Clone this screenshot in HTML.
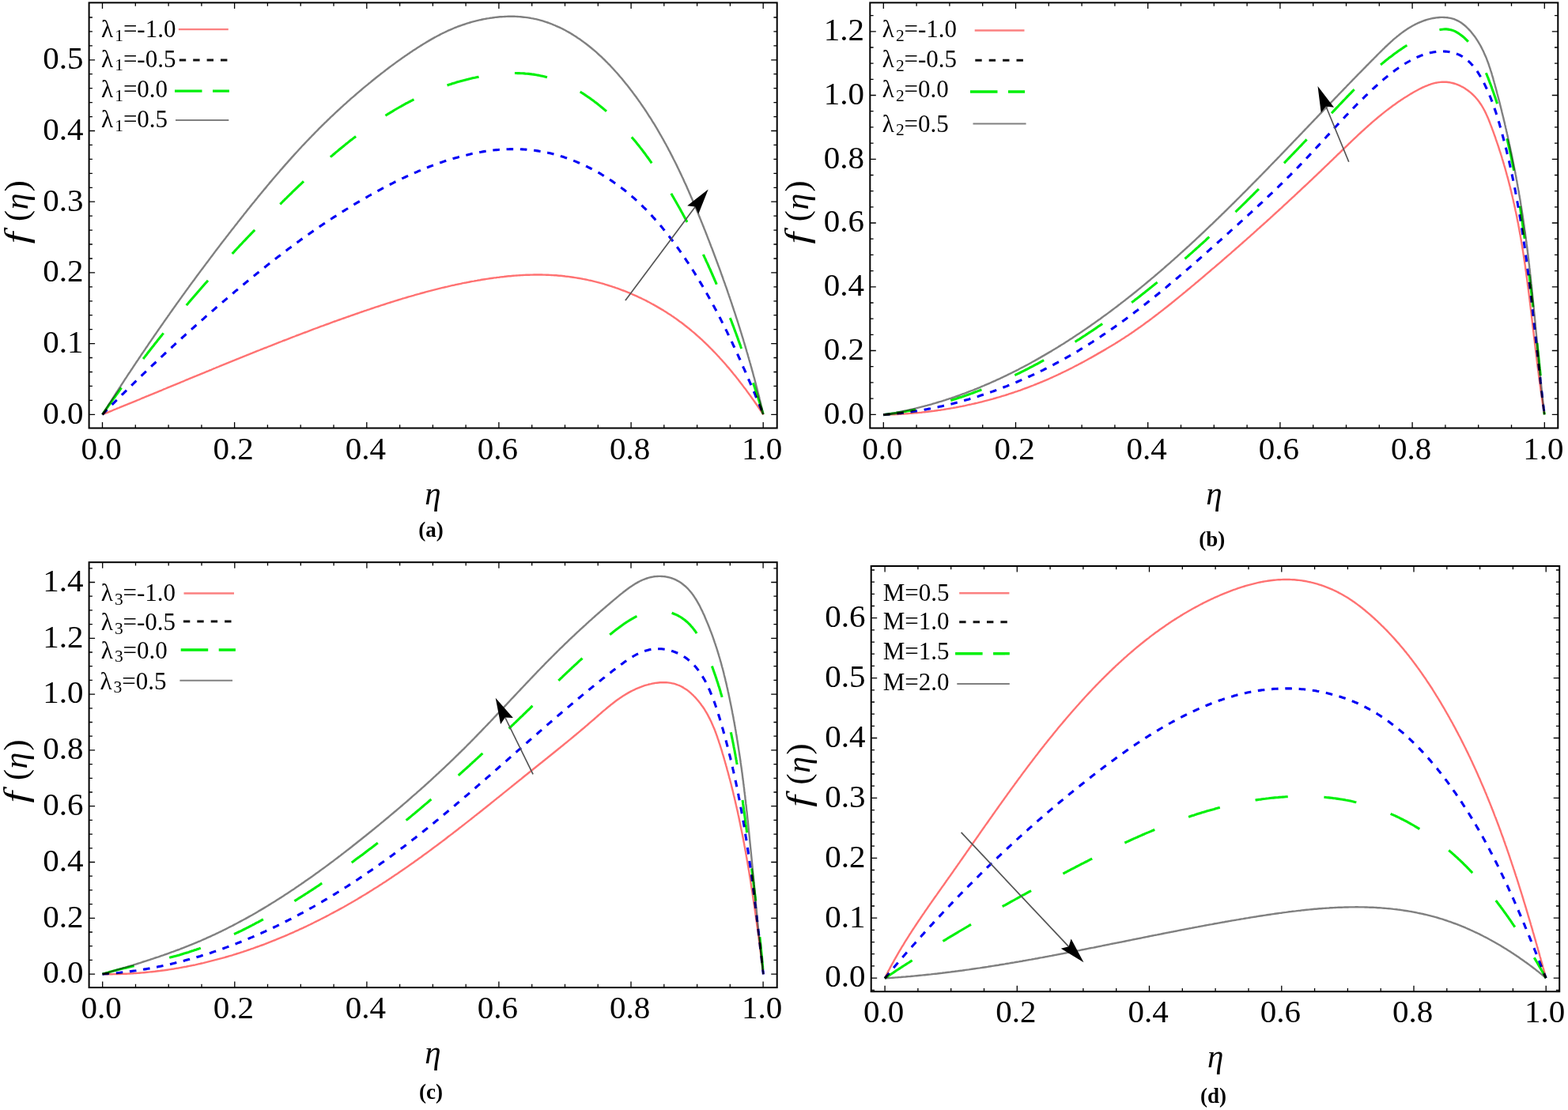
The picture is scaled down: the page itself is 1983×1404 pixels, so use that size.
<!DOCTYPE html><html><head><meta charset="utf-8"><style>html,body{margin:0;padding:0;background:#fff}svg{display:block}</style></head><body><svg xmlns="http://www.w3.org/2000/svg" width="1983" height="1404" viewBox="0 0 1983 1404" font-family="'Liberation Serif', 'Times New Roman', serif">
<rect width="1983" height="1404" fill="#fff"/>
<g>
<path d="M129.5 524.3L131.4 523.5L133.2 522.8L135.1 522.0L137.0 521.3L138.8 520.5L140.7 519.8L142.6 519.0L144.5 518.2L146.3 517.5L148.2 516.7L150.0 516.0L151.9 515.2L153.8 514.4L155.6 513.7L157.5 512.9L159.4 512.1L161.2 511.4L163.1 510.6L165.0 509.8L166.8 509.1L168.7 508.3L170.5 507.6L172.4 506.8L174.3 506.0L176.1 505.3L178.0 504.5L179.8 503.7L181.7 503.0L183.5 502.2L185.4 501.4L187.3 500.7L189.1 499.9L191.0 499.1L192.8 498.4L194.7 497.6L196.5 496.8L198.4 496.1L200.2 495.3L202.1 494.5L204.0 493.8L205.8 493.0L207.7 492.2L209.5 491.5L211.4 490.7L213.2 489.9L215.1 489.2L216.9 488.4L218.8 487.6L220.6 486.9L222.5 486.1L224.3 485.3L226.2 484.6L228.0 483.8L229.9 483.0L231.7 482.3L233.6 481.5L235.4 480.7L237.3 480.0L239.1 479.2L241.0 478.4L242.8 477.7L244.7 476.9L246.5 476.1L248.4 475.4L250.2 474.6L252.1 473.9L253.9 473.1L255.8 472.3L257.6 471.6L259.5 470.8L261.3 470.0L263.2 469.3L265.0 468.5L266.9 467.8L268.7 467.0L270.6 466.2L272.4 465.5L274.3 464.7L276.1 464.0L278.0 463.2L279.9 462.4L281.7 461.7L283.6 460.9L285.4 460.2L287.3 459.4L289.1 458.7L291.0 457.9L292.8 457.2L294.7 456.4L296.5 455.7L298.4 454.9L300.2 454.1L302.1 453.4L303.9 452.6L305.8 451.9L307.6 451.1L309.5 450.4L311.3 449.7L313.2 448.9L315.1 448.2L316.9 447.4L318.8 446.7L320.6 445.9L322.5 445.2L324.3 444.4L326.2 443.7L328.0 443.0L329.9 442.2L331.8 441.5L333.6 440.7L335.5 440.0L337.3 439.3L339.2 438.5L341.0 437.8L342.9 437.1L344.8 436.3L346.6 435.6L348.5 434.9L350.4 434.1L352.2 433.4L354.1 432.7L355.9 432.0L357.8 431.2L359.7 430.5L361.5 429.8L363.4 429.1L365.3 428.3L367.1 427.6L369.0 426.9L370.9 426.2L372.7 425.5L374.6 424.7L376.5 424.0L378.3 423.3L380.2 422.6L382.1 421.9L383.9 421.2L385.8 420.5L387.7 419.8L389.6 419.1L391.4 418.3L393.3 417.6L395.2 416.9L397.1 416.2L398.9 415.5L400.8 414.8L402.7 414.1L404.6 413.4L406.4 412.7L408.3 412.1L410.2 411.4L412.1 410.7L414.0 410.0L415.9 409.3L417.7 408.6L419.6 407.9L421.5 407.2L423.4 406.5L425.3 405.9L427.2 405.2L429.1 404.5L430.9 403.8L432.8 403.2L434.7 402.5L436.6 401.8L438.5 401.1L440.4 400.5L442.3 399.8L444.2 399.1L446.1 398.5L448.0 397.8L449.9 397.1L451.8 396.5L453.7 395.8L455.6 395.2L457.5 394.5L459.4 393.9L461.3 393.2L463.2 392.6L465.1 391.9L467.0 391.3L468.9 390.6L470.8 390.0L472.7 389.4L474.6 388.7L476.5 388.1L478.5 387.5L480.4 386.8L482.3 386.2L484.2 385.6L486.1 385.0L488.0 384.3L490.0 383.7L491.9 383.1L493.8 382.5L495.7 381.9L497.6 381.3L499.6 380.7L501.5 380.1L503.4 379.5L505.3 378.9L507.3 378.3L509.2 377.7L511.1 377.2L513.1 376.6L515.0 376.0L516.9 375.4L518.9 374.9L520.8 374.3L522.7 373.8L524.7 373.2L526.6 372.6L528.6 372.1L530.5 371.6L532.4 371.0L534.4 370.5L536.3 370.0L538.3 369.4L540.2 368.9L542.2 368.4L544.1 367.9L546.1 367.4L548.0 366.9L550.0 366.4L551.9 365.9L553.9 365.4L555.8 364.9L557.8 364.4L559.8 363.9L561.7 363.5L563.7 363.0L565.6 362.6L567.6 362.1L569.6 361.6L571.5 361.2L573.5 360.8L575.5 360.3L577.5 359.9L579.4 359.5L581.4 359.1L583.4 358.7L585.4 358.2L587.3 357.8L589.3 357.5L591.3 357.1L593.3 356.7L595.3 356.3L597.2 355.9L599.2 355.6L601.2 355.2L603.2 354.9L605.2 354.5L607.2 354.2L609.2 353.8L611.2 353.5L613.2 353.2L615.2 352.9L617.2 352.6L619.2 352.3L621.2 352.0L623.2 351.7L625.2 351.4L627.2 351.2L629.2 350.9L631.2 350.7L633.2 350.4L635.2 350.2L637.2 350.0L639.2 349.7L641.2 349.5L643.2 349.3L645.2 349.2L647.2 349.0L649.2 348.8L651.2 348.6L653.2 348.5L655.2 348.4L657.2 348.2L659.2 348.1L661.2 348.0L663.2 347.9L665.2 347.8L667.2 347.7L669.2 347.7L671.2 347.6L673.2 347.6L675.2 347.5L677.2 347.5L679.2 347.5L681.2 347.5L683.2 347.5L685.2 347.5L687.2 347.6L689.2 347.6L691.2 347.7L693.2 347.8L695.2 347.9L697.2 348.0L699.2 348.1L701.2 348.2L703.2 348.3L705.1 348.5L707.1 348.7L709.1 348.8L711.1 349.0L713.1 349.2L715.0 349.5L717.0 349.7L719.0 349.9L721.0 350.2L722.9 350.5L724.9 350.8L726.9 351.1L728.8 351.4L730.8 351.7L732.7 352.0L734.7 352.4L736.7 352.8L738.6 353.1L740.6 353.5L742.5 353.9L744.4 354.4L746.4 354.8L748.3 355.2L750.2 355.7L752.2 356.2L754.1 356.6L756.0 357.1L758.0 357.6L759.9 358.2L761.8 358.7L763.7 359.2L765.6 359.8L767.5 360.4L769.4 361.0L771.3 361.6L773.2 362.2L775.1 362.8L777.0 363.4L778.8 364.1L780.7 364.7L782.6 365.4L784.5 366.1L786.3 366.8L788.2 367.5L790.0 368.2L791.9 368.9L793.7 369.7L795.6 370.4L797.4 371.2L799.2 372.0L801.1 372.8L802.9 373.6L804.7 374.4L806.5 375.2L808.3 376.1L810.1 376.9L811.9 377.8L813.7 378.7L815.5 379.5L817.3 380.4L819.0 381.4L820.8 382.3L822.6 383.2L824.3 384.2L826.1 385.1L827.8 386.1L829.6 387.1L831.3 388.1L833.0 389.1L834.7 390.1L836.4 391.1L838.2 392.1L839.9 393.2L841.6 394.2L843.2 395.3L844.9 396.4L846.6 397.5L848.3 398.6L849.9 399.7L851.6 400.8L853.2 402.0L854.9 403.1L856.5 404.3L858.1 405.5L859.7 406.7L861.4 407.8L863.0 409.0L864.6 410.3L866.1 411.5L867.7 412.7L869.3 414.0L870.9 415.2L872.4 416.5L874.0 417.8L875.5 419.1L877.1 420.4L878.6 421.7L880.1 423.0L881.6 424.3L883.1 425.7L884.6 427.0L886.1 428.4L887.6 429.7L889.1 431.1L890.5 432.5L892.0 433.9L893.5 435.3L894.9 436.7L896.3 438.1L897.8 439.6L899.2 441.0L900.6 442.4L902.0 443.9L903.4 445.3L904.8 446.8L906.2 448.3L907.6 449.8L909.0 451.2L910.3 452.7L911.7 454.2L913.1 455.7L914.4 457.3L915.8 458.8L917.1 460.3L918.4 461.8L919.7 463.4L921.1 464.9L922.4 466.4L923.7 468.0L925.0 469.6L926.3 471.1L927.5 472.7L928.8 474.2L930.1 475.8L931.4 477.4L932.6 479.0L933.9 480.6L935.1 482.2L936.3 483.8L937.6 485.4L938.8 487.0L940.0 488.6L941.2 490.2L942.5 491.8L943.7 493.4L944.8 495.0L946.0 496.6L947.2 498.3L948.4 499.9L949.6 501.5L950.7 503.1L951.9 504.8L953.1 506.4L954.2 508.0L955.4 509.7L956.5 511.3L957.6 512.9L958.8 514.6L959.9 516.2L961.0 517.8L962.1 519.5L963.2 521.1L964.3 522.8L965.4 524.4" fill="none" stroke="#ff7272" stroke-width="2.4" stroke-linejoin="round" style="mix-blend-mode:multiply"/>
<path d="M129.5 524.3L130.9 522.9L132.3 521.5L133.6 520.1L135.0 518.7L136.4 517.3L137.8 515.9L139.2 514.5L140.6 513.0L142.0 511.6L143.4 510.2L144.8 508.8L146.2 507.4L147.6 506.0L149.0 504.6L150.4 503.2L151.8 501.8L153.2 500.4L154.6 499.0L156.1 497.6L157.5 496.2L158.9 494.8L160.3 493.4L161.7 492.0L163.2 490.6L164.6 489.2L166.0 487.8L167.5 486.4L168.9 485.0L170.3 483.6L171.8 482.2L173.2 480.8L174.6 479.4L176.1 478.0L177.5 476.6L179.0 475.2L180.4 473.8L181.9 472.4L183.3 471.1L184.8 469.7L186.2 468.3L187.7 466.9L189.2 465.5L190.6 464.1L192.1 462.7L193.5 461.3L195.0 460.0L196.5 458.6L197.9 457.2L199.4 455.8L200.9 454.4L202.4 453.0L203.8 451.7L205.3 450.3L206.8 448.9L208.3 447.5L209.7 446.2L211.2 444.8L212.7 443.4L214.2 442.0L215.7 440.7L217.2 439.3L218.6 437.9L220.1 436.6L221.6 435.2L223.1 433.8L224.6 432.5L226.1 431.1L227.6 429.7L229.1 428.4L230.6 427.0L232.1 425.7L233.6 424.3L235.1 422.9L236.6 421.6L238.1 420.2L239.6 418.9L241.1 417.5L242.6 416.2L244.1 414.8L245.6 413.5L247.1 412.1L248.6 410.8L250.1 409.5L251.7 408.1L253.2 406.8L254.7 405.4L256.2 404.1L257.7 402.8L259.2 401.4L260.7 400.1L262.3 398.8L263.8 397.5L265.3 396.1L266.8 394.8L268.3 393.5L269.9 392.2L271.4 390.8L272.9 389.5L274.4 388.2L275.9 386.9L277.5 385.6L279.0 384.3L280.5 383.0L282.0 381.7L283.6 380.4L285.1 379.1L286.6 377.8L288.1 376.5L289.7 375.2L291.2 373.9L292.7 372.6L294.3 371.3L295.8 370.0L297.3 368.7L298.8 367.4L300.4 366.2L301.9 364.9L303.4 363.6L305.0 362.3L306.5 361.0L308.0 359.8L309.6 358.5L311.1 357.2L312.6 356.0L314.2 354.7L315.7 353.4L317.2 352.2L318.8 350.9L320.3 349.7L321.9 348.4L323.4 347.2L324.9 345.9L326.5 344.7L328.0 343.4L329.6 342.2L331.1 341.0L332.7 339.7L334.2 338.5L335.8 337.3L337.3 336.0L338.9 334.8L340.4 333.6L342.0 332.4L343.5 331.1L345.1 329.9L346.7 328.7L348.2 327.5L349.8 326.3L351.3 325.1L352.9 323.9L354.5 322.7L356.0 321.5L357.6 320.3L359.2 319.1L360.8 317.9L362.3 316.7L363.9 315.5L365.5 314.3L367.1 313.2L368.7 312.0L370.2 310.8L371.8 309.6L373.4 308.5L375.0 307.3L376.6 306.1L378.2 305.0L379.8 303.8L381.4 302.6L383.0 301.5L384.6 300.3L386.2 299.2L387.8 298.0L389.5 296.9L391.1 295.8L392.7 294.6L394.3 293.5L395.9 292.4L397.6 291.2L399.2 290.1L400.8 289.0L402.5 287.9L404.1 286.7L405.7 285.6L407.4 284.5L409.0 283.4L410.7 282.3L412.3 281.2L414.0 280.1L415.6 279.0L417.3 277.9L419.0 276.8L420.6 275.7L422.3 274.6L424.0 273.6L425.7 272.5L427.3 271.4L429.0 270.3L430.7 269.3L432.4 268.2L434.1 267.1L435.8 266.1L437.5 265.0L439.2 264.0L440.9 262.9L442.6 261.9L444.3 260.8L446.1 259.8L447.8 258.7L449.5 257.7L451.2 256.7L453.0 255.6L454.7 254.6L456.5 253.6L458.2 252.6L460.0 251.6L461.7 250.6L463.5 249.6L465.2 248.5L467.0 247.5L468.8 246.5L470.6 245.6L472.3 244.6L474.1 243.6L475.9 242.6L477.7 241.6L479.5 240.6L481.3 239.7L483.1 238.7L484.9 237.7L486.7 236.8L488.5 235.8L490.4 234.9L492.2 233.9L494.0 233.0L495.8 232.1L497.7 231.2L499.5 230.2L501.4 229.3L503.2 228.4L505.1 227.5L506.9 226.6L508.8 225.7L510.6 224.9L512.5 224.0L514.3 223.1L516.2 222.3L518.1 221.4L519.9 220.6L521.8 219.7L523.7 218.9L525.6 218.1L527.4 217.3L529.3 216.4L531.2 215.7L533.1 214.9L535.0 214.1L536.9 213.3L538.8 212.5L540.7 211.8L542.6 211.0L544.5 210.3L546.4 209.6L548.3 208.9L550.2 208.2L552.1 207.5L554.0 206.8L556.0 206.1L557.9 205.4L559.8 204.8L561.7 204.1L563.6 203.5L565.6 202.9L567.5 202.3L569.4 201.7L571.4 201.1L573.3 200.5L575.2 199.9L577.1 199.4L579.1 198.9L581.0 198.3L583.0 197.8L584.9 197.3L586.8 196.8L588.8 196.3L590.7 195.9L592.7 195.4L594.6 195.0L596.5 194.5L598.5 194.1L600.4 193.7L602.4 193.3L604.3 193.0L606.3 192.6L608.2 192.3L610.2 191.9L612.1 191.6L614.1 191.3L616.0 191.0L618.0 190.8L619.9 190.5L621.9 190.3L623.8 190.0L625.8 189.8L627.7 189.6L629.7 189.5L631.6 189.3L633.6 189.2L635.5 189.0L637.5 188.9L639.4 188.8L641.4 188.7L643.3 188.7L645.3 188.6L647.2 188.6L649.1 188.6L651.1 188.6L653.0 188.6L655.0 188.6L656.9 188.7L658.9 188.8L660.8 188.9L662.8 189.0L664.7 189.1L666.6 189.3L668.6 189.4L670.5 189.6L672.4 189.8L674.4 190.1L676.3 190.3L678.3 190.6L680.2 190.9L682.1 191.2L684.0 191.5L686.0 191.8L687.9 192.2L689.8 192.6L691.7 193.0L693.7 193.4L695.6 193.8L697.5 194.3L699.4 194.8L701.3 195.3L703.2 195.8L705.1 196.3L707.0 196.9L708.9 197.5L710.8 198.0L712.7 198.6L714.6 199.3L716.5 199.9L718.3 200.6L720.2 201.3L722.1 201.9L724.0 202.7L725.8 203.4L727.7 204.1L729.5 204.9L731.4 205.7L733.2 206.5L735.0 207.3L736.9 208.1L738.7 208.9L740.5 209.8L742.3 210.7L744.1 211.6L745.9 212.5L747.7 213.4L749.5 214.3L751.3 215.3L753.1 216.2L754.8 217.2L756.6 218.2L758.4 219.2L760.1 220.2L761.8 221.3L763.6 222.3L765.3 223.4L767.0 224.4L768.7 225.5L770.4 226.6L772.1 227.8L773.8 228.9L775.4 230.0L777.1 231.2L778.8 232.3L780.4 233.5L782.1 234.7L783.7 235.9L785.3 237.1L786.9 238.4L788.5 239.6L790.1 240.8L791.7 242.1L793.2 243.4L794.8 244.7L796.3 246.0L797.9 247.3L799.4 248.6L800.9 249.9L802.4 251.2L803.9 252.6L805.4 253.9L806.9 255.3L808.4 256.7L809.8 258.1L811.3 259.5L812.7 260.9L814.1 262.3L815.6 263.7L817.0 265.1L818.4 266.6L819.8 268.0L821.2 269.5L822.5 271.0L823.9 272.4L825.3 273.9L826.6 275.4L828.0 276.9L829.3 278.4L830.6 279.9L832.0 281.4L833.3 283.0L834.6 284.5L835.9 286.0L837.2 287.6L838.4 289.1L839.7 290.7L841.0 292.3L842.2 293.8L843.5 295.4L844.7 297.0L846.0 298.6L847.2 300.2L848.4 301.8L849.7 303.4L850.9 305.0L852.1 306.6L853.3 308.2L854.4 309.8L855.6 311.5L856.8 313.1L858.0 314.7L859.1 316.4L860.3 318.0L861.5 319.6L862.6 321.3L863.7 322.9L864.9 324.6L866.0 326.3L867.1 327.9L868.2 329.6L869.3 331.3L870.5 332.9L871.6 334.6L872.6 336.3L873.7 338.0L874.8 339.6L875.9 341.3L877.0 343.0L878.0 344.7L879.1 346.4L880.1 348.1L881.2 349.8L882.2 351.5L883.3 353.2L884.3 354.9L885.3 356.6L886.4 358.4L887.4 360.1L888.4 361.8L889.4 363.5L890.4 365.2L891.4 367.0L892.4 368.7L893.4 370.4L894.4 372.2L895.4 373.9L896.4 375.7L897.3 377.4L898.3 379.1L899.3 380.9L900.2 382.6L901.2 384.4L902.1 386.2L903.1 387.9L904.0 389.7L905.0 391.4L905.9 393.2L906.8 395.0L907.8 396.7L908.7 398.5L909.6 400.3L910.5 402.1L911.4 403.8L912.3 405.6L913.2 407.4L914.1 409.2L915.0 411.0L915.9 412.8L916.8 414.5L917.7 416.3L918.6 418.1L919.5 419.9L920.3 421.7L921.2 423.5L922.1 425.3L922.9 427.1L923.8 428.9L924.7 430.7L925.5 432.5L926.4 434.3L927.2 436.2L928.1 438.0L928.9 439.8L929.7 441.6L930.6 443.4L931.4 445.2L932.3 447.1L933.1 448.9L933.9 450.7L934.7 452.5L935.6 454.3L936.4 456.2L937.2 458.0L938.0 459.8L938.8 461.7L939.6 463.5L940.4 465.3L941.3 467.2L942.1 469.0L942.9 470.8L943.7 472.7L944.5 474.5L945.3 476.3L946.0 478.2L946.8 480.0L947.6 481.9L948.4 483.7L949.2 485.5L950.0 487.4L950.8 489.2L951.6 491.1L952.3 492.9L953.1 494.8L953.9 496.6L954.7 498.5L955.4 500.3L956.2 502.2L957.0 504.0L957.8 505.9L958.5 507.7L959.3 509.6L960.1 511.4L960.8 513.3L961.6 515.1L962.4 517.0L963.1 518.8L963.9 520.7L964.6 522.5L965.4 524.4" fill="none" stroke="#0000f5" stroke-width="3.1" stroke-dasharray="8.6 8.7" stroke-linejoin="round" style="mix-blend-mode:multiply"/>
<path d="M129.5 524.3L130.7 522.6L131.8 521.0L133.0 519.3L134.2 517.6L135.4 515.9L136.5 514.3L137.7 512.6L138.9 511.0L140.1 509.3L141.3 507.6L142.4 506.0L143.6 504.3L144.8 502.7L146.0 501.1L147.2 499.4L148.4 497.8L149.6 496.1L150.7 494.5L151.9 492.9L153.1 491.2L154.3 489.6L155.5 488.0L156.7 486.3L157.9 484.7L159.1 483.1L160.3 481.5L161.5 479.8L162.7 478.2L163.9 476.6L165.1 475.0L166.3 473.4L167.5 471.8L168.7 470.2L169.9 468.6L171.1 467.0L172.4 465.4L173.6 463.8L174.8 462.2L176.0 460.6L177.2 459.0L178.4 457.4L179.7 455.8L180.9 454.2L182.1 452.6L183.3 451.1L184.5 449.5L185.8 447.9L187.0 446.3L188.2 444.7L189.4 443.2L190.7 441.6L191.9 440.0L193.1 438.5L194.4 436.9L195.6 435.3L196.8 433.8L198.1 432.2L199.3 430.6L200.6 429.1L201.8 427.5L203.0 426.0L204.3 424.4L205.5 422.9L206.8 421.3L208.0 419.8L209.3 418.2L210.5 416.7L211.8 415.1L213.0 413.6L214.3 412.1L215.6 410.5L216.8 409.0L218.1 407.5L219.3 405.9L220.6 404.4L221.9 402.9L223.1 401.3L224.4 399.8L225.7 398.3L226.9 396.8L228.2 395.2L229.5 393.7L230.8 392.2L232.0 390.7L233.3 389.2L234.6 387.7L235.9 386.1L237.2 384.6L238.4 383.1L239.7 381.6L241.0 380.1L242.3 378.6L243.6 377.1L244.9 375.6L246.2 374.1L247.5 372.6L248.8 371.1L250.1 369.6L251.4 368.1L252.7 366.6L254.0 365.1L255.3 363.6L256.6 362.1L257.9 360.6L259.2 359.1L260.5 357.6L261.8 356.2L263.1 354.7L264.5 353.2L265.8 351.7L267.1 350.2L268.4 348.7L269.7 347.3L271.1 345.8L272.4 344.3L273.7 342.8L275.0 341.4L276.4 339.9L277.7 338.4L279.0 336.9L280.4 335.5L281.7 334.0L283.0 332.5L284.4 331.1L285.7 329.6L287.1 328.1L288.4 326.7L289.8 325.2L291.1 323.7L292.5 322.3L293.8 320.8L295.2 319.4L296.5 317.9L297.9 316.4L299.2 315.0L300.6 313.5L302.0 312.1L303.3 310.6L304.7 309.2L306.1 307.7L307.4 306.3L308.8 304.8L310.2 303.4L311.6 301.9L312.9 300.5L314.3 299.0L315.7 297.6L317.1 296.1L318.5 294.7L319.9 293.2L321.3 291.8L322.6 290.4L324.0 288.9L325.4 287.5L326.8 286.0L328.2 284.6L329.6 283.2L331.0 281.7L332.4 280.3L333.8 278.8L335.2 277.4L336.7 276.0L338.1 274.5L339.5 273.1L340.9 271.7L342.3 270.2L343.7 268.8L345.2 267.4L346.6 265.9L348.0 264.5L349.4 263.1L350.9 261.7L352.3 260.2L353.7 258.8L355.2 257.4L356.6 256.0L358.0 254.5L359.5 253.1L360.9 251.7L362.4 250.3L363.8 248.8L365.3 247.4L366.7 246.0L368.2 244.6L369.6 243.1L371.1 241.7L372.5 240.3L374.0 238.9L375.5 237.5L376.9 236.1L378.4 234.7L379.9 233.3L381.4 231.9L382.8 230.5L384.3 229.1L385.8 227.7L387.3 226.3L388.8 224.9L390.3 223.5L391.7 222.1L393.2 220.7L394.7 219.3L396.2 218.0L397.7 216.6L399.2 215.2L400.7 213.8L402.3 212.5L403.8 211.1L405.3 209.8L406.8 208.4L408.3 207.0L409.8 205.7L411.4 204.3L412.9 203.0L414.4 201.7L416.0 200.3L417.5 199.0L419.0 197.7L420.6 196.4L422.1 195.0L423.7 193.7L425.2 192.4L426.8 191.1L428.3 189.8L429.9 188.5L431.5 187.2L433.0 186.0L434.6 184.7L436.2 183.4L437.7 182.1L439.3 180.9L440.9 179.6L442.5 178.3L444.1 177.1L445.7 175.9L447.3 174.6L448.9 173.4L450.5 172.2L452.1 170.9L453.7 169.7L455.3 168.5L456.9 167.3L458.5 166.1L460.1 164.9L461.8 163.8L463.4 162.6L465.0 161.4L466.7 160.3L468.3 159.1L469.9 157.9L471.6 156.8L473.2 155.7L474.9 154.5L476.5 153.4L478.2 152.3L479.9 151.2L481.5 150.1L483.2 149.0L484.9 147.9L486.6 146.8L488.2 145.8L489.9 144.7L491.6 143.7L493.3 142.6L495.0 141.6L496.7 140.6L498.4 139.5L500.1 138.5L501.8 137.5L503.6 136.5L505.3 135.5L507.0 134.6L508.7 133.6L510.5 132.6L512.2 131.7L513.9 130.7L515.7 129.8L517.4 128.9L519.2 128.0L520.9 127.1L522.7 126.2L524.5 125.3L526.2 124.4L528.0 123.5L529.8 122.7L531.6 121.8L533.3 121.0L535.1 120.2L536.9 119.3L538.7 118.5L540.5 117.7L542.3 117.0L544.2 116.2L546.0 115.4L547.8 114.7L549.6 113.9L551.4 113.2L553.3 112.5L555.1 111.7L557.0 111.0L558.8 110.4L560.7 109.7L562.5 109.0L564.4 108.4L566.2 107.7L568.1 107.1L570.0 106.5L571.9 105.8L573.8 105.2L575.6 104.7L577.5 104.1L579.4 103.5L581.3 103.0L583.2 102.4L585.2 101.9L587.1 101.4L589.0 100.9L590.9 100.4L592.9 99.9L594.8 99.5L596.7 99.0L598.7 98.6L600.6 98.2L602.6 97.7L604.6 97.4L606.5 97.0L608.5 96.6L610.5 96.2L612.5 95.9L614.4 95.6L616.4 95.3L618.4 95.0L620.4 94.7L622.4 94.4L624.4 94.1L626.4 93.9L628.4 93.7L630.4 93.5L632.4 93.3L634.5 93.1L636.5 93.0L638.5 92.9L640.5 92.8L642.5 92.7L644.5 92.6L646.5 92.6L648.5 92.5L650.5 92.5L652.5 92.5L654.6 92.6L656.6 92.6L658.6 92.7L660.6 92.8L662.6 92.9L664.5 93.1L666.5 93.2L668.5 93.4L670.5 93.6L672.5 93.9L674.5 94.1L676.4 94.4L678.4 94.8L680.3 95.1L682.3 95.5L684.2 95.9L686.2 96.3L688.1 96.7L690.0 97.2L692.0 97.7L693.9 98.2L695.8 98.8L697.7 99.4L699.6 100.0L701.5 100.7L703.3 101.3L705.2 102.0L707.0 102.7L708.9 103.5L710.7 104.2L712.6 105.0L714.4 105.9L716.2 106.7L718.0 107.6L719.8 108.4L721.6 109.3L723.4 110.3L725.2 111.2L726.9 112.2L728.7 113.2L730.5 114.2L732.2 115.2L733.9 116.2L735.6 117.3L737.4 118.4L739.1 119.5L740.7 120.6L742.4 121.7L744.1 122.9L745.8 124.0L747.4 125.2L749.1 126.4L750.7 127.6L752.3 128.9L753.9 130.1L755.5 131.3L757.1 132.6L758.7 133.9L760.3 135.2L761.9 136.5L763.4 137.8L765.0 139.1L766.5 140.4L768.0 141.8L769.5 143.1L771.0 144.5L772.5 145.8L774.0 147.2L775.5 148.6L776.9 150.0L778.4 151.4L779.8 152.8L781.2 154.2L782.7 155.7L784.1 157.1L785.5 158.5L786.8 160.0L788.2 161.5L789.6 162.9L791.0 164.4L792.3 165.9L793.7 167.4L795.0 168.9L796.3 170.4L797.6 171.9L798.9 173.4L800.2 175.0L801.5 176.5L802.8 178.0L804.1 179.6L805.4 181.2L806.6 182.7L807.9 184.3L809.1 185.9L810.3 187.4L811.6 189.0L812.8 190.6L814.0 192.2L815.2 193.8L816.4 195.4L817.6 197.1L818.8 198.7L820.0 200.3L821.1 201.9L822.3 203.6L823.4 205.2L824.6 206.9L825.7 208.5L826.9 210.2L828.0 211.8L829.1 213.5L830.2 215.2L831.3 216.9L832.5 218.5L833.6 220.2L834.6 221.9L835.7 223.6L836.8 225.3L837.9 227.0L839.0 228.7L840.0 230.4L841.1 232.1L842.1 233.8L843.2 235.5L844.2 237.2L845.3 238.9L846.3 240.7L847.3 242.4L848.4 244.1L849.4 245.8L850.4 247.6L851.4 249.3L852.4 251.0L853.4 252.8L854.4 254.5L855.4 256.2L856.4 258.0L857.4 259.7L858.4 261.5L859.4 263.2L860.4 265.0L861.3 266.7L862.3 268.5L863.3 270.2L864.2 272.0L865.2 273.8L866.1 275.5L867.1 277.3L868.0 279.0L868.9 280.8L869.9 282.6L870.8 284.4L871.7 286.1L872.6 287.9L873.6 289.7L874.5 291.5L875.4 293.2L876.3 295.0L877.2 296.8L878.1 298.6L879.0 300.4L879.9 302.2L880.8 304.0L881.7 305.8L882.5 307.6L883.4 309.4L884.3 311.2L885.2 313.0L886.0 314.8L886.9 316.6L887.7 318.4L888.6 320.2L889.4 322.0L890.3 323.8L891.1 325.6L892.0 327.4L892.8 329.3L893.6 331.1L894.5 332.9L895.3 334.7L896.1 336.5L896.9 338.4L897.8 340.2L898.6 342.0L899.4 343.8L900.2 345.7L901.0 347.5L901.8 349.3L902.6 351.2L903.4 353.0L904.2 354.8L905.0 356.7L905.8 358.5L906.5 360.4L907.3 362.2L908.1 364.1L908.9 365.9L909.6 367.8L910.4 369.6L911.2 371.4L911.9 373.3L912.7 375.2L913.4 377.0L914.2 378.9L915.0 380.7L915.7 382.6L916.4 384.4L917.2 386.3L917.9 388.2L918.7 390.0L919.4 391.9L920.1 393.7L920.9 395.6L921.6 397.5L922.3 399.3L923.0 401.2L923.7 403.1L924.5 405.0L925.2 406.8L925.9 408.7L926.6 410.6L927.3 412.4L928.0 414.3L928.7 416.2L929.4 418.1L930.1 420.0L930.8 421.8L931.5 423.7L932.2 425.6L932.9 427.5L933.5 429.4L934.2 431.3L934.9 433.1L935.6 435.0L936.3 436.9L936.9 438.8L937.6 440.7L938.3 442.6L938.9 444.5L939.6 446.4L940.3 448.3L940.9 450.1L941.6 452.0L942.2 453.9L942.9 455.8L943.6 457.7L944.2 459.6L944.9 461.5L945.5 463.4L946.2 465.3L946.8 467.2L947.4 469.1L948.1 471.0L948.7 472.9L949.4 474.8L950.0 476.7L950.6 478.6L951.3 480.5L951.9 482.4L952.5 484.3L953.1 486.2L953.8 488.1L954.4 490.0L955.0 491.9L955.6 493.9L956.3 495.8L956.9 497.7L957.5 499.6L958.1 501.5L958.7 503.4L959.3 505.3L960.0 507.2L960.6 509.1L961.2 511.0L961.8 512.9L962.4 514.8L963.0 516.8L963.6 518.7L964.2 520.6L964.8 522.5L965.4 524.4" fill="none" stroke="#00f00a" stroke-width="3.1" stroke-dasharray="41.5 45.7" stroke-dashoffset="0" stroke-linejoin="round" style="mix-blend-mode:multiply"/>
<path d="M129.5 524.3L130.6 522.6L131.6 520.9L132.7 519.2L133.8 517.5L134.9 515.8L136.0 514.1L137.0 512.4L138.1 510.7L139.2 509.1L140.3 507.4L141.4 505.7L142.4 504.0L143.5 502.3L144.6 500.6L145.7 498.9L146.8 497.2L147.9 495.5L149.0 493.9L150.1 492.2L151.2 490.5L152.3 488.8L153.3 487.1L154.4 485.5L155.5 483.8L156.6 482.1L157.7 480.4L158.8 478.7L159.9 477.1L161.0 475.4L162.1 473.7L163.2 472.0L164.4 470.4L165.5 468.7L166.6 467.0L167.7 465.4L168.8 463.7L169.9 462.0L171.0 460.4L172.1 458.7L173.2 457.0L174.4 455.4L175.5 453.7L176.6 452.0L177.7 450.4L178.8 448.7L179.9 447.0L181.1 445.4L182.2 443.7L183.3 442.1L184.4 440.4L185.6 438.7L186.7 437.1L187.8 435.4L188.9 433.8L190.1 432.1L191.2 430.5L192.3 428.8L193.5 427.2L194.6 425.5L195.7 423.9L196.9 422.2L198.0 420.6L199.2 418.9L200.3 417.3L201.4 415.6L202.6 414.0L203.7 412.3L204.9 410.7L206.0 409.1L207.2 407.4L208.3 405.8L209.5 404.1L210.6 402.5L211.8 400.9L212.9 399.2L214.1 397.6L215.2 395.9L216.4 394.3L217.5 392.7L218.7 391.0L219.9 389.4L221.0 387.8L222.2 386.1L223.3 384.5L224.5 382.9L225.7 381.3L226.8 379.6L228.0 378.0L229.2 376.4L230.3 374.7L231.5 373.1L232.7 371.5L233.9 369.9L235.0 368.2L236.2 366.6L237.4 365.0L238.6 363.4L239.7 361.8L240.9 360.1L242.1 358.5L243.3 356.9L244.5 355.3L245.7 353.7L246.8 352.1L248.0 350.5L249.2 348.8L250.4 347.2L251.6 345.6L252.8 344.0L254.0 342.4L255.2 340.8L256.4 339.2L257.6 337.6L258.8 336.0L260.0 334.4L261.2 332.8L262.4 331.2L263.6 329.6L264.8 328.0L266.0 326.4L267.2 324.8L268.4 323.2L269.6 321.6L270.8 320.0L272.0 318.4L273.2 316.8L274.4 315.2L275.7 313.6L276.9 312.0L278.1 310.4L279.3 308.8L280.5 307.2L281.8 305.6L283.0 304.0L284.2 302.4L285.4 300.9L286.6 299.3L287.9 297.7L289.1 296.1L290.3 294.5L291.6 292.9L292.8 291.3L294.0 289.8L295.3 288.2L296.5 286.6L297.7 285.0L299.0 283.4L300.2 281.9L301.4 280.3L302.7 278.7L303.9 277.1L305.2 275.6L306.4 274.0L307.7 272.4L308.9 270.8L310.2 269.3L311.4 267.7L312.7 266.1L313.9 264.6L315.2 263.0L316.4 261.4L317.7 259.9L318.9 258.3L320.2 256.7L321.5 255.2L322.7 253.6L324.0 252.1L325.3 250.5L326.5 248.9L327.8 247.4L329.1 245.8L330.4 244.3L331.6 242.7L332.9 241.2L334.2 239.6L335.5 238.1L336.8 236.6L338.0 235.0L339.3 233.5L340.6 231.9L341.9 230.4L343.2 228.9L344.5 227.3L345.8 225.8L347.1 224.3L348.4 222.7L349.7 221.2L351.0 219.7L352.3 218.2L353.6 216.7L354.9 215.1L356.3 213.6L357.6 212.1L358.9 210.6L360.2 209.1L361.5 207.6L362.9 206.1L364.2 204.6L365.5 203.1L366.9 201.6L368.2 200.1L369.5 198.6L370.9 197.1L372.2 195.6L373.6 194.1L374.9 192.7L376.3 191.2L377.6 189.7L379.0 188.2L380.4 186.8L381.7 185.3L383.1 183.8L384.5 182.4L385.9 180.9L387.2 179.5L388.6 178.0L390.0 176.6L391.4 175.1L392.8 173.7L394.2 172.2L395.6 170.8L397.0 169.4L398.4 167.9L399.8 166.5L401.2 165.1L402.6 163.6L404.0 162.2L405.4 160.8L406.8 159.4L408.3 158.0L409.7 156.6L411.1 155.2L412.6 153.8L414.0 152.4L415.5 151.0L416.9 149.6L418.3 148.2L419.8 146.9L421.3 145.5L422.7 144.1L424.2 142.7L425.6 141.4L427.1 140.0L428.6 138.7L430.0 137.3L431.5 135.9L433.0 134.6L434.5 133.2L436.0 131.9L437.5 130.6L439.0 129.2L440.4 127.9L441.9 126.6L443.4 125.2L444.9 123.9L446.5 122.6L448.0 121.3L449.5 120.0L451.0 118.7L452.5 117.4L454.0 116.1L455.6 114.8L457.1 113.5L458.6 112.2L460.1 110.9L461.7 109.6L463.2 108.4L464.8 107.1L466.3 105.8L467.9 104.6L469.4 103.3L471.0 102.0L472.5 100.8L474.1 99.5L475.6 98.3L477.2 97.0L478.8 95.8L480.3 94.6L481.9 93.3L483.5 92.1L485.1 90.9L486.6 89.7L488.2 88.4L489.8 87.2L491.4 86.0L493.0 84.8L494.6 83.6L496.2 82.4L497.8 81.3L499.4 80.1L501.0 78.9L502.6 77.7L504.3 76.6L505.9 75.4L507.5 74.3L509.1 73.1L510.8 72.0L512.4 70.8L514.1 69.7L515.7 68.6L517.4 67.4L519.0 66.3L520.7 65.2L522.3 64.1L524.0 63.0L525.7 61.9L527.4 60.8L529.0 59.8L530.7 58.7L532.4 57.6L534.1 56.6L535.8 55.5L537.5 54.5L539.2 53.4L541.0 52.4L542.7 51.4L544.4 50.4L546.1 49.4L547.9 48.4L549.6 47.4L551.4 46.5L553.2 45.5L555.0 44.6L556.7 43.6L558.5 42.7L560.3 41.8L562.1 41.0L564.0 40.1L565.8 39.2L567.6 38.4L569.5 37.6L571.3 36.8L573.2 36.0L575.1 35.2L577.0 34.5L578.9 33.7L580.8 33.0L582.7 32.3L584.6 31.6L586.6 31.0L588.5 30.3L590.5 29.7L592.4 29.1L594.4 28.5L596.3 27.9L598.3 27.4L600.3 26.9L602.3 26.4L604.3 25.9L606.3 25.4L608.3 25.0L610.3 24.5L612.3 24.1L614.3 23.8L616.3 23.4L618.3 23.1L620.3 22.7L622.3 22.5L624.4 22.2L626.4 21.9L628.4 21.7L630.4 21.5L632.4 21.3L634.4 21.2L636.4 21.1L638.5 21.0L640.5 20.9L642.5 20.8L644.5 20.8L646.5 20.8L648.5 20.8L650.5 20.8L652.4 20.9L654.4 21.0L656.4 21.1L658.4 21.3L660.3 21.5L662.3 21.7L664.2 21.9L666.2 22.1L668.1 22.4L670.1 22.7L672.0 23.1L673.9 23.4L675.8 23.8L677.7 24.2L679.6 24.7L681.5 25.2L683.3 25.7L685.2 26.2L687.0 26.7L688.9 27.3L690.7 27.9L692.5 28.5L694.4 29.2L696.2 29.8L698.0 30.5L699.8 31.3L701.6 32.0L703.3 32.8L705.1 33.6L706.9 34.4L708.6 35.2L710.4 36.0L712.1 36.9L713.8 37.8L715.6 38.7L717.3 39.7L719.0 40.6L720.7 41.6L722.3 42.6L724.0 43.6L725.7 44.7L727.4 45.7L729.0 46.8L730.6 47.9L732.3 49.0L733.9 50.1L735.5 51.3L737.1 52.4L738.7 53.6L740.3 54.8L741.9 56.0L743.5 57.2L745.1 58.5L746.6 59.7L748.2 61.0L749.7 62.3L751.3 63.6L752.8 64.9L754.3 66.2L755.8 67.6L757.3 69.0L758.8 70.3L760.3 71.7L761.8 73.1L763.2 74.5L764.7 75.9L766.1 77.4L767.6 78.8L769.0 80.3L770.4 81.7L771.9 83.2L773.3 84.7L774.7 86.2L776.1 87.7L777.4 89.2L778.8 90.8L780.2 92.3L781.5 93.8L782.9 95.4L784.2 97.0L785.6 98.5L786.9 100.1L788.2 101.7L789.5 103.3L790.8 104.9L792.1 106.5L793.4 108.1L794.7 109.7L795.9 111.3L797.2 113.0L798.4 114.6L799.7 116.2L800.9 117.9L802.1 119.5L803.4 121.2L804.6 122.8L805.8 124.5L807.0 126.1L808.1 127.8L809.3 129.4L810.5 131.1L811.6 132.8L812.8 134.5L813.9 136.1L815.1 137.8L816.2 139.5L817.3 141.2L818.4 142.9L819.5 144.6L820.6 146.3L821.7 148.0L822.8 149.7L823.9 151.4L824.9 153.1L826.0 154.8L827.1 156.5L828.1 158.2L829.1 159.9L830.2 161.7L831.2 163.4L832.2 165.1L833.2 166.8L834.2 168.6L835.2 170.3L836.2 172.0L837.2 173.8L838.2 175.5L839.2 177.3L840.1 179.0L841.1 180.8L842.1 182.5L843.0 184.3L844.0 186.0L844.9 187.8L845.8 189.6L846.8 191.3L847.7 193.1L848.6 194.9L849.5 196.6L850.4 198.4L851.3 200.2L852.2 202.0L853.1 203.7L854.0 205.5L854.9 207.3L855.8 209.1L856.6 210.9L857.5 212.7L858.4 214.5L859.2 216.3L860.1 218.1L860.9 219.9L861.8 221.7L862.6 223.5L863.5 225.3L864.3 227.1L865.1 228.9L865.9 230.7L866.8 232.5L867.6 234.3L868.4 236.1L869.2 238.0L870.0 239.8L870.8 241.6L871.6 243.4L872.4 245.2L873.2 247.1L874.0 248.9L874.8 250.7L875.6 252.6L876.4 254.4L877.1 256.2L877.9 258.1L878.7 259.9L879.4 261.7L880.2 263.6L881.0 265.4L881.7 267.3L882.5 269.1L883.3 271.0L884.0 272.8L884.8 274.7L885.5 276.5L886.3 278.4L887.0 280.2L887.8 282.1L888.5 283.9L889.2 285.8L890.0 287.6L890.7 289.5L891.5 291.3L892.2 293.2L892.9 295.1L893.7 296.9L894.4 298.8L895.1 300.7L895.8 302.5L896.6 304.4L897.3 306.3L898.0 308.1L898.7 310.0L899.4 311.9L900.2 313.7L900.9 315.6L901.6 317.5L902.3 319.4L903.0 321.2L903.7 323.1L904.4 325.0L905.1 326.9L905.8 328.7L906.5 330.6L907.2 332.5L907.9 334.4L908.6 336.3L909.3 338.2L910.0 340.0L910.7 341.9L911.4 343.8L912.0 345.7L912.7 347.6L913.4 349.5L914.1 351.4L914.7 353.3L915.4 355.2L916.1 357.1L916.8 358.9L917.4 360.8L918.1 362.7L918.8 364.6L919.4 366.5L920.1 368.4L920.7 370.3L921.4 372.2L922.0 374.1L922.7 376.0L923.3 377.9L924.0 379.8L924.6 381.7L925.3 383.7L925.9 385.6L926.5 387.5L927.2 389.4L927.8 391.3L928.4 393.2L929.1 395.1L929.7 397.0L930.3 398.9L930.9 400.8L931.5 402.7L932.2 404.7L932.8 406.6L933.4 408.5L934.0 410.4L934.6 412.3L935.2 414.2L935.8 416.2L936.4 418.1L937.0 420.0L937.6 421.9L938.2 423.8L938.8 425.8L939.4 427.7L940.0 429.6L940.5 431.5L941.1 433.4L941.7 435.4L942.3 437.3L942.8 439.2L943.4 441.1L944.0 443.1L944.5 445.0L945.1 446.9L945.7 448.9L946.2 450.8L946.8 452.7L947.3 454.6L947.9 456.6L948.4 458.5L949.0 460.4L949.5 462.4L950.1 464.3L950.6 466.2L951.1 468.2L951.7 470.1L952.2 472.0L952.7 474.0L953.2 475.9L953.8 477.8L954.3 479.8L954.8 481.7L955.3 483.6L955.8 485.6L956.3 487.5L956.8 489.5L957.3 491.4L957.8 493.3L958.3 495.3L958.8 497.2L959.3 499.1L959.8 501.1L960.3 503.0L960.7 505.0L961.2 506.9L961.7 508.9L962.2 510.8L962.6 512.7L963.1 514.7L963.6 516.6L964.0 518.6L964.5 520.5L964.9 522.5L965.4 524.4" fill="none" stroke="#808080" stroke-width="2.4" stroke-linejoin="round" style="mix-blend-mode:multiply"/>
</g>
<path d="M129.5 541.5V534.0M129.5 3.4V10.9M171.3 541.5V537.2M171.3 3.4V7.7M213.1 541.5V537.2M213.1 3.4V7.7M254.9 541.5V537.2M254.9 3.4V7.7M296.6 541.5V534.0M296.6 3.4V10.9M338.4 541.5V537.2M338.4 3.4V7.7M380.2 541.5V537.2M380.2 3.4V7.7M422.0 541.5V537.2M422.0 3.4V7.7M463.8 541.5V534.0M463.8 3.4V10.9M505.6 541.5V537.2M505.6 3.4V7.7M547.4 541.5V537.2M547.4 3.4V7.7M589.1 541.5V537.2M589.1 3.4V7.7M630.9 541.5V534.0M630.9 3.4V10.9M672.7 541.5V537.2M672.7 3.4V7.7M714.5 541.5V537.2M714.5 3.4V7.7M756.3 541.5V537.2M756.3 3.4V7.7M798.1 541.5V534.0M798.1 3.4V10.9M839.8 541.5V537.2M839.8 3.4V7.7M881.6 541.5V537.2M881.6 3.4V7.7M923.4 541.5V537.2M923.4 3.4V7.7M965.2 541.5V534.0M965.2 3.4V10.9M112.6 524.3H120.1M982.7 524.3H975.2M112.6 506.4H116.9M982.7 506.4H978.4M112.6 488.4H116.9M982.7 488.4H978.4M112.6 470.5H116.9M982.7 470.5H978.4M112.6 452.5H116.9M982.7 452.5H978.4M112.6 434.6H120.1M982.7 434.6H975.2M112.6 416.7H116.9M982.7 416.7H978.4M112.6 398.7H116.9M982.7 398.7H978.4M112.6 380.8H116.9M982.7 380.8H978.4M112.6 362.8H116.9M982.7 362.8H978.4M112.6 344.9H120.1M982.7 344.9H975.2M112.6 327.0H116.9M982.7 327.0H978.4M112.6 309.0H116.9M982.7 309.0H978.4M112.6 291.1H116.9M982.7 291.1H978.4M112.6 273.1H116.9M982.7 273.1H978.4M112.6 255.2H120.1M982.7 255.2H975.2M112.6 237.3H116.9M982.7 237.3H978.4M112.6 219.3H116.9M982.7 219.3H978.4M112.6 201.4H116.9M982.7 201.4H978.4M112.6 183.4H116.9M982.7 183.4H978.4M112.6 165.5H120.1M982.7 165.5H975.2M112.6 147.6H116.9M982.7 147.6H978.4M112.6 129.6H116.9M982.7 129.6H978.4M112.6 111.7H116.9M982.7 111.7H978.4M112.6 93.7H116.9M982.7 93.7H978.4M112.6 75.8H120.1M982.7 75.8H975.2M112.6 57.9H116.9M982.7 57.9H978.4M112.6 39.9H116.9M982.7 39.9H978.4M112.6 22.0H116.9M982.7 22.0H978.4" stroke="#000" stroke-width="1.3" fill="none"/>
<rect x="112.6" y="3.4" width="870.1" height="538.1" fill="none" stroke="#000" stroke-width="2"/>
<g font-size="41"><text x="128.0" y="580.7" text-anchor="middle">0.0</text><text x="295.1" y="580.7" text-anchor="middle">0.2</text><text x="462.3" y="580.7" text-anchor="middle">0.4</text><text x="629.4" y="580.7" text-anchor="middle">0.6</text><text x="796.6" y="580.7" text-anchor="middle">0.8</text><text x="963.7" y="580.7" text-anchor="middle">1.0</text><text x="105.4" y="535.6" text-anchor="end">0.0</text><text x="105.4" y="445.9" text-anchor="end">0.1</text><text x="105.4" y="356.2" text-anchor="end">0.2</text><text x="105.4" y="266.5" text-anchor="end">0.3</text><text x="105.4" y="176.8" text-anchor="end">0.4</text><text x="105.4" y="87.1" text-anchor="end">0.5</text></g>
<text x="547.4" y="637.5" font-size="41" font-style="italic" text-anchor="middle">η</text>
<text x="544.9" y="679.0" font-size="27" font-weight="bold" text-anchor="middle">(a)</text>
<g>
<path d="M1117.1 524.6L1119.1 524.6L1121.1 524.5L1123.1 524.5L1125.1 524.4L1127.1 524.3L1129.2 524.2L1131.2 524.2L1133.2 524.1L1135.2 524.0L1137.2 523.9L1139.2 523.8L1141.2 523.6L1143.2 523.5L1145.2 523.4L1147.2 523.2L1149.2 523.1L1151.2 522.9L1153.2 522.8L1155.2 522.6L1157.2 522.4L1159.2 522.2L1161.2 522.1L1163.2 521.9L1165.2 521.7L1167.2 521.4L1169.2 521.2L1171.2 521.0L1173.1 520.8L1175.1 520.5L1177.1 520.3L1179.1 520.0L1181.1 519.8L1183.1 519.5L1185.1 519.2L1187.0 518.9L1189.0 518.7L1191.0 518.4L1193.0 518.1L1195.0 517.7L1196.9 517.4L1198.9 517.1L1200.9 516.8L1202.8 516.4L1204.8 516.1L1206.8 515.7L1208.8 515.4L1210.7 515.0L1212.7 514.6L1214.6 514.2L1216.6 513.9L1218.6 513.5L1220.5 513.1L1222.5 512.6L1224.4 512.2L1226.4 511.8L1228.3 511.4L1230.3 510.9L1232.2 510.5L1234.2 510.0L1236.1 509.6L1238.1 509.1L1240.0 508.6L1242.0 508.2L1243.9 507.7L1245.8 507.2L1247.8 506.7L1249.7 506.2L1251.6 505.6L1253.5 505.1L1255.5 504.6L1257.4 504.0L1259.3 503.5L1261.2 502.9L1263.2 502.4L1265.1 501.8L1267.0 501.2L1268.9 500.6L1270.8 500.1L1272.7 499.5L1274.6 498.9L1276.5 498.2L1278.4 497.6L1280.3 497.0L1282.2 496.4L1284.1 495.7L1286.0 495.1L1287.9 494.4L1289.8 493.8L1291.7 493.1L1293.5 492.4L1295.4 491.7L1297.3 491.0L1299.2 490.3L1301.0 489.6L1302.9 488.9L1304.8 488.2L1306.6 487.5L1308.5 486.7L1310.4 486.0L1312.2 485.2L1314.1 484.5L1315.9 483.7L1317.8 483.0L1319.6 482.2L1321.5 481.4L1323.3 480.6L1325.1 479.8L1327.0 479.0L1328.8 478.2L1330.6 477.4L1332.4 476.5L1334.3 475.7L1336.1 474.8L1337.9 474.0L1339.7 473.1L1341.5 472.3L1343.3 471.4L1345.2 470.5L1347.0 469.7L1348.8 468.8L1350.6 467.9L1352.3 467.0L1354.1 466.1L1355.9 465.2L1357.7 464.2L1359.5 463.3L1361.3 462.4L1363.1 461.5L1364.8 460.5L1366.6 459.6L1368.4 458.6L1370.2 457.7L1371.9 456.7L1373.7 455.8L1375.5 454.8L1377.2 453.8L1379.0 452.9L1380.7 451.9L1382.5 450.9L1384.2 449.9L1386.0 448.9L1387.7 447.9L1389.4 446.9L1391.2 445.9L1392.9 444.9L1394.7 443.9L1396.4 442.9L1398.1 441.9L1399.8 440.8L1401.6 439.8L1403.3 438.8L1405.0 437.8L1406.7 436.7L1408.4 435.7L1410.1 434.7L1411.8 433.6L1413.5 432.6L1415.2 431.5L1416.9 430.4L1418.6 429.3L1420.3 428.3L1422.0 427.2L1423.6 426.1L1425.3 425.0L1427.0 423.9L1428.6 422.8L1430.3 421.7L1431.9 420.5L1433.6 419.4L1435.2 418.3L1436.9 417.1L1438.5 416.0L1440.1 414.8L1441.8 413.7L1443.4 412.5L1445.0 411.4L1446.6 410.2L1448.2 409.0L1449.8 407.8L1451.4 406.7L1453.1 405.5L1454.7 404.3L1456.3 403.1L1457.8 401.9L1459.4 400.7L1461.0 399.5L1462.6 398.3L1464.2 397.1L1465.8 395.8L1467.4 394.6L1468.9 393.4L1470.5 392.2L1472.1 390.9L1473.6 389.7L1475.2 388.5L1476.8 387.2L1478.3 386.0L1479.9 384.7L1481.5 383.5L1483.0 382.2L1484.6 381.0L1486.1 379.7L1487.7 378.4L1489.2 377.2L1490.8 375.9L1492.3 374.6L1493.9 373.4L1495.4 372.1L1497.0 370.8L1498.5 369.6L1500.0 368.3L1501.6 367.0L1503.1 365.7L1504.7 364.5L1506.2 363.2L1507.7 361.9L1509.3 360.6L1510.8 359.3L1512.3 358.0L1513.9 356.8L1515.4 355.5L1516.9 354.2L1518.5 352.9L1520.0 351.6L1521.5 350.3L1523.1 349.0L1524.6 347.7L1526.1 346.4L1527.6 345.1L1529.2 343.8L1530.7 342.5L1532.2 341.2L1533.7 339.9L1535.3 338.6L1536.8 337.3L1538.3 336.0L1539.8 334.7L1541.4 333.4L1542.9 332.1L1544.4 330.8L1545.9 329.5L1547.4 328.2L1548.9 326.8L1550.5 325.5L1552.0 324.2L1553.5 322.9L1555.0 321.6L1556.5 320.3L1558.0 318.9L1559.5 317.6L1561.0 316.3L1562.5 315.0L1564.0 313.7L1565.6 312.3L1567.1 311.0L1568.6 309.7L1570.1 308.4L1571.6 307.0L1573.1 305.7L1574.6 304.4L1576.1 303.1L1577.6 301.7L1579.1 300.4L1580.6 299.1L1582.1 297.7L1583.6 296.4L1585.1 295.1L1586.6 293.7L1588.1 292.4L1589.5 291.0L1591.0 289.7L1592.5 288.4L1594.0 287.0L1595.5 285.7L1597.0 284.3L1598.5 283.0L1600.0 281.7L1601.5 280.3L1602.9 279.0L1604.4 277.6L1605.9 276.3L1607.4 274.9L1608.9 273.6L1610.4 272.2L1611.8 270.9L1613.3 269.5L1614.8 268.2L1616.3 266.8L1617.7 265.5L1619.2 264.1L1620.7 262.8L1622.2 261.4L1623.6 260.0L1625.1 258.7L1626.6 257.3L1628.1 256.0L1629.5 254.6L1631.0 253.2L1632.5 251.9L1633.9 250.5L1635.4 249.2L1636.9 247.8L1638.3 246.4L1639.8 245.1L1641.2 243.7L1642.7 242.3L1644.2 241.0L1645.6 239.6L1647.1 238.2L1648.5 236.9L1650.0 235.5L1651.5 234.1L1652.9 232.8L1654.4 231.4L1655.8 230.0L1657.3 228.6L1658.7 227.3L1660.2 225.9L1661.6 224.5L1663.1 223.1L1664.5 221.8L1666.0 220.4L1667.4 219.0L1668.9 217.6L1670.3 216.3L1671.7 214.9L1673.2 213.5L1674.6 212.1L1676.1 210.7L1677.5 209.4L1678.9 208.0L1680.4 206.6L1681.8 205.2L1683.2 203.8L1684.7 202.5L1686.1 201.1L1687.5 199.7L1689.0 198.3L1690.4 196.9L1691.8 195.5L1693.3 194.1L1694.7 192.8L1696.1 191.4L1697.6 190.0L1699.0 188.6L1700.4 187.2L1701.8 185.8L1703.3 184.5L1704.7 183.1L1706.1 181.7L1707.6 180.3L1709.0 178.9L1710.4 177.6L1711.9 176.2L1713.3 174.8L1714.8 173.5L1716.2 172.1L1717.7 170.7L1719.1 169.4L1720.6 168.0L1722.0 166.7L1723.5 165.3L1725.0 164.0L1726.5 162.6L1727.9 161.3L1729.4 160.0L1730.9 158.6L1732.4 157.3L1733.9 156.0L1735.4 154.7L1736.9 153.4L1738.4 152.1L1740.0 150.8L1741.5 149.5L1743.0 148.2L1744.6 146.9L1746.1 145.7L1747.7 144.4L1749.3 143.1L1750.8 141.9L1752.4 140.6L1754.0 139.4L1755.6 138.2L1757.2 137.0L1758.9 135.7L1760.5 134.5L1762.1 133.3L1763.8 132.2L1765.4 131.0L1767.1 129.8L1768.8 128.6L1770.5 127.5L1772.2 126.3L1773.9 125.2L1775.6 124.1L1777.3 123.0L1779.1 121.9L1780.9 120.8L1782.6 119.7L1784.4 118.6L1786.2 117.6L1788.0 116.5L1789.8 115.5L1791.7 114.5L1793.5 113.5L1795.4 112.5L1797.2 111.6L1799.1 110.7L1801.0 109.8L1802.8 109.0L1804.7 108.3L1806.6 107.5L1808.5 106.9L1810.4 106.2L1812.3 105.7L1814.2 105.2L1816.1 104.7L1818.0 104.4L1819.9 104.1L1821.8 103.9L1823.7 103.7L1825.6 103.6L1827.4 103.7L1829.3 103.8L1831.2 104.0L1833.1 104.2L1834.9 104.6L1836.8 105.0L1838.6 105.5L1840.4 106.0L1842.2 106.7L1844.0 107.4L1845.8 108.1L1847.5 109.0L1849.2 109.8L1850.9 110.8L1852.6 111.8L1854.2 112.9L1855.8 114.0L1857.4 115.2L1858.9 116.4L1860.4 117.7L1861.9 119.0L1863.4 120.4L1864.8 121.8L1866.1 123.3L1867.4 124.8L1868.7 126.3L1870.0 127.9L1871.1 129.5L1872.3 131.2L1873.4 132.8L1874.4 134.5L1875.5 136.3L1876.4 138.0L1877.4 139.8L1878.3 141.6L1879.2 143.5L1880.0 145.3L1880.9 147.2L1881.7 149.0L1882.5 150.9L1883.2 152.8L1884.0 154.7L1884.7 156.7L1885.5 158.6L1886.2 160.5L1886.9 162.4L1887.6 164.3L1888.3 166.2L1889.0 168.2L1889.7 170.1L1890.4 172.0L1891.1 173.9L1891.7 175.8L1892.4 177.8L1893.0 179.7L1893.7 181.6L1894.3 183.5L1895.0 185.4L1895.6 187.4L1896.2 189.3L1896.8 191.2L1897.5 193.1L1898.1 195.1L1898.7 197.0L1899.3 198.9L1899.8 200.8L1900.4 202.7L1901.0 204.7L1901.6 206.6L1902.1 208.5L1902.7 210.4L1903.3 212.4L1903.8 214.3L1904.3 216.2L1904.9 218.1L1905.4 220.1L1905.9 222.0L1906.5 223.9L1907.0 225.9L1907.5 227.8L1908.0 229.7L1908.5 231.6L1909.0 233.6L1909.5 235.5L1910.0 237.4L1910.4 239.4L1910.9 241.3L1911.4 243.2L1911.8 245.2L1912.3 247.1L1912.8 249.1L1913.2 251.0L1913.7 252.9L1914.1 254.9L1914.5 256.8L1915.0 258.8L1915.4 260.7L1915.8 262.6L1916.2 264.6L1916.6 266.5L1917.1 268.5L1917.5 270.4L1917.9 272.4L1918.3 274.3L1918.6 276.3L1919.0 278.2L1919.4 280.2L1919.8 282.1L1920.2 284.1L1920.5 286.0L1920.9 288.0L1921.3 290.0L1921.6 291.9L1922.0 293.9L1922.3 295.8L1922.7 297.8L1923.0 299.8L1923.4 301.7L1923.7 303.7L1924.0 305.7L1924.4 307.6L1924.7 309.6L1925.0 311.6L1925.3 313.6L1925.7 315.5L1926.0 317.5L1926.3 319.5L1926.6 321.5L1926.9 323.4L1927.2 325.4L1927.5 327.4L1927.8 329.4L1928.1 331.4L1928.4 333.3L1928.7 335.3L1929.0 337.3L1929.2 339.3L1929.5 341.3L1929.8 343.3L1930.1 345.3L1930.3 347.2L1930.6 349.2L1930.9 351.2L1931.2 353.2L1931.4 355.2L1931.7 357.2L1931.9 359.2L1932.2 361.2L1932.5 363.2L1932.7 365.2L1933.0 367.1L1933.2 369.1L1933.5 371.1L1933.7 373.1L1934.0 375.1L1934.2 377.1L1934.5 379.1L1934.7 381.1L1935.0 383.1L1935.2 385.1L1935.5 387.1L1935.7 389.1L1935.9 391.1L1936.2 393.1L1936.4 395.1L1936.7 397.1L1936.9 399.1L1937.1 401.1L1937.4 403.1L1937.6 405.1L1937.8 407.1L1938.1 409.1L1938.3 411.1L1938.5 413.1L1938.8 415.1L1939.0 417.1L1939.2 419.1L1939.5 421.1L1939.7 423.1L1939.9 425.1L1940.2 427.1L1940.4 429.1L1940.7 431.0L1940.9 433.0L1941.1 435.0L1941.4 437.0L1941.6 439.0L1941.8 441.0L1942.1 443.0L1942.3 445.0L1942.6 447.0L1942.8 449.0L1943.0 451.0L1943.3 453.0L1943.5 455.0L1943.8 457.0L1944.0 459.0L1944.3 461.0L1944.5 463.0L1944.8 464.9L1945.0 466.9L1945.3 468.9L1945.5 470.9L1945.8 472.9L1946.0 474.9L1946.3 476.9L1946.6 478.9L1946.8 480.8L1947.1 482.8L1947.4 484.8L1947.6 486.8L1947.9 488.8L1948.2 490.8L1948.4 492.7L1948.7 494.7L1949.0 496.7L1949.3 498.7L1949.6 500.7L1949.9 502.6L1950.1 504.6L1950.4 506.6L1950.7 508.6L1951.0 510.5L1951.3 512.5L1951.6 514.5L1951.9 516.4L1952.3 518.4L1952.6 520.4L1952.9 522.3L1953.2 524.3" fill="none" stroke="#ff7272" stroke-width="2.4" stroke-linejoin="round" style="mix-blend-mode:multiply"/>
<path d="M1117.1 524.6L1119.1 524.5L1121.1 524.3L1123.1 524.1L1125.1 524.0L1127.1 523.8L1129.1 523.6L1131.1 523.4L1133.1 523.2L1135.1 523.0L1137.1 522.8L1139.1 522.6L1141.1 522.3L1143.1 522.1L1145.1 521.8L1147.1 521.6L1149.1 521.3L1151.1 521.0L1153.0 520.8L1155.0 520.5L1157.0 520.2L1159.0 519.9L1161.0 519.6L1163.0 519.2L1164.9 518.9L1166.9 518.6L1168.9 518.2L1170.9 517.9L1172.8 517.5L1174.8 517.1L1176.8 516.8L1178.7 516.4L1180.7 516.0L1182.7 515.6L1184.6 515.2L1186.6 514.8L1188.5 514.3L1190.5 513.9L1192.4 513.5L1194.4 513.0L1196.4 512.6L1198.3 512.1L1200.2 511.6L1202.2 511.2L1204.1 510.7L1206.1 510.2L1208.0 509.7L1210.0 509.2L1211.9 508.7L1213.8 508.2L1215.8 507.6L1217.7 507.1L1219.6 506.6L1221.5 506.0L1223.5 505.4L1225.4 504.9L1227.3 504.3L1229.2 503.7L1231.2 503.2L1233.1 502.6L1235.0 502.0L1236.9 501.4L1238.8 500.7L1240.7 500.1L1242.6 499.5L1244.5 498.9L1246.4 498.2L1248.3 497.6L1250.2 496.9L1252.1 496.3L1254.0 495.6L1255.9 494.9L1257.8 494.3L1259.6 493.6L1261.5 492.9L1263.4 492.2L1265.3 491.5L1267.1 490.8L1269.0 490.0L1270.9 489.3L1272.8 488.6L1274.6 487.8L1276.5 487.1L1278.3 486.4L1280.2 485.6L1282.1 484.8L1283.9 484.1L1285.8 483.3L1287.6 482.5L1289.4 481.7L1291.3 480.9L1293.1 480.1L1295.0 479.3L1296.8 478.5L1298.6 477.7L1300.4 476.8L1302.3 476.0L1304.1 475.2L1305.9 474.3L1307.7 473.5L1309.5 472.6L1311.4 471.8L1313.2 470.9L1315.0 470.0L1316.8 469.1L1318.6 468.3L1320.4 467.4L1322.2 466.5L1323.9 465.6L1325.7 464.7L1327.5 463.7L1329.3 462.8L1331.1 461.9L1332.9 461.0L1334.6 460.0L1336.4 459.1L1338.2 458.1L1339.9 457.2L1341.7 456.2L1343.4 455.3L1345.2 454.3L1346.9 453.3L1348.7 452.3L1350.4 451.4L1352.2 450.4L1353.9 449.4L1355.6 448.4L1357.4 447.4L1359.1 446.3L1360.8 445.3L1362.6 444.3L1364.3 443.3L1366.0 442.2L1367.7 441.2L1369.4 440.2L1371.1 439.1L1372.8 438.1L1374.5 437.0L1376.2 435.9L1377.9 434.9L1379.6 433.8L1381.3 432.7L1382.9 431.6L1384.6 430.6L1386.3 429.5L1388.0 428.4L1389.6 427.3L1391.3 426.2L1393.0 425.0L1394.6 423.9L1396.3 422.8L1398.0 421.7L1399.6 420.6L1401.3 419.4L1402.9 418.3L1404.6 417.2L1406.2 416.0L1407.8 414.9L1409.5 413.7L1411.1 412.6L1412.7 411.4L1414.4 410.2L1416.0 409.1L1417.6 407.9L1419.2 406.7L1420.9 405.6L1422.5 404.4L1424.1 403.2L1425.7 402.0L1427.3 400.8L1428.9 399.6L1430.5 398.4L1432.1 397.2L1433.7 396.0L1435.3 394.8L1436.9 393.6L1438.5 392.4L1440.1 391.1L1441.7 389.9L1443.3 388.7L1444.9 387.5L1446.4 386.2L1448.0 385.0L1449.6 383.8L1451.2 382.5L1452.7 381.3L1454.3 380.0L1455.9 378.8L1457.5 377.5L1459.0 376.3L1460.6 375.0L1462.1 373.8L1463.7 372.5L1465.3 371.2L1466.8 370.0L1468.4 368.7L1469.9 367.4L1471.5 366.1L1473.0 364.9L1474.6 363.6L1476.1 362.3L1477.7 361.0L1479.2 359.7L1480.7 358.4L1482.3 357.2L1483.8 355.9L1485.4 354.6L1486.9 353.3L1488.4 352.0L1490.0 350.7L1491.5 349.4L1493.0 348.1L1494.5 346.8L1496.1 345.5L1497.6 344.1L1499.1 342.8L1500.6 341.5L1502.2 340.2L1503.7 338.9L1505.2 337.6L1506.7 336.3L1508.2 334.9L1509.7 333.6L1511.3 332.3L1512.8 331.0L1514.3 329.6L1515.8 328.3L1517.3 327.0L1518.8 325.7L1520.3 324.3L1521.8 323.0L1523.3 321.7L1524.8 320.3L1526.3 319.0L1527.8 317.7L1529.3 316.3L1530.8 315.0L1532.3 313.7L1533.8 312.3L1535.3 311.0L1536.8 309.7L1538.3 308.3L1539.8 307.0L1541.3 305.6L1542.8 304.3L1544.3 303.0L1545.8 301.6L1547.3 300.3L1548.8 298.9L1550.3 297.6L1551.8 296.3L1553.3 294.9L1554.8 293.6L1556.2 292.2L1557.7 290.9L1559.2 289.6L1560.7 288.2L1562.2 286.9L1563.7 285.5L1565.2 284.2L1566.7 282.8L1568.1 281.5L1569.6 280.2L1571.1 278.8L1572.6 277.5L1574.1 276.1L1575.5 274.8L1577.0 273.4L1578.5 272.1L1580.0 270.7L1581.5 269.4L1582.9 268.0L1584.4 266.6L1585.9 265.3L1587.3 263.9L1588.8 262.6L1590.3 261.2L1591.7 259.9L1593.2 258.5L1594.7 257.1L1596.1 255.8L1597.6 254.4L1599.0 253.0L1600.5 251.7L1602.0 250.3L1603.4 248.9L1604.9 247.5L1606.3 246.2L1607.8 244.8L1609.2 243.4L1610.7 242.0L1612.1 240.6L1613.5 239.3L1615.0 237.9L1616.4 236.5L1617.8 235.1L1619.3 233.7L1620.7 232.3L1622.1 230.9L1623.6 229.5L1625.0 228.1L1626.4 226.7L1627.8 225.3L1629.2 223.9L1630.7 222.5L1632.1 221.1L1633.5 219.6L1634.9 218.2L1636.3 216.8L1637.7 215.4L1639.1 213.9L1640.5 212.5L1641.9 211.1L1643.3 209.6L1644.7 208.2L1646.1 206.8L1647.4 205.3L1648.8 203.9L1650.2 202.4L1651.6 201.0L1653.0 199.5L1654.3 198.1L1655.7 196.6L1657.1 195.1L1658.4 193.7L1659.8 192.2L1661.2 190.7L1662.5 189.3L1663.9 187.8L1665.3 186.3L1666.6 184.9L1668.0 183.4L1669.3 181.9L1670.7 180.4L1672.1 179.0L1673.4 177.5L1674.8 176.0L1676.1 174.5L1677.5 173.1L1678.8 171.6L1680.2 170.1L1681.6 168.6L1682.9 167.2L1684.3 165.7L1685.6 164.2L1687.0 162.7L1688.3 161.3L1689.7 159.8L1691.1 158.3L1692.4 156.9L1693.8 155.4L1695.2 153.9L1696.5 152.5L1697.9 151.0L1699.3 149.5L1700.7 148.1L1702.0 146.6L1703.4 145.2L1704.8 143.7L1706.2 142.3L1707.6 140.8L1709.0 139.4L1710.3 138.0L1711.7 136.5L1713.1 135.1L1714.5 133.7L1715.9 132.2L1717.4 130.8L1718.8 129.4L1720.2 128.0L1721.6 126.6L1723.0 125.2L1724.5 123.8L1725.9 122.4L1727.3 121.0L1728.8 119.6L1730.2 118.2L1731.7 116.8L1733.1 115.5L1734.6 114.1L1736.0 112.7L1737.5 111.4L1739.0 110.0L1740.5 108.7L1741.9 107.3L1743.4 106.0L1744.9 104.7L1746.4 103.4L1748.0 102.0L1749.5 100.7L1751.0 99.4L1752.5 98.2L1754.1 96.9L1755.6 95.6L1757.2 94.4L1758.8 93.1L1760.4 91.9L1762.0 90.7L1763.6 89.5L1765.2 88.3L1766.8 87.2L1768.5 86.0L1770.1 84.9L1771.8 83.8L1773.5 82.7L1775.2 81.6L1776.9 80.5L1778.6 79.5L1780.4 78.5L1782.2 77.5L1783.9 76.5L1785.7 75.5L1787.6 74.6L1789.4 73.7L1791.3 72.8L1793.1 72.0L1795.0 71.2L1796.9 70.4L1798.8 69.7L1800.8 69.0L1802.7 68.4L1804.6 67.8L1806.6 67.3L1808.5 66.8L1810.5 66.4L1812.4 66.0L1814.4 65.7L1816.4 65.4L1818.3 65.2L1820.2 65.1L1822.2 65.0L1824.1 65.0L1826.0 65.0L1827.9 65.1L1829.8 65.3L1831.7 65.5L1833.6 65.8L1835.4 66.2L1837.2 66.6L1839.0 67.1L1840.8 67.6L1842.5 68.2L1844.3 68.9L1846.0 69.7L1847.6 70.5L1849.2 71.4L1850.8 72.4L1852.4 73.5L1853.9 74.6L1855.4 75.8L1856.8 77.0L1858.2 78.4L1859.6 79.7L1861.0 81.2L1862.3 82.6L1863.6 84.2L1864.8 85.7L1866.1 87.4L1867.3 89.0L1868.5 90.7L1869.6 92.4L1870.7 94.2L1871.8 96.0L1872.9 97.8L1873.9 99.6L1874.9 101.5L1875.9 103.4L1876.9 105.3L1877.8 107.2L1878.7 109.1L1879.6 111.0L1880.5 112.9L1881.4 114.8L1882.2 116.7L1883.0 118.7L1883.8 120.6L1884.6 122.5L1885.4 124.4L1886.1 126.3L1886.9 128.2L1887.6 130.1L1888.3 132.0L1889.0 133.9L1889.6 135.8L1890.3 137.7L1890.9 139.6L1891.6 141.5L1892.2 143.4L1892.8 145.4L1893.4 147.3L1894.0 149.2L1894.6 151.1L1895.1 153.0L1895.7 154.9L1896.3 156.8L1896.8 158.7L1897.4 160.6L1897.9 162.5L1898.4 164.4L1899.0 166.3L1899.5 168.3L1900.0 170.2L1900.5 172.1L1901.0 174.0L1901.5 175.9L1902.0 177.9L1902.5 179.8L1903.0 181.7L1903.5 183.6L1904.0 185.6L1904.5 187.5L1905.0 189.4L1905.5 191.4L1905.9 193.3L1906.4 195.2L1906.9 197.2L1907.3 199.1L1907.8 201.0L1908.2 203.0L1908.7 204.9L1909.1 206.8L1909.6 208.8L1910.0 210.7L1910.4 212.7L1910.8 214.6L1911.3 216.6L1911.7 218.5L1912.1 220.5L1912.5 222.4L1912.9 224.4L1913.3 226.3L1913.7 228.3L1914.1 230.2L1914.5 232.2L1914.9 234.2L1915.3 236.1L1915.7 238.1L1916.1 240.0L1916.5 242.0L1916.8 244.0L1917.2 245.9L1917.6 247.9L1918.0 249.8L1918.3 251.8L1918.7 253.8L1919.0 255.7L1919.4 257.7L1919.7 259.7L1920.1 261.7L1920.4 263.6L1920.8 265.6L1921.1 267.6L1921.5 269.5L1921.8 271.5L1922.1 273.5L1922.5 275.5L1922.8 277.4L1923.1 279.4L1923.4 281.4L1923.7 283.4L1924.1 285.4L1924.4 287.3L1924.7 289.3L1925.0 291.3L1925.3 293.3L1925.6 295.3L1925.9 297.2L1926.2 299.2L1926.5 301.2L1926.8 303.2L1927.1 305.2L1927.4 307.2L1927.7 309.2L1928.0 311.1L1928.2 313.1L1928.5 315.1L1928.8 317.1L1929.1 319.1L1929.4 321.1L1929.6 323.1L1929.9 325.1L1930.2 327.1L1930.5 329.1L1930.7 331.0L1931.0 333.0L1931.2 335.0L1931.5 337.0L1931.8 339.0L1932.0 341.0L1932.3 343.0L1932.5 345.0L1932.8 347.0L1933.0 349.0L1933.3 351.0L1933.5 353.0L1933.8 355.0L1934.0 357.0L1934.3 359.0L1934.5 361.0L1934.8 363.0L1935.0 365.0L1935.3 367.0L1935.5 369.0L1935.7 371.0L1936.0 373.0L1936.2 374.9L1936.4 376.9L1936.7 378.9L1936.9 380.9L1937.1 382.9L1937.4 384.9L1937.6 386.9L1937.8 388.9L1938.1 390.9L1938.3 392.9L1938.5 394.9L1938.7 396.9L1939.0 398.9L1939.2 400.9L1939.4 402.9L1939.6 404.9L1939.9 406.9L1940.1 408.9L1940.3 410.9L1940.5 412.9L1940.8 414.9L1941.0 416.9L1941.2 418.9L1941.4 420.9L1941.6 422.9L1941.9 424.9L1942.1 426.9L1942.3 428.9L1942.5 430.9L1942.7 432.9L1942.9 434.9L1943.2 436.9L1943.4 438.9L1943.6 440.9L1943.8 442.9L1944.0 444.9L1944.3 446.9L1944.5 448.9L1944.7 450.9L1944.9 452.9L1945.1 454.8L1945.4 456.8L1945.6 458.8L1945.8 460.8L1946.0 462.8L1946.2 464.8L1946.5 466.8L1946.7 468.8L1946.9 470.8L1947.1 472.8L1947.3 474.8L1947.6 476.7L1947.8 478.7L1948.0 480.7L1948.2 482.7L1948.5 484.7L1948.7 486.7L1948.9 488.7L1949.2 490.7L1949.4 492.6L1949.6 494.6L1949.8 496.6L1950.1 498.6L1950.3 500.6L1950.5 502.6L1950.8 504.5L1951.0 506.5L1951.3 508.5L1951.5 510.5L1951.7 512.4L1952.0 514.4L1952.2 516.4L1952.5 518.4L1952.7 520.4L1953.0 522.3L1953.2 524.3" fill="none" stroke="#0000f5" stroke-width="3.1" stroke-dasharray="8.6 8.7" stroke-linejoin="round" style="mix-blend-mode:multiply"/>
<path d="M1117.1 524.6L1119.1 524.4L1121.1 524.1L1123.1 523.9L1125.1 523.6L1127.1 523.3L1129.1 523.0L1131.1 522.8L1133.1 522.5L1135.1 522.1L1137.1 521.8L1139.1 521.5L1141.1 521.2L1143.0 520.8L1145.0 520.5L1147.0 520.1L1149.0 519.7L1151.0 519.4L1152.9 519.0L1154.9 518.6L1156.9 518.2L1158.8 517.8L1160.8 517.4L1162.7 516.9L1164.7 516.5L1166.7 516.1L1168.6 515.6L1170.6 515.1L1172.5 514.7L1174.5 514.2L1176.4 513.7L1178.4 513.2L1180.3 512.7L1182.2 512.2L1184.2 511.7L1186.1 511.2L1188.0 510.7L1190.0 510.1L1191.9 509.6L1193.8 509.0L1195.7 508.5L1197.7 507.9L1199.6 507.3L1201.5 506.8L1203.4 506.2L1205.3 505.6L1207.2 505.0L1209.1 504.4L1211.0 503.7L1212.9 503.1L1214.8 502.5L1216.7 501.9L1218.6 501.2L1220.5 500.6L1222.4 499.9L1224.3 499.2L1226.2 498.6L1228.1 497.9L1229.9 497.2L1231.8 496.5L1233.7 495.8L1235.6 495.1L1237.4 494.4L1239.3 493.7L1241.2 492.9L1243.0 492.2L1244.9 491.5L1246.7 490.7L1248.6 490.0L1250.5 489.2L1252.3 488.5L1254.2 487.7L1256.0 486.9L1257.8 486.1L1259.7 485.3L1261.5 484.6L1263.4 483.8L1265.2 482.9L1267.0 482.1L1268.9 481.3L1270.7 480.5L1272.5 479.7L1274.3 478.8L1276.2 478.0L1278.0 477.1L1279.8 476.3L1281.6 475.4L1283.4 474.6L1285.2 473.7L1287.0 472.8L1288.8 472.0L1290.6 471.1L1292.4 470.2L1294.2 469.3L1296.0 468.4L1297.8 467.5L1299.6 466.6L1301.4 465.7L1303.1 464.7L1304.9 463.8L1306.7 462.9L1308.5 461.9L1310.2 461.0L1312.0 460.1L1313.8 459.1L1315.5 458.2L1317.3 457.2L1319.1 456.2L1320.8 455.3L1322.6 454.3L1324.3 453.3L1326.1 452.3L1327.8 451.3L1329.6 450.3L1331.3 449.4L1333.0 448.4L1334.8 447.3L1336.5 446.3L1338.2 445.3L1340.0 444.3L1341.7 443.3L1343.4 442.3L1345.1 441.2L1346.8 440.2L1348.6 439.2L1350.3 438.1L1352.0 437.1L1353.7 436.0L1355.4 435.0L1357.1 433.9L1358.8 432.9L1360.5 431.8L1362.2 430.7L1363.9 429.7L1365.6 428.6L1367.2 427.5L1368.9 426.4L1370.6 425.3L1372.3 424.2L1373.9 423.1L1375.6 422.0L1377.3 420.9L1379.0 419.8L1380.6 418.7L1382.3 417.6L1383.9 416.5L1385.6 415.4L1387.2 414.3L1388.9 413.1L1390.5 412.0L1392.2 410.9L1393.8 409.8L1395.5 408.6L1397.1 407.5L1398.8 406.3L1400.4 405.2L1402.0 404.0L1403.6 402.9L1405.3 401.7L1406.9 400.6L1408.5 399.4L1410.1 398.2L1411.8 397.1L1413.4 395.9L1415.0 394.7L1416.6 393.5L1418.2 392.3L1419.8 391.2L1421.4 390.0L1423.0 388.8L1424.6 387.6L1426.2 386.4L1427.8 385.2L1429.4 384.0L1431.0 382.8L1432.6 381.6L1434.2 380.4L1435.7 379.1L1437.3 377.9L1438.9 376.7L1440.5 375.5L1442.1 374.2L1443.6 373.0L1445.2 371.8L1446.8 370.6L1448.3 369.3L1449.9 368.1L1451.5 366.8L1453.0 365.6L1454.6 364.3L1456.1 363.1L1457.7 361.8L1459.2 360.6L1460.8 359.3L1462.3 358.1L1463.9 356.8L1465.4 355.5L1467.0 354.2L1468.5 353.0L1470.1 351.7L1471.6 350.4L1473.1 349.1L1474.7 347.9L1476.2 346.6L1477.7 345.3L1479.2 344.0L1480.8 342.7L1482.3 341.4L1483.8 340.1L1485.3 338.8L1486.9 337.5L1488.4 336.2L1489.9 334.9L1491.4 333.6L1492.9 332.3L1494.4 331.0L1495.9 329.7L1497.4 328.3L1498.9 327.0L1500.4 325.7L1501.9 324.4L1503.4 323.0L1504.9 321.7L1506.4 320.4L1507.9 319.1L1509.4 317.7L1510.9 316.4L1512.4 315.0L1513.9 313.7L1515.4 312.4L1516.9 311.0L1518.3 309.7L1519.8 308.3L1521.3 307.0L1522.8 305.6L1524.3 304.3L1525.7 302.9L1527.2 301.5L1528.7 300.2L1530.2 298.8L1531.6 297.5L1533.1 296.1L1534.6 294.7L1536.0 293.4L1537.5 292.0L1538.9 290.6L1540.4 289.2L1541.9 287.9L1543.3 286.5L1544.8 285.1L1546.2 283.7L1547.7 282.3L1549.1 281.0L1550.6 279.6L1552.0 278.2L1553.5 276.8L1554.9 275.4L1556.4 274.0L1557.8 272.6L1559.3 271.2L1560.7 269.8L1562.2 268.4L1563.6 267.0L1565.0 265.6L1566.5 264.2L1567.9 262.8L1569.4 261.4L1570.8 260.0L1572.2 258.6L1573.7 257.2L1575.1 255.8L1576.5 254.4L1577.9 252.9L1579.4 251.5L1580.8 250.1L1582.2 248.7L1583.6 247.3L1585.1 245.9L1586.5 244.4L1587.9 243.0L1589.3 241.6L1590.8 240.2L1592.2 238.7L1593.6 237.3L1595.0 235.9L1596.4 234.5L1597.8 233.0L1599.2 231.6L1600.7 230.2L1602.1 228.7L1603.5 227.3L1604.9 225.9L1606.3 224.4L1607.7 223.0L1609.1 221.5L1610.5 220.1L1611.9 218.7L1613.3 217.2L1614.7 215.8L1616.1 214.3L1617.5 212.9L1619.0 211.5L1620.4 210.0L1621.8 208.6L1623.2 207.1L1624.6 205.7L1625.9 204.2L1627.3 202.8L1628.7 201.3L1630.1 199.9L1631.5 198.4L1632.9 197.0L1634.3 195.5L1635.7 194.1L1637.1 192.6L1638.5 191.2L1639.9 189.7L1641.3 188.3L1642.7 186.8L1644.1 185.3L1645.5 183.9L1646.8 182.4L1648.2 181.0L1649.6 179.5L1651.0 178.1L1652.4 176.6L1653.8 175.1L1655.2 173.7L1656.6 172.2L1657.9 170.8L1659.3 169.3L1660.7 167.8L1662.1 166.4L1663.5 164.9L1664.9 163.5L1666.2 162.0L1667.6 160.5L1669.0 159.1L1670.4 157.6L1671.8 156.2L1673.2 154.7L1674.5 153.2L1675.9 151.8L1677.3 150.3L1678.7 148.8L1680.1 147.4L1681.4 145.9L1682.8 144.5L1684.2 143.0L1685.6 141.5L1686.9 140.1L1688.3 138.6L1689.7 137.1L1691.1 135.7L1692.5 134.2L1693.8 132.8L1695.2 131.3L1696.6 129.9L1698.0 128.4L1699.4 126.9L1700.8 125.5L1702.2 124.0L1703.5 122.6L1704.9 121.2L1706.3 119.7L1707.7 118.3L1709.1 116.9L1710.5 115.4L1711.9 114.0L1713.3 112.6L1714.7 111.2L1716.2 109.7L1717.6 108.3L1719.0 106.9L1720.4 105.5L1721.8 104.1L1723.3 102.7L1724.7 101.3L1726.1 100.0L1727.6 98.6L1729.0 97.2L1730.5 95.9L1731.9 94.5L1733.4 93.2L1734.9 91.8L1736.3 90.5L1737.8 89.1L1739.3 87.8L1740.8 86.5L1742.3 85.2L1743.8 83.9L1745.3 82.6L1746.8 81.3L1748.3 80.1L1749.9 78.8L1751.4 77.5L1752.9 76.3L1754.5 75.1L1756.0 73.8L1757.6 72.6L1759.2 71.4L1760.8 70.2L1762.3 69.0L1763.9 67.8L1765.5 66.7L1767.1 65.5L1768.8 64.3L1770.4 63.2L1772.0 62.1L1773.7 61.0L1775.3 59.9L1777.0 58.8L1778.7 57.7L1780.4 56.6L1782.1 55.6L1783.8 54.5L1785.5 53.5L1787.2 52.5L1788.9 51.5L1790.7 50.5L1792.4 49.5L1794.2 48.6L1796.0 47.6L1797.8 46.7L1799.6 45.8L1801.4 44.9L1803.2 44.0L1805.0 43.1L1806.9 42.3L1808.7 41.5L1810.6 40.7L1812.4 40.0L1814.3 39.4L1816.2 38.8L1818.0 38.3L1819.9 37.8L1821.8 37.4L1823.7 37.2L1825.5 37.0L1827.4 36.9L1829.2 36.9L1831.1 37.1L1832.9 37.4L1834.7 37.8L1836.6 38.3L1838.4 38.9L1840.2 39.7L1841.9 40.6L1843.7 41.6L1845.4 42.7L1847.1 43.9L1848.8 45.2L1850.4 46.5L1852.0 47.9L1853.5 49.4L1855.0 50.9L1856.5 52.4L1857.9 54.0L1859.2 55.6L1860.5 57.2L1861.8 58.8L1863.0 60.5L1864.2 62.2L1865.3 63.9L1866.4 65.6L1867.5 67.4L1868.5 69.1L1869.5 70.9L1870.5 72.7L1871.4 74.5L1872.3 76.3L1873.2 78.2L1874.1 80.0L1874.9 81.9L1875.8 83.7L1876.6 85.6L1877.4 87.5L1878.2 89.3L1878.9 91.2L1879.7 93.1L1880.5 95.0L1881.2 96.9L1882.0 98.7L1882.7 100.6L1883.4 102.5L1884.1 104.4L1884.9 106.3L1885.6 108.2L1886.3 110.1L1886.9 112.0L1887.6 113.9L1888.3 115.8L1889.0 117.7L1889.6 119.6L1890.3 121.5L1890.9 123.4L1891.6 125.3L1892.2 127.2L1892.8 129.1L1893.4 131.0L1894.0 132.9L1894.6 134.8L1895.2 136.8L1895.8 138.7L1896.4 140.6L1897.0 142.5L1897.6 144.4L1898.1 146.4L1898.7 148.3L1899.2 150.2L1899.8 152.1L1900.3 154.1L1900.8 156.0L1901.4 157.9L1901.9 159.8L1902.4 161.8L1902.9 163.7L1903.4 165.6L1903.9 167.6L1904.4 169.5L1904.9 171.5L1905.4 173.4L1905.8 175.3L1906.3 177.3L1906.8 179.2L1907.2 181.2L1907.7 183.1L1908.1 185.1L1908.6 187.0L1909.0 188.9L1909.4 190.9L1909.9 192.8L1910.3 194.8L1910.7 196.7L1911.1 198.7L1911.5 200.7L1911.9 202.6L1912.3 204.6L1912.7 206.5L1913.1 208.5L1913.5 210.4L1913.9 212.4L1914.3 214.4L1914.6 216.3L1915.0 218.3L1915.4 220.2L1915.7 222.2L1916.1 224.2L1916.5 226.1L1916.8 228.1L1917.2 230.1L1917.5 232.0L1917.9 234.0L1918.2 236.0L1918.5 237.9L1918.9 239.9L1919.2 241.9L1919.5 243.9L1919.8 245.8L1920.2 247.8L1920.5 249.8L1920.8 251.7L1921.1 253.7L1921.4 255.7L1921.7 257.7L1922.0 259.7L1922.3 261.6L1922.6 263.6L1922.9 265.6L1923.2 267.6L1923.5 269.5L1923.8 271.5L1924.1 273.5L1924.4 275.5L1924.7 277.5L1925.0 279.4L1925.2 281.4L1925.5 283.4L1925.8 285.4L1926.1 287.4L1926.4 289.4L1926.6 291.3L1926.9 293.3L1927.2 295.3L1927.4 297.3L1927.7 299.3L1928.0 301.3L1928.2 303.2L1928.5 305.2L1928.8 307.2L1929.0 309.2L1929.3 311.2L1929.6 313.2L1929.8 315.2L1930.1 317.1L1930.3 319.1L1930.6 321.1L1930.9 323.1L1931.1 325.1L1931.4 327.1L1931.6 329.1L1931.9 331.1L1932.1 333.1L1932.4 335.0L1932.6 337.0L1932.9 339.0L1933.1 341.0L1933.4 343.0L1933.6 345.0L1933.9 347.0L1934.1 349.0L1934.4 351.0L1934.6 352.9L1934.9 354.9L1935.1 356.9L1935.3 358.9L1935.6 360.9L1935.8 362.9L1936.1 364.9L1936.3 366.9L1936.5 368.9L1936.8 370.9L1937.0 372.9L1937.2 374.9L1937.5 376.8L1937.7 378.8L1937.9 380.8L1938.2 382.8L1938.4 384.8L1938.6 386.8L1938.9 388.8L1939.1 390.8L1939.3 392.8L1939.6 394.8L1939.8 396.8L1940.0 398.8L1940.2 400.8L1940.5 402.8L1940.7 404.7L1940.9 406.7L1941.1 408.7L1941.4 410.7L1941.6 412.7L1941.8 414.7L1942.0 416.7L1942.2 418.7L1942.5 420.7L1942.7 422.7L1942.9 424.7L1943.1 426.7L1943.3 428.7L1943.5 430.7L1943.8 432.7L1944.0 434.6L1944.2 436.6L1944.4 438.6L1944.6 440.6L1944.8 442.6L1945.0 444.6L1945.3 446.6L1945.5 448.6L1945.7 450.6L1945.9 452.6L1946.1 454.6L1946.3 456.6L1946.5 458.6L1946.7 460.6L1946.9 462.6L1947.1 464.6L1947.3 466.5L1947.6 468.5L1947.8 470.5L1948.0 472.5L1948.2 474.5L1948.4 476.5L1948.6 478.5L1948.8 480.5L1949.0 482.5L1949.2 484.5L1949.4 486.5L1949.6 488.5L1949.8 490.5L1950.0 492.4L1950.2 494.4L1950.4 496.4L1950.6 498.4L1950.8 500.4L1951.0 502.4L1951.2 504.4L1951.4 506.4L1951.6 508.4L1951.8 510.4L1952.0 512.4L1952.2 514.4L1952.4 516.3L1952.6 518.3L1952.8 520.3L1953.0 522.3L1953.2 524.3" fill="none" stroke="#00f00a" stroke-width="3.1" stroke-dasharray="41.5 45.7" stroke-dashoffset="0" stroke-linejoin="round" style="mix-blend-mode:multiply"/>
<path d="M1117.1 524.6L1119.1 524.3L1121.1 524.0L1123.1 523.6L1125.1 523.3L1127.1 523.0L1129.1 522.6L1131.1 522.2L1133.1 521.9L1135.0 521.5L1137.0 521.1L1139.0 520.7L1141.0 520.3L1142.9 519.9L1144.9 519.5L1146.9 519.1L1148.9 518.6L1150.8 518.2L1152.8 517.8L1154.7 517.3L1156.7 516.8L1158.6 516.4L1160.6 515.9L1162.5 515.4L1164.5 514.9L1166.4 514.4L1168.4 513.9L1170.3 513.4L1172.2 512.9L1174.2 512.3L1176.1 511.8L1178.0 511.3L1180.0 510.7L1181.9 510.2L1183.8 509.6L1185.7 509.0L1187.6 508.4L1189.5 507.9L1191.5 507.3L1193.4 506.7L1195.3 506.1L1197.2 505.4L1199.1 504.8L1201.0 504.2L1202.9 503.6L1204.8 502.9L1206.6 502.3L1208.5 501.6L1210.4 501.0L1212.3 500.3L1214.2 499.6L1216.1 498.9L1217.9 498.2L1219.8 497.6L1221.7 496.9L1223.5 496.1L1225.4 495.4L1227.3 494.7L1229.1 494.0L1231.0 493.3L1232.8 492.5L1234.7 491.8L1236.5 491.0L1238.4 490.3L1240.2 489.5L1242.1 488.7L1243.9 488.0L1245.7 487.2L1247.6 486.4L1249.4 485.6L1251.2 484.8L1253.1 484.0L1254.9 483.2L1256.7 482.4L1258.5 481.6L1260.3 480.7L1262.2 479.9L1264.0 479.1L1265.8 478.2L1267.6 477.4L1269.4 476.5L1271.2 475.6L1273.0 474.8L1274.8 473.9L1276.6 473.0L1278.4 472.2L1280.1 471.3L1281.9 470.4L1283.7 469.5L1285.5 468.6L1287.3 467.7L1289.0 466.7L1290.8 465.8L1292.6 464.9L1294.4 464.0L1296.1 463.0L1297.9 462.1L1299.6 461.2L1301.4 460.2L1303.2 459.2L1304.9 458.3L1306.7 457.3L1308.4 456.4L1310.1 455.4L1311.9 454.4L1313.6 453.4L1315.4 452.4L1317.1 451.4L1318.8 450.4L1320.6 449.4L1322.3 448.4L1324.0 447.4L1325.7 446.4L1327.4 445.4L1329.2 444.4L1330.9 443.3L1332.6 442.3L1334.3 441.3L1336.0 440.2L1337.7 439.2L1339.4 438.1L1341.1 437.1L1342.8 436.0L1344.5 435.0L1346.2 433.9L1347.9 432.8L1349.6 431.7L1351.2 430.7L1352.9 429.6L1354.6 428.5L1356.3 427.4L1357.9 426.3L1359.6 425.2L1361.3 424.1L1362.9 423.0L1364.6 421.9L1366.3 420.8L1367.9 419.7L1369.6 418.5L1371.2 417.4L1372.9 416.3L1374.5 415.2L1376.2 414.0L1377.8 412.9L1379.5 411.7L1381.1 410.6L1382.7 409.5L1384.4 408.3L1386.0 407.1L1387.6 406.0L1389.2 404.8L1390.9 403.7L1392.5 402.5L1394.1 401.3L1395.7 400.1L1397.3 399.0L1399.0 397.8L1400.6 396.6L1402.2 395.4L1403.8 394.2L1405.4 393.0L1407.0 391.8L1408.6 390.6L1410.2 389.4L1411.8 388.2L1413.4 387.0L1414.9 385.8L1416.5 384.6L1418.1 383.3L1419.7 382.1L1421.3 380.9L1422.9 379.7L1424.4 378.4L1426.0 377.2L1427.6 375.9L1429.1 374.7L1430.7 373.5L1432.3 372.2L1433.8 371.0L1435.4 369.7L1437.0 368.5L1438.5 367.2L1440.1 365.9L1441.6 364.7L1443.2 363.4L1444.7 362.1L1446.3 360.9L1447.8 359.6L1449.4 358.3L1450.9 357.0L1452.4 355.8L1454.0 354.5L1455.5 353.2L1457.0 351.9L1458.6 350.6L1460.1 349.3L1461.6 348.0L1463.2 346.7L1464.7 345.4L1466.2 344.1L1467.7 342.8L1469.2 341.5L1470.8 340.2L1472.3 338.9L1473.8 337.5L1475.3 336.2L1476.8 334.9L1478.3 333.6L1479.8 332.3L1481.3 330.9L1482.8 329.6L1484.3 328.3L1485.8 326.9L1487.3 325.6L1488.8 324.3L1490.3 322.9L1491.8 321.6L1493.3 320.2L1494.8 318.9L1496.3 317.5L1497.8 316.2L1499.2 314.8L1500.7 313.5L1502.2 312.1L1503.7 310.8L1505.2 309.4L1506.6 308.1L1508.1 306.7L1509.6 305.3L1511.1 304.0L1512.5 302.6L1514.0 301.2L1515.5 299.8L1516.9 298.5L1518.4 297.1L1519.9 295.7L1521.3 294.3L1522.8 293.0L1524.2 291.6L1525.7 290.2L1527.1 288.8L1528.6 287.4L1530.1 286.0L1531.5 284.7L1533.0 283.3L1534.4 281.9L1535.9 280.5L1537.3 279.1L1538.7 277.7L1540.2 276.3L1541.6 274.9L1543.1 273.5L1544.5 272.1L1545.9 270.7L1547.4 269.3L1548.8 267.9L1550.3 266.5L1551.7 265.1L1553.1 263.7L1554.5 262.2L1556.0 260.8L1557.4 259.4L1558.8 258.0L1560.3 256.6L1561.7 255.2L1563.1 253.8L1564.5 252.3L1566.0 250.9L1567.4 249.5L1568.8 248.1L1570.2 246.7L1571.6 245.2L1573.0 243.8L1574.5 242.4L1575.9 241.0L1577.3 239.6L1578.7 238.1L1580.1 236.7L1581.5 235.3L1582.9 233.8L1584.3 232.4L1585.7 231.0L1587.1 229.6L1588.6 228.1L1590.0 226.7L1591.4 225.3L1592.8 223.8L1594.2 222.4L1595.6 221.0L1597.0 219.5L1598.4 218.1L1599.8 216.7L1601.2 215.2L1602.6 213.8L1604.0 212.4L1605.3 210.9L1606.7 209.5L1608.1 208.0L1609.5 206.6L1610.9 205.2L1612.3 203.7L1613.7 202.3L1615.1 200.9L1616.5 199.4L1617.9 198.0L1619.3 196.5L1620.6 195.1L1622.0 193.7L1623.4 192.2L1624.8 190.8L1626.2 189.3L1627.6 187.9L1628.9 186.5L1630.3 185.0L1631.7 183.6L1633.1 182.1L1634.5 180.7L1635.8 179.3L1637.2 177.8L1638.6 176.4L1640.0 174.9L1641.4 173.5L1642.7 172.1L1644.1 170.6L1645.5 169.2L1646.9 167.7L1648.2 166.3L1649.6 164.9L1651.0 163.4L1652.4 162.0L1653.7 160.6L1655.1 159.1L1656.5 157.7L1657.9 156.2L1659.2 154.8L1660.6 153.4L1662.0 151.9L1663.3 150.5L1664.7 149.1L1666.1 147.6L1667.5 146.2L1668.8 144.7L1670.2 143.3L1671.6 141.9L1673.0 140.4L1674.3 139.0L1675.7 137.6L1677.1 136.1L1678.5 134.7L1679.8 133.3L1681.2 131.8L1682.6 130.4L1684.0 128.9L1685.4 127.5L1686.7 126.1L1688.1 124.6L1689.5 123.2L1690.9 121.8L1692.3 120.3L1693.6 118.9L1695.0 117.5L1696.4 116.0L1697.8 114.6L1699.2 113.1L1700.6 111.7L1702.0 110.3L1703.4 108.8L1704.7 107.4L1706.1 106.0L1707.5 104.5L1708.9 103.1L1710.3 101.6L1711.7 100.2L1713.1 98.8L1714.5 97.3L1715.9 95.9L1717.3 94.4L1718.7 93.0L1720.1 91.6L1721.6 90.1L1723.0 88.7L1724.4 87.2L1725.8 85.8L1727.2 84.4L1728.6 82.9L1730.1 81.5L1731.5 80.0L1732.9 78.6L1734.3 77.2L1735.8 75.7L1737.2 74.3L1738.6 72.8L1740.1 71.4L1741.5 69.9L1742.9 68.5L1744.4 67.0L1745.8 65.6L1747.3 64.2L1748.7 62.7L1750.2 61.3L1751.6 59.9L1753.1 58.5L1754.6 57.1L1756.1 55.7L1757.6 54.3L1759.1 52.9L1760.6 51.6L1762.1 50.2L1763.6 48.9L1765.2 47.6L1766.7 46.3L1768.3 45.1L1769.9 43.8L1771.4 42.6L1773.0 41.4L1774.6 40.2L1776.3 39.0L1777.9 37.9L1779.6 36.8L1781.2 35.7L1782.9 34.7L1784.6 33.7L1786.3 32.7L1788.1 31.8L1789.8 30.9L1791.6 30.0L1793.4 29.1L1795.2 28.3L1797.1 27.6L1798.9 26.9L1800.8 26.2L1802.7 25.5L1804.6 24.9L1806.5 24.4L1808.5 23.9L1810.5 23.4L1812.5 23.0L1814.5 22.7L1816.5 22.4L1818.5 22.2L1820.5 22.0L1822.5 21.9L1824.5 21.9L1826.4 22.0L1828.4 22.1L1830.4 22.3L1832.3 22.6L1834.2 22.9L1836.1 23.4L1838.0 23.9L1839.8 24.5L1841.6 25.3L1843.3 26.1L1845.0 27.0L1846.7 28.0L1848.3 29.1L1849.9 30.2L1851.5 31.5L1853.0 32.7L1854.5 34.1L1855.9 35.5L1857.3 36.9L1858.7 38.4L1860.0 39.8L1861.3 41.4L1862.5 42.9L1863.7 44.5L1864.9 46.0L1866.1 47.6L1867.2 49.3L1868.2 50.9L1869.3 52.6L1870.3 54.3L1871.3 56.0L1872.3 57.7L1873.2 59.4L1874.1 61.2L1875.0 63.0L1875.9 64.7L1876.7 66.6L1877.5 68.4L1878.3 70.2L1879.1 72.0L1879.9 73.9L1880.6 75.8L1881.3 77.7L1882.0 79.5L1882.7 81.4L1883.3 83.4L1884.0 85.3L1884.6 87.2L1885.2 89.1L1885.9 91.1L1886.5 93.0L1887.0 95.0L1887.6 96.9L1888.2 98.9L1888.7 100.8L1889.3 102.8L1889.8 104.8L1890.4 106.7L1890.9 108.7L1891.4 110.7L1892.0 112.6L1892.5 114.6L1893.0 116.6L1893.5 118.5L1894.1 120.5L1894.6 122.5L1895.1 124.4L1895.6 126.4L1896.1 128.4L1896.6 130.3L1897.1 132.3L1897.6 134.2L1898.1 136.2L1898.6 138.2L1899.1 140.1L1899.5 142.1L1900.0 144.0L1900.5 146.0L1901.0 148.0L1901.5 149.9L1901.9 151.9L1902.4 153.8L1902.9 155.8L1903.3 157.7L1903.8 159.7L1904.2 161.7L1904.7 163.6L1905.1 165.6L1905.6 167.5L1906.0 169.5L1906.5 171.4L1906.9 173.4L1907.3 175.3L1907.8 177.3L1908.2 179.3L1908.6 181.2L1909.1 183.2L1909.5 185.1L1909.9 187.1L1910.3 189.0L1910.7 191.0L1911.1 192.9L1911.6 194.9L1912.0 196.8L1912.4 198.8L1912.8 200.8L1913.2 202.7L1913.6 204.7L1914.0 206.6L1914.3 208.6L1914.7 210.5L1915.1 212.5L1915.5 214.4L1915.9 216.4L1916.3 218.3L1916.6 220.3L1917.0 222.3L1917.4 224.2L1917.7 226.2L1918.1 228.1L1918.5 230.1L1918.8 232.0L1919.2 234.0L1919.5 236.0L1919.9 237.9L1920.2 239.9L1920.6 241.8L1920.9 243.8L1921.2 245.8L1921.6 247.7L1921.9 249.7L1922.2 251.6L1922.6 253.6L1922.9 255.6L1923.2 257.5L1923.5 259.5L1923.9 261.5L1924.2 263.4L1924.5 265.4L1924.8 267.4L1925.1 269.3L1925.4 271.3L1925.7 273.3L1926.0 275.2L1926.3 277.2L1926.6 279.2L1926.9 281.2L1927.2 283.1L1927.5 285.1L1927.7 287.1L1928.0 289.1L1928.3 291.0L1928.6 293.0L1928.9 295.0L1929.1 297.0L1929.4 299.0L1929.7 300.9L1929.9 302.9L1930.2 304.9L1930.5 306.9L1930.7 308.9L1931.0 310.9L1931.2 312.8L1931.5 314.8L1931.7 316.8L1932.0 318.8L1932.2 320.8L1932.5 322.8L1932.7 324.8L1932.9 326.8L1933.2 328.8L1933.4 330.7L1933.6 332.7L1933.9 334.7L1934.1 336.7L1934.3 338.7L1934.6 340.7L1934.8 342.7L1935.0 344.7L1935.2 346.7L1935.5 348.7L1935.7 350.7L1935.9 352.7L1936.1 354.7L1936.3 356.7L1936.5 358.7L1936.8 360.7L1937.0 362.7L1937.2 364.7L1937.4 366.7L1937.6 368.7L1937.8 370.7L1938.0 372.7L1938.2 374.7L1938.4 376.7L1938.6 378.7L1938.8 380.7L1939.0 382.7L1939.2 384.7L1939.4 386.7L1939.6 388.7L1939.8 390.7L1940.0 392.7L1940.2 394.7L1940.4 396.7L1940.6 398.7L1940.8 400.7L1941.0 402.7L1941.2 404.7L1941.4 406.7L1941.6 408.7L1941.8 410.7L1942.0 412.7L1942.1 414.7L1942.3 416.7L1942.5 418.7L1942.7 420.7L1942.9 422.7L1943.1 424.7L1943.3 426.7L1943.5 428.7L1943.7 430.7L1943.9 432.7L1944.0 434.7L1944.2 436.7L1944.4 438.7L1944.6 440.7L1944.8 442.7L1945.0 444.7L1945.2 446.7L1945.4 448.7L1945.6 450.7L1945.8 452.7L1946.0 454.7L1946.1 456.7L1946.3 458.7L1946.5 460.7L1946.7 462.7L1946.9 464.7L1947.1 466.7L1947.3 468.7L1947.5 470.7L1947.7 472.7L1947.9 474.7L1948.1 476.7L1948.3 478.7L1948.5 480.7L1948.7 482.7L1948.9 484.7L1949.1 486.6L1949.3 488.6L1949.5 490.6L1949.7 492.6L1949.9 494.6L1950.1 496.6L1950.4 498.6L1950.6 500.5L1950.8 502.5L1951.0 504.5L1951.2 506.5L1951.4 508.5L1951.6 510.5L1951.9 512.4L1952.1 514.4L1952.3 516.4L1952.5 518.4L1952.7 520.3L1953.0 522.3L1953.2 524.3" fill="none" stroke="#808080" stroke-width="2.4" stroke-linejoin="round" style="mix-blend-mode:multiply"/>
</g>
<path d="M1117.3 541.5V534.0M1117.3 3.4V10.9M1159.1 541.5V537.2M1159.1 3.4V7.7M1200.9 541.5V537.2M1200.9 3.4V7.7M1242.7 541.5V537.2M1242.7 3.4V7.7M1284.5 541.5V534.0M1284.5 3.4V10.9M1326.3 541.5V537.2M1326.3 3.4V7.7M1368.1 541.5V537.2M1368.1 3.4V7.7M1409.9 541.5V537.2M1409.9 3.4V7.7M1451.7 541.5V534.0M1451.7 3.4V10.9M1493.5 541.5V537.2M1493.5 3.4V7.7M1535.3 541.5V537.2M1535.3 3.4V7.7M1577.1 541.5V537.2M1577.1 3.4V7.7M1618.9 541.5V534.0M1618.9 3.4V10.9M1660.7 541.5V537.2M1660.7 3.4V7.7M1702.5 541.5V537.2M1702.5 3.4V7.7M1744.3 541.5V537.2M1744.3 3.4V7.7M1786.1 541.5V534.0M1786.1 3.4V10.9M1827.9 541.5V537.2M1827.9 3.4V7.7M1869.7 541.5V537.2M1869.7 3.4V7.7M1911.5 541.5V537.2M1911.5 3.4V7.7M1953.3 541.5V534.0M1953.3 3.4V10.9M1100.3 524.3H1107.8M1970.3 524.3H1962.8M1100.3 504.1H1104.6M1970.3 504.1H1966.0M1100.3 483.9H1104.6M1970.3 483.9H1966.0M1100.3 463.7H1104.6M1970.3 463.7H1966.0M1100.3 443.5H1107.8M1970.3 443.5H1962.8M1100.3 423.4H1104.6M1970.3 423.4H1966.0M1100.3 403.2H1104.6M1970.3 403.2H1966.0M1100.3 383.0H1104.6M1970.3 383.0H1966.0M1100.3 362.8H1107.8M1970.3 362.8H1962.8M1100.3 342.6H1104.6M1970.3 342.6H1966.0M1100.3 322.4H1104.6M1970.3 322.4H1966.0M1100.3 302.2H1104.6M1970.3 302.2H1966.0M1100.3 282.0H1107.8M1970.3 282.0H1962.8M1100.3 261.9H1104.6M1970.3 261.9H1966.0M1100.3 241.7H1104.6M1970.3 241.7H1966.0M1100.3 221.5H1104.6M1970.3 221.5H1966.0M1100.3 201.3H1107.8M1970.3 201.3H1962.8M1100.3 181.1H1104.6M1970.3 181.1H1966.0M1100.3 160.9H1104.6M1970.3 160.9H1966.0M1100.3 140.7H1104.6M1970.3 140.7H1966.0M1100.3 120.5H1107.8M1970.3 120.5H1962.8M1100.3 100.4H1104.6M1970.3 100.4H1966.0M1100.3 80.2H1104.6M1970.3 80.2H1966.0M1100.3 60.0H1104.6M1970.3 60.0H1966.0M1100.3 39.8H1107.8M1970.3 39.8H1962.8M1100.3 19.6H1104.6M1970.3 19.6H1966.0" stroke="#000" stroke-width="1.3" fill="none"/>
<rect x="1100.3" y="3.4" width="870.0" height="538.1" fill="none" stroke="#000" stroke-width="2"/>
<g font-size="41"><text x="1115.8" y="580.7" text-anchor="middle">0.0</text><text x="1283.0" y="580.7" text-anchor="middle">0.2</text><text x="1450.2" y="580.7" text-anchor="middle">0.4</text><text x="1617.4" y="580.7" text-anchor="middle">0.6</text><text x="1784.6" y="580.7" text-anchor="middle">0.8</text><text x="1951.8" y="580.7" text-anchor="middle">1.0</text><text x="1093.1" y="535.6" text-anchor="end">0.0</text><text x="1093.1" y="454.8" text-anchor="end">0.2</text><text x="1093.1" y="374.1" text-anchor="end">0.4</text><text x="1093.1" y="293.3" text-anchor="end">0.6</text><text x="1093.1" y="212.6" text-anchor="end">0.8</text><text x="1093.1" y="131.8" text-anchor="end">1.0</text><text x="1093.1" y="51.1" text-anchor="end">1.2</text></g>
<text x="1535.3" y="637.5" font-size="41" font-style="italic" text-anchor="middle">η</text>
<text x="1532.8" y="690.8" font-size="27" font-weight="bold" text-anchor="middle">(b)</text>
<g>
<path d="M129.5 1232.1L131.5 1232.1L133.6 1232.2L135.6 1232.2L137.6 1232.2L139.6 1232.2L141.7 1232.2L143.7 1232.1L145.7 1232.1L147.7 1232.1L149.8 1232.0L151.8 1232.0L153.8 1231.9L155.8 1231.8L157.8 1231.8L159.8 1231.7L161.9 1231.6L163.9 1231.5L165.9 1231.4L167.9 1231.3L169.9 1231.1L171.9 1231.0L173.9 1230.9L175.9 1230.7L177.9 1230.5L179.9 1230.4L181.9 1230.2L183.9 1230.0L185.9 1229.8L187.9 1229.6L189.9 1229.4L191.9 1229.2L193.9 1229.0L195.9 1228.8L197.9 1228.5L199.9 1228.3L201.8 1228.1L203.8 1227.8L205.8 1227.5L207.8 1227.3L209.8 1227.0L211.8 1226.7L213.7 1226.4L215.7 1226.1L217.7 1225.8L219.7 1225.5L221.6 1225.1L223.6 1224.8L225.6 1224.5L227.5 1224.1L229.5 1223.8L231.5 1223.4L233.4 1223.0L235.4 1222.7L237.4 1222.3L239.3 1221.9L241.3 1221.5L243.2 1221.1L245.2 1220.7L247.1 1220.3L249.1 1219.8L251.0 1219.4L253.0 1219.0L254.9 1218.5L256.9 1218.1L258.8 1217.6L260.7 1217.2L262.7 1216.7L264.6 1216.2L266.5 1215.7L268.5 1215.2L270.4 1214.7L272.3 1214.2L274.3 1213.7L276.2 1213.2L278.1 1212.7L280.0 1212.2L282.0 1211.6L283.9 1211.1L285.8 1210.5L287.7 1210.0L289.6 1209.4L291.5 1208.8L293.5 1208.3L295.4 1207.7L297.3 1207.1L299.2 1206.5L301.1 1205.9L303.0 1205.3L304.9 1204.7L306.8 1204.1L308.7 1203.4L310.6 1202.8L312.5 1202.2L314.4 1201.5L316.2 1200.9L318.1 1200.2L320.0 1199.6L321.9 1198.9L323.8 1198.2L325.7 1197.5L327.5 1196.9L329.4 1196.2L331.3 1195.5L333.2 1194.8L335.0 1194.1L336.9 1193.3L338.8 1192.6L340.6 1191.9L342.5 1191.2L344.4 1190.4L346.2 1189.7L348.1 1189.0L349.9 1188.2L351.8 1187.4L353.6 1186.7L355.5 1185.9L357.3 1185.1L359.2 1184.4L361.0 1183.6L362.8 1182.8L364.7 1182.0L366.5 1181.2L368.4 1180.4L370.2 1179.6L372.0 1178.8L373.8 1177.9L375.7 1177.1L377.5 1176.3L379.3 1175.4L381.1 1174.6L382.9 1173.8L384.8 1172.9L386.6 1172.1L388.4 1171.2L390.2 1170.3L392.0 1169.5L393.8 1168.6L395.6 1167.7L397.4 1166.8L399.2 1165.9L401.0 1165.0L402.8 1164.1L404.6 1163.2L406.4 1162.3L408.2 1161.4L409.9 1160.5L411.7 1159.6L413.5 1158.6L415.3 1157.7L417.0 1156.8L418.8 1155.8L420.6 1154.9L422.4 1153.9L424.1 1153.0L425.9 1152.0L427.6 1151.1L429.4 1150.1L431.2 1149.1L432.9 1148.2L434.7 1147.2L436.4 1146.2L438.2 1145.2L439.9 1144.2L441.6 1143.2L443.4 1142.2L445.1 1141.2L446.9 1140.2L448.6 1139.2L450.3 1138.2L452.1 1137.2L453.8 1136.1L455.5 1135.1L457.2 1134.1L458.9 1133.0L460.7 1132.0L462.4 1131.0L464.1 1129.9L465.8 1128.9L467.5 1127.8L469.2 1126.7L470.9 1125.7L472.6 1124.6L474.3 1123.5L476.0 1122.5L477.7 1121.4L479.4 1120.3L481.0 1119.2L482.7 1118.2L484.4 1117.1L486.1 1116.0L487.8 1114.9L489.4 1113.8L491.1 1112.7L492.8 1111.6L494.5 1110.5L496.1 1109.3L497.8 1108.2L499.4 1107.1L501.1 1106.0L502.8 1104.9L504.4 1103.7L506.1 1102.6L507.7 1101.5L509.4 1100.3L511.0 1099.2L512.7 1098.1L514.3 1096.9L516.0 1095.8L517.6 1094.6L519.2 1093.5L520.9 1092.3L522.5 1091.2L524.1 1090.0L525.8 1088.8L527.4 1087.7L529.0 1086.5L530.7 1085.3L532.3 1084.2L533.9 1083.0L535.5 1081.8L537.1 1080.6L538.8 1079.4L540.4 1078.3L542.0 1077.1L543.6 1075.9L545.2 1074.7L546.8 1073.5L548.4 1072.3L550.0 1071.1L551.7 1069.9L553.3 1068.7L554.9 1067.5L556.5 1066.3L558.1 1065.1L559.7 1063.9L561.3 1062.7L562.9 1061.5L564.5 1060.2L566.0 1059.0L567.6 1057.8L569.2 1056.6L570.8 1055.4L572.4 1054.2L574.0 1052.9L575.6 1051.7L577.2 1050.5L578.8 1049.3L580.3 1048.0L581.9 1046.8L583.5 1045.6L585.1 1044.3L586.7 1043.1L588.2 1041.9L589.8 1040.6L591.4 1039.4L593.0 1038.1L594.6 1036.9L596.1 1035.7L597.7 1034.4L599.3 1033.2L600.8 1031.9L602.4 1030.7L604.0 1029.4L605.6 1028.2L607.1 1027.0L608.7 1025.7L610.3 1024.5L611.8 1023.2L613.4 1022.0L615.0 1020.7L616.5 1019.5L618.1 1018.2L619.7 1017.0L621.2 1015.7L622.8 1014.4L624.4 1013.2L625.9 1011.9L627.5 1010.7L629.0 1009.4L630.6 1008.2L632.2 1006.9L633.7 1005.7L635.3 1004.4L636.8 1003.1L638.4 1001.9L640.0 1000.6L641.5 999.4L643.1 998.1L644.6 996.9L646.2 995.6L647.8 994.3L649.3 993.1L650.9 991.8L652.4 990.6L654.0 989.3L655.5 988.1L657.1 986.8L658.7 985.6L660.2 984.3L661.8 983.0L663.3 981.8L664.9 980.5L666.5 979.3L668.0 978.0L669.6 976.8L671.1 975.5L672.7 974.3L674.2 973.0L675.8 971.8L677.4 970.5L678.9 969.3L680.5 968.0L682.0 966.8L683.6 965.5L685.2 964.3L686.7 963.0L688.3 961.8L689.8 960.5L691.4 959.3L692.9 958.0L694.5 956.8L696.1 955.5L697.6 954.3L699.2 953.0L700.7 951.8L702.3 950.5L703.8 949.3L705.4 948.0L706.9 946.7L708.5 945.5L710.0 944.2L711.6 943.0L713.1 941.7L714.7 940.4L716.2 939.2L717.8 937.9L719.3 936.6L720.9 935.4L722.4 934.1L724.0 932.8L725.5 931.5L727.0 930.3L728.6 929.0L730.1 927.7L731.7 926.4L733.2 925.1L734.7 923.8L736.3 922.5L737.8 921.3L739.3 920.0L740.8 918.7L742.4 917.3L743.9 916.0L745.4 914.7L746.9 913.4L748.4 912.1L750.0 910.8L751.5 909.5L753.0 908.1L754.5 906.8L756.0 905.5L757.5 904.2L759.1 902.8L760.6 901.5L762.1 900.2L763.6 898.9L765.2 897.6L766.7 896.3L768.3 895.0L769.8 893.7L771.4 892.5L772.9 891.2L774.5 890.0L776.1 888.7L777.7 887.5L779.3 886.3L781.0 885.1L782.6 884.0L784.3 882.8L785.9 881.7L787.6 880.6L789.3 879.5L791.0 878.4L792.8 877.4L794.5 876.4L796.3 875.4L798.1 874.4L799.9 873.5L801.8 872.6L803.6 871.7L805.5 870.9L807.4 870.1L809.3 869.3L811.2 868.6L813.2 867.9L815.1 867.2L817.0 866.6L819.0 866.1L821.0 865.5L822.9 865.1L824.9 864.6L826.9 864.3L828.9 863.9L830.8 863.7L832.8 863.5L834.8 863.3L836.7 863.2L838.7 863.2L840.6 863.2L842.5 863.3L844.5 863.4L846.4 863.6L848.3 863.9L850.1 864.3L852.0 864.7L853.8 865.2L855.6 865.8L857.4 866.5L859.2 867.2L861.0 868.0L862.7 868.9L864.4 869.9L866.0 870.9L867.7 872.0L869.3 873.1L870.9 874.3L872.4 875.6L873.9 876.9L875.4 878.3L876.9 879.7L878.3 881.2L879.7 882.6L881.1 884.2L882.4 885.7L883.7 887.3L885.0 888.9L886.2 890.5L887.4 892.2L888.6 893.8L889.8 895.5L890.9 897.2L891.9 898.9L893.0 900.6L894.0 902.4L895.0 904.1L895.9 905.9L896.8 907.6L897.7 909.4L898.6 911.2L899.5 913.1L900.3 914.9L901.1 916.7L901.9 918.6L902.7 920.4L903.5 922.3L904.2 924.1L904.9 926.0L905.6 927.9L906.3 929.8L907.0 931.7L907.6 933.6L908.3 935.5L908.9 937.4L909.5 939.3L910.2 941.2L910.8 943.2L911.4 945.1L912.0 947.0L912.6 948.9L913.2 950.9L913.7 952.8L914.3 954.7L914.9 956.7L915.5 958.6L916.0 960.5L916.6 962.5L917.1 964.4L917.7 966.3L918.2 968.3L918.8 970.2L919.3 972.1L919.8 974.1L920.4 976.0L920.9 978.0L921.4 979.9L921.9 981.8L922.4 983.8L923.0 985.7L923.5 987.7L924.0 989.6L924.5 991.5L925.0 993.5L925.4 995.4L925.9 997.4L926.4 999.3L926.9 1001.3L927.4 1003.2L927.8 1005.2L928.3 1007.1L928.8 1009.1L929.2 1011.0L929.7 1013.0L930.1 1014.9L930.6 1016.9L931.0 1018.8L931.5 1020.8L931.9 1022.7L932.4 1024.7L932.8 1026.6L933.2 1028.6L933.6 1030.5L934.1 1032.5L934.5 1034.5L934.9 1036.4L935.3 1038.4L935.7 1040.3L936.1 1042.3L936.5 1044.2L936.9 1046.2L937.3 1048.2L937.7 1050.1L938.1 1052.1L938.5 1054.0L938.9 1056.0L939.3 1058.0L939.7 1059.9L940.1 1061.9L940.4 1063.9L940.8 1065.8L941.2 1067.8L941.5 1069.8L941.9 1071.7L942.3 1073.7L942.6 1075.7L943.0 1077.6L943.3 1079.6L943.7 1081.6L944.0 1083.5L944.4 1085.5L944.7 1087.5L945.1 1089.4L945.4 1091.4L945.7 1093.4L946.1 1095.4L946.4 1097.3L946.7 1099.3L947.1 1101.3L947.4 1103.3L947.7 1105.2L948.0 1107.2L948.4 1109.2L948.7 1111.2L949.0 1113.1L949.3 1115.1L949.6 1117.1L949.9 1119.1L950.2 1121.0L950.5 1123.0L950.8 1125.0L951.2 1127.0L951.5 1129.0L951.8 1130.9L952.0 1132.9L952.3 1134.9L952.6 1136.9L952.9 1138.9L953.2 1140.8L953.5 1142.8L953.8 1144.8L954.1 1146.8L954.4 1148.8L954.7 1150.8L954.9 1152.7L955.2 1154.7L955.5 1156.7L955.8 1158.7L956.0 1160.7L956.3 1162.7L956.6 1164.6L956.9 1166.6L957.1 1168.6L957.4 1170.6L957.7 1172.6L958.0 1174.6L958.2 1176.6L958.5 1178.5L958.7 1180.5L959.0 1182.5L959.3 1184.5L959.5 1186.5L959.8 1188.5L960.1 1190.5L960.3 1192.5L960.6 1194.5L960.8 1196.4L961.1 1198.4L961.4 1200.4L961.6 1202.4L961.9 1204.4L962.1 1206.4L962.4 1208.4L962.6 1210.4L962.9 1212.4L963.1 1214.4L963.4 1216.4L963.6 1218.3L963.9 1220.3L964.1 1222.3L964.4 1224.3L964.6 1226.3L964.9 1228.3L965.1 1230.3L965.4 1232.3" fill="none" stroke="#ff7272" stroke-width="2.4" stroke-linejoin="round" style="mix-blend-mode:multiply"/>
<path d="M129.5 1232.1L131.5 1232.0L133.5 1231.8L135.5 1231.7L137.6 1231.5L139.6 1231.4L141.6 1231.2L143.6 1231.0L145.6 1230.9L147.6 1230.7L149.6 1230.5L151.6 1230.3L153.6 1230.0L155.6 1229.8L157.6 1229.6L159.6 1229.4L161.6 1229.1L163.5 1228.9L165.5 1228.6L167.5 1228.3L169.5 1228.0L171.5 1227.8L173.5 1227.5L175.5 1227.2L177.4 1226.9L179.4 1226.6L181.4 1226.2L183.4 1225.9L185.3 1225.6L187.3 1225.2L189.3 1224.9L191.2 1224.5L193.2 1224.1L195.2 1223.8L197.1 1223.4L199.1 1223.0L201.0 1222.6L203.0 1222.2L205.0 1221.8L206.9 1221.4L208.9 1221.0L210.8 1220.5L212.8 1220.1L214.7 1219.7L216.6 1219.2L218.6 1218.7L220.5 1218.3L222.5 1217.8L224.4 1217.3L226.3 1216.9L228.3 1216.4L230.2 1215.9L232.1 1215.4L234.1 1214.8L236.0 1214.3L237.9 1213.8L239.8 1213.3L241.8 1212.7L243.7 1212.2L245.6 1211.6L247.5 1211.1L249.4 1210.5L251.3 1209.9L253.2 1209.4L255.1 1208.8L257.1 1208.2L259.0 1207.6L260.9 1207.0L262.8 1206.4L264.7 1205.8L266.6 1205.2L268.5 1204.5L270.3 1203.9L272.2 1203.3L274.1 1202.6L276.0 1202.0L277.9 1201.3L279.8 1200.6L281.7 1200.0L283.5 1199.3L285.4 1198.6L287.3 1197.9L289.2 1197.2L291.0 1196.5L292.9 1195.8L294.8 1195.1L296.6 1194.4L298.5 1193.7L300.4 1192.9L302.2 1192.2L304.1 1191.5L306.0 1190.7L307.8 1190.0L309.7 1189.2L311.5 1188.5L313.4 1187.7L315.2 1186.9L317.0 1186.1L318.9 1185.4L320.7 1184.6L322.6 1183.8L324.4 1183.0L326.2 1182.2L328.1 1181.4L329.9 1180.6L331.7 1179.7L333.6 1178.9L335.4 1178.1L337.2 1177.2L339.0 1176.4L340.8 1175.6L342.7 1174.7L344.5 1173.9L346.3 1173.0L348.1 1172.1L349.9 1171.3L351.7 1170.4L353.5 1169.5L355.3 1168.6L357.1 1167.7L358.9 1166.8L360.7 1165.9L362.5 1165.0L364.3 1164.1L366.1 1163.2L367.9 1162.3L369.7 1161.4L371.4 1160.4L373.2 1159.5L375.0 1158.6L376.8 1157.6L378.5 1156.7L380.3 1155.7L382.1 1154.8L383.9 1153.8L385.6 1152.8L387.4 1151.9L389.1 1150.9L390.9 1149.9L392.7 1148.9L394.4 1148.0L396.2 1147.0L397.9 1146.0L399.7 1145.0L401.4 1144.0L403.2 1143.0L404.9 1142.0L406.6 1141.0L408.4 1139.9L410.1 1138.9L411.8 1137.9L413.6 1136.9L415.3 1135.8L417.0 1134.8L418.8 1133.7L420.5 1132.7L422.2 1131.6L423.9 1130.6L425.6 1129.5L427.3 1128.5L429.0 1127.4L430.8 1126.3L432.5 1125.3L434.2 1124.2L435.9 1123.1L437.6 1122.0L439.3 1121.0L441.0 1119.9L442.6 1118.8L444.3 1117.7L446.0 1116.6L447.7 1115.5L449.4 1114.4L451.1 1113.3L452.7 1112.2L454.4 1111.0L456.1 1109.9L457.8 1108.8L459.4 1107.7L461.1 1106.5L462.8 1105.4L464.4 1104.3L466.1 1103.1L467.7 1102.0L469.4 1100.9L471.0 1099.7L472.7 1098.6L474.3 1097.4L476.0 1096.3L477.6 1095.1L479.3 1093.9L480.9 1092.8L482.5 1091.6L484.2 1090.4L485.8 1089.3L487.4 1088.1L489.1 1086.9L490.7 1085.7L492.3 1084.5L493.9 1083.4L495.5 1082.2L497.2 1081.0L498.8 1079.8L500.4 1078.6L502.0 1077.4L503.6 1076.2L505.2 1075.0L506.8 1073.8L508.4 1072.6L510.0 1071.4L511.6 1070.2L513.2 1069.0L514.7 1067.7L516.3 1066.5L517.9 1065.3L519.5 1064.1L521.1 1062.8L522.6 1061.6L524.2 1060.4L525.8 1059.2L527.4 1057.9L528.9 1056.7L530.5 1055.5L532.1 1054.2L533.6 1053.0L535.2 1051.7L536.7 1050.5L538.3 1049.2L539.9 1048.0L541.4 1046.7L543.0 1045.5L544.5 1044.2L546.1 1043.0L547.6 1041.7L549.1 1040.5L550.7 1039.2L552.2 1037.9L553.8 1036.7L555.3 1035.4L556.8 1034.1L558.4 1032.9L559.9 1031.6L561.5 1030.3L563.0 1029.0L564.5 1027.8L566.0 1026.5L567.6 1025.2L569.1 1023.9L570.6 1022.7L572.1 1021.4L573.7 1020.1L575.2 1018.8L576.7 1017.5L578.2 1016.2L579.8 1014.9L581.3 1013.6L582.8 1012.4L584.3 1011.1L585.8 1009.8L587.3 1008.5L588.8 1007.2L590.4 1005.9L591.9 1004.6L593.4 1003.3L594.9 1002.0L596.4 1000.7L597.9 999.4L599.4 998.1L600.9 996.8L602.4 995.5L603.9 994.2L605.4 992.9L606.9 991.5L608.4 990.2L609.9 988.9L611.4 987.6L613.0 986.3L614.5 985.0L616.0 983.7L617.5 982.4L619.0 981.1L620.5 979.7L622.0 978.4L623.5 977.1L625.0 975.8L626.5 974.5L628.0 973.2L629.5 971.8L631.0 970.5L632.5 969.2L634.0 967.9L635.5 966.6L637.0 965.3L638.5 963.9L640.0 962.6L641.5 961.3L643.0 960.0L644.5 958.7L646.0 957.3L647.5 956.0L649.0 954.7L650.5 953.4L652.0 952.1L653.5 950.7L655.0 949.4L656.5 948.1L658.0 946.8L659.5 945.4L661.0 944.1L662.5 942.8L664.0 941.5L665.5 940.2L667.0 938.8L668.5 937.5L670.0 936.2L671.5 934.9L673.0 933.6L674.5 932.2L676.0 930.9L677.6 929.6L679.1 928.3L680.6 927.0L682.1 925.6L683.6 924.3L685.1 923.0L686.6 921.7L688.2 920.4L689.7 919.0L691.2 917.7L692.7 916.4L694.2 915.1L695.8 913.8L697.3 912.5L698.8 911.2L700.3 909.8L701.9 908.5L703.4 907.2L704.9 905.9L706.4 904.6L708.0 903.3L709.5 902.0L711.0 900.7L712.6 899.4L714.1 898.1L715.7 896.8L717.2 895.5L718.7 894.2L720.3 892.9L721.8 891.6L723.4 890.3L724.9 889.0L726.5 887.7L728.0 886.4L729.6 885.1L731.1 883.8L732.7 882.5L734.3 881.2L735.8 879.9L737.4 878.6L739.0 877.3L740.5 876.0L742.1 874.7L743.7 873.5L745.2 872.2L746.8 870.9L748.4 869.6L750.0 868.3L751.5 867.0L753.1 865.8L754.7 864.5L756.3 863.2L757.9 861.9L759.5 860.7L761.1 859.4L762.7 858.1L764.3 856.9L765.9 855.6L767.5 854.3L769.1 853.1L770.7 851.8L772.3 850.6L773.9 849.3L775.5 848.1L777.2 846.8L778.8 845.6L780.4 844.3L782.0 843.1L783.7 841.8L785.3 840.6L787.0 839.4L788.6 838.2L790.2 837.0L791.9 835.9L793.6 834.7L795.2 833.6L796.9 832.5L798.6 831.5L800.3 830.5L802.0 829.5L803.7 828.5L805.4 827.6L807.2 826.8L808.9 825.9L810.7 825.2L812.4 824.5L814.2 823.8L816.0 823.2L817.8 822.7L819.6 822.2L821.4 821.7L823.3 821.4L825.1 821.1L827.0 820.9L828.9 820.7L830.8 820.7L832.7 820.7L834.6 820.7L836.5 820.8L838.4 821.0L840.3 821.3L842.3 821.6L844.2 822.0L846.1 822.4L847.9 822.9L849.8 823.5L851.7 824.1L853.5 824.8L855.4 825.5L857.2 826.3L859.0 827.2L860.7 828.1L862.5 829.1L864.2 830.1L865.8 831.1L867.5 832.3L869.1 833.4L870.7 834.7L872.2 835.9L873.7 837.3L875.1 838.6L876.6 840.0L877.9 841.5L879.3 843.0L880.6 844.5L881.8 846.1L883.1 847.7L884.3 849.3L885.5 851.0L886.6 852.7L887.7 854.4L888.8 856.2L889.8 857.9L890.9 859.7L891.9 861.5L892.8 863.4L893.8 865.2L894.7 867.1L895.6 869.0L896.5 870.9L897.3 872.7L898.1 874.6L898.9 876.6L899.7 878.5L900.5 880.4L901.2 882.3L902.0 884.2L902.7 886.1L903.4 888.0L904.1 889.9L904.7 891.8L905.4 893.7L906.0 895.6L906.7 897.5L907.3 899.5L907.9 901.4L908.5 903.3L909.1 905.2L909.7 907.1L910.3 909.0L910.8 910.9L911.4 912.8L912.0 914.8L912.5 916.7L913.1 918.6L913.6 920.5L914.2 922.4L914.7 924.4L915.2 926.3L915.8 928.2L916.3 930.1L916.8 932.1L917.4 934.0L917.9 935.9L918.4 937.8L918.9 939.8L919.4 941.7L919.9 943.6L920.4 945.6L920.9 947.5L921.4 949.5L921.9 951.4L922.3 953.3L922.8 955.3L923.3 957.2L923.8 959.1L924.2 961.1L924.7 963.0L925.1 965.0L925.6 966.9L926.0 968.9L926.5 970.8L926.9 972.8L927.4 974.7L927.8 976.7L928.2 978.6L928.7 980.6L929.1 982.5L929.5 984.5L929.9 986.4L930.4 988.4L930.8 990.3L931.2 992.3L931.6 994.3L932.0 996.2L932.4 998.2L932.8 1000.1L933.2 1002.1L933.6 1004.1L934.0 1006.0L934.3 1008.0L934.7 1010.0L935.1 1011.9L935.5 1013.9L935.8 1015.8L936.2 1017.8L936.6 1019.8L936.9 1021.8L937.3 1023.7L937.7 1025.7L938.0 1027.7L938.4 1029.6L938.7 1031.6L939.1 1033.6L939.4 1035.5L939.8 1037.5L940.1 1039.5L940.4 1041.5L940.8 1043.4L941.1 1045.4L941.4 1047.4L941.8 1049.4L942.1 1051.4L942.4 1053.3L942.7 1055.3L943.0 1057.3L943.4 1059.3L943.7 1061.3L944.0 1063.2L944.3 1065.2L944.6 1067.2L944.9 1069.2L945.2 1071.2L945.5 1073.1L945.8 1075.1L946.1 1077.1L946.4 1079.1L946.7 1081.1L947.0 1083.1L947.3 1085.0L947.5 1087.0L947.8 1089.0L948.1 1091.0L948.4 1093.0L948.7 1095.0L949.0 1097.0L949.2 1099.0L949.5 1100.9L949.8 1102.9L950.0 1104.9L950.3 1106.9L950.6 1108.9L950.9 1110.9L951.1 1112.9L951.4 1114.9L951.6 1116.9L951.9 1118.8L952.2 1120.8L952.4 1122.8L952.7 1124.8L952.9 1126.8L953.2 1128.8L953.4 1130.8L953.7 1132.8L953.9 1134.8L954.2 1136.8L954.4 1138.8L954.7 1140.7L954.9 1142.7L955.2 1144.7L955.4 1146.7L955.7 1148.7L955.9 1150.7L956.2 1152.7L956.4 1154.7L956.6 1156.7L956.9 1158.7L957.1 1160.7L957.3 1162.7L957.6 1164.6L957.8 1166.6L958.1 1168.6L958.3 1170.6L958.5 1172.6L958.8 1174.6L959.0 1176.6L959.2 1178.6L959.5 1180.6L959.7 1182.6L959.9 1184.6L960.1 1186.6L960.4 1188.5L960.6 1190.5L960.8 1192.5L961.1 1194.5L961.3 1196.5L961.5 1198.5L961.7 1200.5L962.0 1202.5L962.2 1204.5L962.4 1206.5L962.7 1208.5L962.9 1210.4L963.1 1212.4L963.3 1214.4L963.6 1216.4L963.8 1218.4L964.0 1220.4L964.3 1222.4L964.5 1224.4L964.7 1226.3L964.9 1228.3L965.2 1230.3L965.4 1232.3" fill="none" stroke="#0000f5" stroke-width="3.1" stroke-dasharray="8.6 8.7" stroke-linejoin="round" style="mix-blend-mode:multiply"/>
<path d="M129.5 1232.1L131.4 1231.5L133.3 1231.0L135.2 1230.4L137.1 1229.9L139.0 1229.3L141.0 1228.8L142.9 1228.3L144.8 1227.8L146.7 1227.3L148.7 1226.8L150.6 1226.3L152.6 1225.8L154.5 1225.3L156.5 1224.8L158.4 1224.4L160.4 1223.9L162.3 1223.4L164.3 1223.0L166.2 1222.5L168.2 1222.1L170.2 1221.6L172.1 1221.2L174.1 1220.7L176.0 1220.3L178.0 1219.8L180.0 1219.4L181.9 1218.9L183.9 1218.5L185.9 1218.1L187.9 1217.6L189.8 1217.2L191.8 1216.7L193.8 1216.3L195.7 1215.8L197.7 1215.4L199.7 1214.9L201.6 1214.4L203.6 1214.0L205.5 1213.5L207.5 1213.0L209.5 1212.5L211.4 1212.0L213.4 1211.6L215.3 1211.0L217.3 1210.5L219.2 1210.0L221.1 1209.5L223.1 1209.0L225.0 1208.4L226.9 1207.9L228.9 1207.3L230.8 1206.7L232.7 1206.1L234.6 1205.6L236.5 1205.0L238.5 1204.4L240.4 1203.7L242.3 1203.1L244.2 1202.5L246.1 1201.8L248.0 1201.2L249.8 1200.5L251.7 1199.9L253.6 1199.2L255.5 1198.5L257.4 1197.8L259.2 1197.1L261.1 1196.4L263.0 1195.7L264.8 1195.0L266.7 1194.2L268.6 1193.5L270.4 1192.8L272.3 1192.0L274.1 1191.2L276.0 1190.5L277.8 1189.7L279.6 1188.9L281.5 1188.1L283.3 1187.3L285.1 1186.5L287.0 1185.7L288.8 1184.9L290.6 1184.1L292.4 1183.2L294.3 1182.4L296.1 1181.6L297.9 1180.7L299.7 1179.9L301.5 1179.0L303.3 1178.1L305.1 1177.3L306.9 1176.4L308.7 1175.5L310.5 1174.6L312.3 1173.7L314.0 1172.8L315.8 1171.9L317.6 1171.0L319.4 1170.0L321.2 1169.1L322.9 1168.2L324.7 1167.2L326.5 1166.3L328.2 1165.3L330.0 1164.4L331.8 1163.4L333.5 1162.5L335.3 1161.5L337.0 1160.5L338.8 1159.5L340.5 1158.6L342.3 1157.6L344.0 1156.6L345.7 1155.6L347.5 1154.6L349.2 1153.6L351.0 1152.6L352.7 1151.6L354.4 1150.5L356.1 1149.5L357.9 1148.5L359.6 1147.5L361.3 1146.4L363.0 1145.4L364.7 1144.4L366.5 1143.3L368.2 1142.3L369.9 1141.2L371.6 1140.2L373.3 1139.1L375.0 1138.1L376.7 1137.0L378.4 1135.9L380.1 1134.9L381.8 1133.8L383.5 1132.7L385.2 1131.6L386.9 1130.5L388.6 1129.5L390.2 1128.4L391.9 1127.3L393.6 1126.2L395.3 1125.1L397.0 1124.0L398.7 1122.9L400.3 1121.8L402.0 1120.7L403.7 1119.6L405.3 1118.4L407.0 1117.3L408.7 1116.2L410.3 1115.1L412.0 1114.0L413.7 1112.8L415.3 1111.7L417.0 1110.6L418.6 1109.4L420.3 1108.3L421.9 1107.1L423.6 1106.0L425.2 1104.9L426.9 1103.7L428.5 1102.6L430.2 1101.4L431.8 1100.2L433.4 1099.1L435.1 1097.9L436.7 1096.7L438.3 1095.6L440.0 1094.4L441.6 1093.2L443.2 1092.1L444.8 1090.9L446.5 1089.7L448.1 1088.5L449.7 1087.3L451.3 1086.1L452.9 1084.9L454.6 1083.8L456.2 1082.6L457.8 1081.4L459.4 1080.2L461.0 1079.0L462.6 1077.7L464.2 1076.5L465.8 1075.3L467.4 1074.1L469.0 1072.9L470.6 1071.7L472.2 1070.5L473.8 1069.2L475.4 1068.0L477.0 1066.8L478.6 1065.6L480.2 1064.3L481.8 1063.1L483.3 1061.9L484.9 1060.6L486.5 1059.4L488.1 1058.2L489.7 1056.9L491.2 1055.7L492.8 1054.4L494.4 1053.2L496.0 1051.9L497.5 1050.7L499.1 1049.4L500.7 1048.1L502.2 1046.9L503.8 1045.6L505.4 1044.4L506.9 1043.1L508.5 1041.8L510.0 1040.6L511.6 1039.3L513.2 1038.0L514.7 1036.7L516.3 1035.5L517.8 1034.2L519.4 1032.9L520.9 1031.6L522.5 1030.3L524.0 1029.1L525.5 1027.8L527.1 1026.5L528.6 1025.2L530.2 1023.9L531.7 1022.6L533.2 1021.3L534.8 1020.0L536.3 1018.7L537.8 1017.4L539.4 1016.1L540.9 1014.8L542.4 1013.5L543.9 1012.2L545.5 1010.9L547.0 1009.6L548.5 1008.3L550.0 1006.9L551.6 1005.6L553.1 1004.3L554.6 1003.0L556.1 1001.7L557.6 1000.4L559.1 999.0L560.6 997.7L562.2 996.4L563.7 995.1L565.2 993.7L566.7 992.4L568.2 991.1L569.7 989.7L571.2 988.4L572.7 987.1L574.2 985.7L575.7 984.4L577.2 983.1L578.7 981.7L580.2 980.4L581.7 979.0L583.2 977.7L584.6 976.4L586.1 975.0L587.6 973.7L589.1 972.3L590.6 971.0L592.1 969.6L593.6 968.3L595.0 966.9L596.5 965.6L598.0 964.2L599.5 962.9L601.0 961.5L602.4 960.1L603.9 958.8L605.4 957.4L606.9 956.1L608.3 954.7L609.8 953.4L611.3 952.0L612.7 950.6L614.2 949.3L615.7 947.9L617.1 946.5L618.6 945.2L620.1 943.8L621.5 942.4L623.0 941.1L624.4 939.7L625.9 938.3L627.4 937.0L628.8 935.6L630.3 934.2L631.7 932.8L633.2 931.5L634.6 930.1L636.1 928.7L637.5 927.3L639.0 926.0L640.4 924.6L641.9 923.2L643.3 921.8L644.8 920.5L646.2 919.1L647.6 917.7L649.1 916.3L650.5 914.9L652.0 913.6L653.4 912.2L654.8 910.8L656.3 909.4L657.7 908.0L659.1 906.7L660.6 905.3L662.0 903.9L663.4 902.5L664.9 901.1L666.3 899.7L667.7 898.4L669.2 897.0L670.6 895.6L672.0 894.2L673.4 892.8L674.9 891.4L676.3 890.0L677.7 888.7L679.1 887.3L680.6 885.9L682.0 884.5L683.4 883.1L684.8 881.7L686.3 880.3L687.7 879.0L689.1 877.6L690.5 876.2L691.9 874.8L693.4 873.4L694.8 872.0L696.2 870.6L697.6 869.3L699.1 867.9L700.5 866.5L701.9 865.1L703.4 863.7L704.8 862.3L706.2 861.0L707.7 859.6L709.1 858.2L710.6 856.8L712.0 855.4L713.4 854.1L714.9 852.7L716.3 851.3L717.8 849.9L719.3 848.6L720.7 847.2L722.2 845.8L723.6 844.4L725.1 843.1L726.6 841.7L728.1 840.3L729.6 839.0L731.0 837.6L732.5 836.2L734.0 834.9L735.5 833.5L737.0 832.1L738.5 830.8L740.1 829.4L741.6 828.1L743.1 826.7L744.6 825.3L746.2 824.0L747.7 822.6L749.2 821.3L750.8 819.9L752.3 818.6L753.9 817.3L755.5 815.9L757.1 814.6L758.6 813.2L760.2 811.9L761.8 810.6L763.4 809.2L765.0 807.9L766.6 806.6L768.3 805.2L769.9 803.9L771.5 802.6L773.2 801.3L774.8 799.9L776.5 798.6L778.1 797.3L779.8 796.0L781.5 794.8L783.2 793.5L784.9 792.2L786.6 791.0L788.3 789.8L790.0 788.6L791.7 787.4L793.5 786.3L795.2 785.2L796.9 784.1L798.7 783.1L800.4 782.1L802.2 781.1L804.0 780.2L805.7 779.3L807.5 778.4L809.3 777.7L811.1 776.9L812.9 776.2L814.7 775.6L816.5 775.0L818.3 774.4L820.2 774.0L822.0 773.5L823.8 773.2L825.7 772.9L827.5 772.7L829.4 772.5L831.2 772.4L833.1 772.4L834.9 772.5L836.8 772.6L838.7 772.8L840.5 773.1L842.3 773.4L844.2 773.8L846.0 774.2L847.8 774.8L849.6 775.3L851.4 776.0L853.1 776.7L854.8 777.4L856.5 778.2L858.2 779.1L859.8 780.0L861.5 781.0L863.0 782.1L864.6 783.2L866.1 784.3L867.5 785.5L869.0 786.7L870.3 788.0L871.7 789.4L873.0 790.7L874.3 792.2L875.6 793.6L876.8 795.1L878.0 796.7L879.1 798.2L880.3 799.9L881.4 801.5L882.5 803.2L883.5 804.9L884.6 806.6L885.6 808.4L886.5 810.2L887.5 812.0L888.4 813.8L889.4 815.7L890.3 817.5L891.1 819.4L892.0 821.3L892.8 823.2L893.7 825.2L894.5 827.1L895.3 829.1L896.1 831.0L896.8 833.0L897.6 835.0L898.3 836.9L899.1 838.9L899.8 840.9L900.5 842.8L901.2 844.8L901.9 846.8L902.6 848.7L903.3 850.7L904.0 852.7L904.7 854.6L905.3 856.6L906.0 858.6L906.6 860.5L907.3 862.5L907.9 864.4L908.5 866.4L909.2 868.4L909.8 870.3L910.4 872.3L911.0 874.2L911.5 876.2L912.1 878.2L912.7 880.1L913.2 882.1L913.8 884.0L914.4 886.0L914.9 887.9L915.4 889.9L916.0 891.9L916.5 893.8L917.0 895.8L917.5 897.7L918.0 899.7L918.5 901.6L919.0 903.6L919.5 905.5L920.0 907.5L920.4 909.4L920.9 911.4L921.4 913.3L921.8 915.3L922.3 917.2L922.7 919.2L923.2 921.1L923.6 923.1L924.0 925.0L924.4 927.0L924.9 928.9L925.3 930.9L925.7 932.9L926.1 934.8L926.5 936.8L926.9 938.7L927.3 940.7L927.7 942.6L928.0 944.6L928.4 946.5L928.8 948.5L929.2 950.4L929.5 952.4L929.9 954.3L930.2 956.3L930.6 958.2L930.9 960.2L931.3 962.1L931.6 964.1L932.0 966.0L932.3 968.0L932.6 969.9L932.9 971.9L933.3 973.9L933.6 975.8L933.9 977.8L934.2 979.7L934.5 981.7L934.8 983.6L935.1 985.6L935.5 987.6L935.8 989.5L936.1 991.5L936.3 993.4L936.6 995.4L936.9 997.4L937.2 999.3L937.5 1001.3L937.8 1003.2L938.1 1005.2L938.4 1007.2L938.6 1009.1L938.9 1011.1L939.2 1013.1L939.5 1015.0L939.7 1017.0L940.0 1019.0L940.3 1020.9L940.6 1022.9L940.8 1024.9L941.1 1026.9L941.4 1028.8L941.6 1030.8L941.9 1032.8L942.2 1034.8L942.4 1036.7L942.7 1038.7L943.0 1040.7L943.2 1042.7L943.5 1044.7L943.8 1046.6L944.0 1048.6L944.3 1050.6L944.5 1052.6L944.8 1054.6L945.1 1056.6L945.3 1058.5L945.6 1060.5L945.9 1062.5L946.1 1064.5L946.4 1066.5L946.7 1068.5L946.9 1070.5L947.2 1072.5L947.4 1074.5L947.7 1076.5L948.0 1078.5L948.2 1080.5L948.5 1082.5L948.8 1084.5L949.0 1086.5L949.3 1088.5L949.5 1090.5L949.8 1092.5L950.1 1094.5L950.3 1096.5L950.6 1098.5L950.8 1100.5L951.1 1102.5L951.4 1104.5L951.6 1106.5L951.9 1108.5L952.1 1110.5L952.4 1112.5L952.6 1114.5L952.9 1116.5L953.1 1118.5L953.4 1120.5L953.6 1122.5L953.9 1124.5L954.1 1126.6L954.4 1128.6L954.6 1130.6L954.9 1132.6L955.1 1134.6L955.4 1136.6L955.6 1138.6L955.9 1140.6L956.1 1142.6L956.3 1144.6L956.6 1146.6L956.8 1148.6L957.1 1150.6L957.3 1152.6L957.5 1154.6L957.8 1156.6L958.0 1158.6L958.2 1160.6L958.4 1162.6L958.7 1164.7L958.9 1166.7L959.1 1168.7L959.3 1170.7L959.6 1172.7L959.8 1174.7L960.0 1176.7L960.2 1178.7L960.4 1180.7L960.7 1182.7L960.9 1184.7L961.1 1186.6L961.3 1188.6L961.5 1190.6L961.7 1192.6L961.9 1194.6L962.1 1196.6L962.3 1198.6L962.5 1200.6L962.7 1202.6L962.9 1204.6L963.1 1206.6L963.3 1208.6L963.5 1210.5L963.7 1212.5L963.8 1214.5L964.0 1216.5L964.2 1218.5L964.4 1220.4L964.6 1222.4L964.7 1224.4L964.9 1226.4L965.1 1228.4L965.2 1230.3L965.4 1232.3" fill="none" stroke="#00f00a" stroke-width="3.1" stroke-dasharray="41.5 45.7" stroke-dashoffset="0" stroke-linejoin="round" style="mix-blend-mode:multiply"/>
<path d="M129.5 1232.1L131.4 1231.6L133.3 1231.0L135.3 1230.4L137.2 1229.9L139.1 1229.3L141.0 1228.8L143.0 1228.2L144.9 1227.7L146.8 1227.1L148.7 1226.5L150.6 1226.0L152.6 1225.4L154.5 1224.8L156.4 1224.2L158.3 1223.7L160.2 1223.1L162.2 1222.5L164.1 1221.9L166.0 1221.3L167.9 1220.8L169.8 1220.2L171.8 1219.6L173.7 1219.0L175.6 1218.4L177.5 1217.8L179.4 1217.2L181.3 1216.5L183.3 1215.9L185.2 1215.3L187.1 1214.7L189.0 1214.1L190.9 1213.4L192.8 1212.8L194.7 1212.2L196.6 1211.5L198.5 1210.9L200.4 1210.3L202.3 1209.6L204.2 1208.9L206.1 1208.3L208.0 1207.6L209.9 1207.0L211.8 1206.3L213.7 1205.6L215.6 1204.9L217.5 1204.2L219.3 1203.6L221.2 1202.9L223.1 1202.2L225.0 1201.5L226.9 1200.8L228.7 1200.0L230.6 1199.3L232.5 1198.6L234.3 1197.9L236.2 1197.1L238.1 1196.4L239.9 1195.6L241.8 1194.9L243.7 1194.1L245.5 1193.4L247.4 1192.6L249.2 1191.8L251.0 1191.0L252.9 1190.3L254.7 1189.5L256.6 1188.7L258.4 1187.9L260.2 1187.1L262.1 1186.2L263.9 1185.4L265.7 1184.6L267.5 1183.8L269.3 1182.9L271.2 1182.1L273.0 1181.2L274.8 1180.4L276.6 1179.5L278.4 1178.6L280.2 1177.8L282.0 1176.9L283.8 1176.0L285.6 1175.1L287.3 1174.2L289.1 1173.3L290.9 1172.4L292.7 1171.5L294.5 1170.6L296.2 1169.6L298.0 1168.7L299.8 1167.8L301.6 1166.8L303.3 1165.9L305.1 1164.9L306.8 1164.0L308.6 1163.0L310.4 1162.1L312.1 1161.1L313.9 1160.1L315.6 1159.1L317.3 1158.2L319.1 1157.2L320.8 1156.2L322.6 1155.2L324.3 1154.2L326.0 1153.2L327.7 1152.1L329.5 1151.1L331.2 1150.1L332.9 1149.1L334.6 1148.1L336.4 1147.0L338.1 1146.0L339.8 1144.9L341.5 1143.9L343.2 1142.8L344.9 1141.8L346.6 1140.7L348.3 1139.7L350.0 1138.6L351.7 1137.5L353.4 1136.4L355.1 1135.4L356.8 1134.3L358.5 1133.2L360.1 1132.1L361.8 1131.0L363.5 1129.9L365.2 1128.8L366.8 1127.7L368.5 1126.6L370.2 1125.5L371.9 1124.4L373.5 1123.2L375.2 1122.1L376.9 1121.0L378.5 1119.8L380.2 1118.7L381.8 1117.6L383.5 1116.4L385.1 1115.3L386.8 1114.1L388.4 1113.0L390.1 1111.8L391.7 1110.7L393.4 1109.5L395.0 1108.4L396.6 1107.2L398.3 1106.0L399.9 1104.8L401.5 1103.7L403.2 1102.5L404.8 1101.3L406.4 1100.1L408.0 1098.9L409.7 1097.8L411.3 1096.6L412.9 1095.4L414.5 1094.2L416.1 1093.0L417.7 1091.8L419.3 1090.6L421.0 1089.4L422.6 1088.1L424.2 1086.9L425.8 1085.7L427.4 1084.5L429.0 1083.3L430.6 1082.1L432.2 1080.8L433.8 1079.6L435.3 1078.4L436.9 1077.2L438.5 1075.9L440.1 1074.7L441.7 1073.5L443.3 1072.2L444.9 1071.0L446.4 1069.8L448.0 1068.5L449.6 1067.3L451.2 1066.0L452.7 1064.8L454.3 1063.5L455.9 1062.3L457.5 1061.0L459.0 1059.8L460.6 1058.5L462.2 1057.3L463.7 1056.0L465.3 1054.8L466.8 1053.5L468.4 1052.2L470.0 1051.0L471.5 1049.7L473.1 1048.5L474.6 1047.2L476.2 1045.9L477.7 1044.7L479.3 1043.4L480.8 1042.1L482.3 1040.8L483.9 1039.6L485.4 1038.3L487.0 1037.0L488.5 1035.7L490.0 1034.5L491.6 1033.2L493.1 1031.9L494.6 1030.6L496.2 1029.3L497.7 1028.0L499.2 1026.8L500.8 1025.5L502.3 1024.2L503.8 1022.9L505.3 1021.6L506.8 1020.3L508.4 1019.0L509.9 1017.7L511.4 1016.4L512.9 1015.1L514.4 1013.8L515.9 1012.5L517.4 1011.2L518.9 1009.8L520.4 1008.5L521.9 1007.2L523.4 1005.9L524.9 1004.6L526.4 1003.3L527.9 1001.9L529.4 1000.6L530.9 999.3L532.4 998.0L533.9 996.6L535.4 995.3L536.9 994.0L538.4 992.6L539.8 991.3L541.3 990.0L542.8 988.6L544.3 987.3L545.8 985.9L547.2 984.6L548.7 983.2L550.2 981.9L551.6 980.5L553.1 979.2L554.6 977.8L556.0 976.4L557.5 975.1L559.0 973.7L560.4 972.3L561.9 971.0L563.3 969.6L564.8 968.2L566.2 966.8L567.7 965.5L569.1 964.1L570.6 962.7L572.0 961.3L573.5 959.9L574.9 958.5L576.3 957.1L577.8 955.7L579.2 954.3L580.6 952.9L582.1 951.5L583.5 950.1L584.9 948.7L586.4 947.3L587.8 945.9L589.2 944.5L590.6 943.0L592.0 941.6L593.5 940.2L594.9 938.8L596.3 937.3L597.7 935.9L599.1 934.5L600.5 933.0L601.9 931.6L603.3 930.1L604.7 928.7L606.1 927.2L607.5 925.8L608.9 924.4L610.3 922.9L611.7 921.4L613.1 920.0L614.5 918.5L615.9 917.1L617.3 915.6L618.7 914.2L620.1 912.7L621.5 911.2L622.9 909.8L624.3 908.3L625.6 906.8L627.0 905.4L628.4 903.9L629.8 902.4L631.2 901.0L632.6 899.5L633.9 898.0L635.3 896.6L636.7 895.1L638.1 893.6L639.5 892.2L640.8 890.7L642.2 889.2L643.6 887.8L645.0 886.3L646.3 884.8L647.7 883.3L649.1 881.9L650.5 880.4L651.9 878.9L653.2 877.5L654.6 876.0L656.0 874.5L657.4 873.1L658.7 871.6L660.1 870.2L661.5 868.7L662.9 867.2L664.3 865.8L665.6 864.3L667.0 862.9L668.4 861.4L669.8 860.0L671.1 858.5L672.5 857.1L673.9 855.6L675.3 854.2L676.7 852.7L678.1 851.3L679.4 849.8L680.8 848.4L682.2 847.0L683.6 845.5L685.0 844.1L686.4 842.7L687.8 841.3L689.1 839.8L690.5 838.4L691.9 837.0L693.3 835.6L694.7 834.2L696.1 832.8L697.5 831.4L698.9 830.0L700.3 828.6L701.7 827.2L703.1 825.8L704.5 824.4L705.9 823.0L707.3 821.6L708.7 820.2L710.2 818.8L711.6 817.5L713.0 816.1L714.4 814.7L715.8 813.3L717.3 812.0L718.7 810.6L720.1 809.2L721.5 807.9L723.0 806.5L724.4 805.1L725.9 803.8L727.3 802.4L728.7 801.1L730.2 799.7L731.7 798.4L733.1 797.0L734.6 795.7L736.0 794.3L737.5 793.0L739.0 791.6L740.5 790.3L741.9 788.9L743.4 787.6L744.9 786.2L746.4 784.9L747.9 783.6L749.4 782.2L750.9 780.9L752.4 779.5L753.9 778.2L755.4 776.9L757.0 775.5L758.5 774.2L760.0 772.8L761.6 771.5L763.1 770.2L764.7 768.8L766.2 767.5L767.8 766.1L769.4 764.8L770.9 763.5L772.5 762.1L774.1 760.8L775.7 759.4L777.3 758.1L778.9 756.8L780.5 755.4L782.1 754.1L783.7 752.7L785.3 751.4L787.0 750.1L788.6 748.8L790.3 747.5L791.9 746.2L793.6 745.0L795.3 743.8L797.0 742.6L798.7 741.4L800.4 740.3L802.1 739.2L803.8 738.1L805.6 737.1L807.3 736.1L809.1 735.2L810.9 734.3L812.7 733.5L814.5 732.8L816.3 732.1L818.1 731.5L820.0 730.9L821.8 730.4L823.7 730.0L825.6 729.6L827.5 729.3L829.4 729.1L831.3 729.0L833.2 728.9L835.1 728.9L837.0 729.0L838.9 729.1L840.8 729.3L842.7 729.6L844.5 730.0L846.3 730.4L848.2 730.9L850.0 731.5L851.7 732.2L853.5 732.9L855.2 733.7L856.9 734.6L858.6 735.5L860.2 736.5L861.8 737.6L863.3 738.8L864.8 740.0L866.3 741.2L867.8 742.5L869.2 743.9L870.5 745.3L871.8 746.7L873.1 748.2L874.4 749.8L875.6 751.4L876.8 753.0L877.9 754.6L879.0 756.3L880.1 758.0L881.2 759.8L882.2 761.6L883.2 763.4L884.2 765.2L885.2 767.0L886.1 768.9L887.0 770.8L888.0 772.6L888.8 774.5L889.7 776.4L890.6 778.3L891.4 780.3L892.2 782.2L893.0 784.1L893.8 786.0L894.6 787.9L895.4 789.8L896.2 791.7L897.0 793.7L897.7 795.6L898.4 797.5L899.2 799.4L899.9 801.3L900.6 803.2L901.3 805.1L902.0 807.1L902.6 809.0L903.3 810.9L903.9 812.8L904.6 814.7L905.2 816.7L905.9 818.6L906.5 820.5L907.1 822.4L907.7 824.3L908.3 826.3L908.9 828.2L909.4 830.1L910.0 832.0L910.6 834.0L911.1 835.9L911.7 837.8L912.2 839.7L912.7 841.7L913.2 843.6L913.8 845.5L914.3 847.5L914.8 849.4L915.3 851.3L915.7 853.2L916.2 855.2L916.7 857.1L917.2 859.0L917.6 861.0L918.1 862.9L918.6 864.9L919.0 866.8L919.4 868.7L919.9 870.7L920.3 872.6L920.7 874.6L921.2 876.5L921.6 878.5L922.0 880.4L922.4 882.3L922.8 884.3L923.2 886.2L923.6 888.2L924.0 890.1L924.4 892.1L924.8 894.0L925.2 896.0L925.6 898.0L926.0 899.9L926.3 901.9L926.7 903.8L927.1 905.8L927.5 907.7L927.8 909.7L928.2 911.7L928.5 913.6L928.9 915.6L929.2 917.6L929.6 919.5L929.9 921.5L930.3 923.4L930.6 925.4L930.9 927.4L931.3 929.4L931.6 931.3L931.9 933.3L932.2 935.3L932.6 937.2L932.9 939.2L933.2 941.2L933.5 943.2L933.8 945.1L934.1 947.1L934.4 949.1L934.7 951.1L935.0 953.0L935.3 955.0L935.6 957.0L935.9 959.0L936.2 961.0L936.5 962.9L936.7 964.9L937.0 966.9L937.3 968.9L937.6 970.9L937.9 972.9L938.1 974.8L938.4 976.8L938.7 978.8L938.9 980.8L939.2 982.8L939.4 984.8L939.7 986.8L940.0 988.8L940.2 990.7L940.5 992.7L940.7 994.7L941.0 996.7L941.2 998.7L941.4 1000.7L941.7 1002.7L941.9 1004.7L942.2 1006.7L942.4 1008.7L942.6 1010.7L942.9 1012.7L943.1 1014.7L943.3 1016.7L943.6 1018.7L943.8 1020.7L944.0 1022.6L944.2 1024.6L944.5 1026.6L944.7 1028.6L944.9 1030.6L945.1 1032.6L945.3 1034.6L945.5 1036.6L945.8 1038.6L946.0 1040.6L946.2 1042.6L946.4 1044.6L946.6 1046.6L946.8 1048.6L947.0 1050.6L947.2 1052.6L947.4 1054.6L947.6 1056.6L947.8 1058.6L948.0 1060.6L948.2 1062.6L948.4 1064.6L948.6 1066.6L948.8 1068.6L949.0 1070.6L949.2 1072.6L949.4 1074.7L949.6 1076.7L949.8 1078.7L950.0 1080.7L950.2 1082.7L950.4 1084.7L950.6 1086.7L950.8 1088.7L951.0 1090.7L951.2 1092.7L951.4 1094.7L951.5 1096.7L951.7 1098.7L951.9 1100.7L952.1 1102.7L952.3 1104.7L952.5 1106.7L952.7 1108.7L952.9 1110.7L953.1 1112.7L953.3 1114.7L953.4 1116.7L953.6 1118.7L953.8 1120.7L954.0 1122.7L954.2 1124.7L954.4 1126.7L954.6 1128.7L954.8 1130.7L955.0 1132.7L955.1 1134.7L955.3 1136.7L955.5 1138.7L955.7 1140.7L955.9 1142.7L956.1 1144.7L956.3 1146.7L956.5 1148.7L956.7 1150.7L956.9 1152.7L957.1 1154.7L957.3 1156.7L957.5 1158.7L957.6 1160.7L957.8 1162.7L958.0 1164.7L958.2 1166.7L958.4 1168.7L958.6 1170.7L958.8 1172.7L959.0 1174.7L959.2 1176.7L959.4 1178.7L959.6 1180.7L959.9 1182.6L960.1 1184.6L960.3 1186.6L960.5 1188.6L960.7 1190.6L960.9 1192.6L961.1 1194.6L961.3 1196.6L961.5 1198.6L961.8 1200.6L962.0 1202.6L962.2 1204.5L962.4 1206.5L962.6 1208.5L962.8 1210.5L963.1 1212.5L963.3 1214.5L963.5 1216.5L963.8 1218.4L964.0 1220.4L964.2 1222.4L964.4 1224.4L964.7 1226.4L964.9 1228.3L965.2 1230.3L965.4 1232.3" fill="none" stroke="#808080" stroke-width="2.4" stroke-linejoin="round" style="mix-blend-mode:multiply"/>
</g>
<path d="M129.7 1249.1V1241.6M129.7 711.2V718.7M171.5 1249.1V1244.8M171.5 711.2V715.5M213.2 1249.1V1244.8M213.2 711.2V715.5M255.0 1249.1V1244.8M255.0 711.2V715.5M296.8 1249.1V1241.6M296.8 711.2V718.7M338.5 1249.1V1244.8M338.5 711.2V715.5M380.3 1249.1V1244.8M380.3 711.2V715.5M422.1 1249.1V1244.8M422.1 711.2V715.5M463.9 1249.1V1241.6M463.9 711.2V718.7M505.6 1249.1V1244.8M505.6 711.2V715.5M547.4 1249.1V1244.8M547.4 711.2V715.5M589.2 1249.1V1244.8M589.2 711.2V715.5M630.9 1249.1V1241.6M630.9 711.2V718.7M672.7 1249.1V1244.8M672.7 711.2V715.5M714.5 1249.1V1244.8M714.5 711.2V715.5M756.2 1249.1V1244.8M756.2 711.2V715.5M798.0 1249.1V1241.6M798.0 711.2V718.7M839.8 1249.1V1244.8M839.8 711.2V715.5M881.6 1249.1V1244.8M881.6 711.2V715.5M923.3 1249.1V1244.8M923.3 711.2V715.5M965.1 1249.1V1241.6M965.1 711.2V718.7M112.6 1232.1H120.1M982.7 1232.1H975.2M112.6 1214.4H116.9M982.7 1214.4H978.4M112.6 1196.7H116.9M982.7 1196.7H978.4M112.6 1179.0H116.9M982.7 1179.0H978.4M112.6 1161.3H120.1M982.7 1161.3H975.2M112.6 1143.6H116.9M982.7 1143.6H978.4M112.6 1125.9H116.9M982.7 1125.9H978.4M112.6 1108.2H116.9M982.7 1108.2H978.4M112.6 1090.5H120.1M982.7 1090.5H975.2M112.6 1072.8H116.9M982.7 1072.8H978.4M112.6 1055.1H116.9M982.7 1055.1H978.4M112.6 1037.4H116.9M982.7 1037.4H978.4M112.6 1019.7H120.1M982.7 1019.7H975.2M112.6 1002.0H116.9M982.7 1002.0H978.4M112.6 984.3H116.9M982.7 984.3H978.4M112.6 966.6H116.9M982.7 966.6H978.4M112.6 948.9H120.1M982.7 948.9H975.2M112.6 931.2H116.9M982.7 931.2H978.4M112.6 913.5H116.9M982.7 913.5H978.4M112.6 895.8H116.9M982.7 895.8H978.4M112.6 878.1H120.1M982.7 878.1H975.2M112.6 860.4H116.9M982.7 860.4H978.4M112.6 842.7H116.9M982.7 842.7H978.4M112.6 825.0H116.9M982.7 825.0H978.4M112.6 807.3H120.1M982.7 807.3H975.2M112.6 789.6H116.9M982.7 789.6H978.4M112.6 771.9H116.9M982.7 771.9H978.4M112.6 754.2H116.9M982.7 754.2H978.4M112.6 736.5H120.1M982.7 736.5H975.2M112.6 718.8H116.9M982.7 718.8H978.4" stroke="#000" stroke-width="1.3" fill="none"/>
<rect x="112.6" y="711.2" width="870.1" height="537.9" fill="none" stroke="#000" stroke-width="2"/>
<g font-size="41"><text x="128.2" y="1288.3" text-anchor="middle">0.0</text><text x="295.3" y="1288.3" text-anchor="middle">0.2</text><text x="462.4" y="1288.3" text-anchor="middle">0.4</text><text x="629.4" y="1288.3" text-anchor="middle">0.6</text><text x="796.5" y="1288.3" text-anchor="middle">0.8</text><text x="963.6" y="1288.3" text-anchor="middle">1.0</text><text x="105.4" y="1243.4" text-anchor="end">0.0</text><text x="105.4" y="1172.6" text-anchor="end">0.2</text><text x="105.4" y="1101.8" text-anchor="end">0.4</text><text x="105.4" y="1031.0" text-anchor="end">0.6</text><text x="105.4" y="960.2" text-anchor="end">0.8</text><text x="105.4" y="889.4" text-anchor="end">1.0</text><text x="105.4" y="818.6" text-anchor="end">1.2</text><text x="105.4" y="747.8" text-anchor="end">1.4</text></g>
<text x="547.4" y="1345.1" font-size="41" font-style="italic" text-anchor="middle">η</text>
<text x="544.9" y="1389.9" font-size="27" font-weight="bold" text-anchor="middle">(c)</text>
<g>
<path d="M1118.9 1237.4L1119.8 1235.6L1120.7 1233.8L1121.6 1232.0L1122.5 1230.2L1123.4 1228.4L1124.4 1226.7L1125.3 1224.9L1126.2 1223.1L1127.2 1221.3L1128.1 1219.6L1129.1 1217.8L1130.1 1216.1L1131.0 1214.3L1132.0 1212.6L1133.0 1210.8L1134.0 1209.1L1135.0 1207.4L1136.0 1205.6L1137.0 1203.9L1138.0 1202.2L1139.1 1200.5L1140.1 1198.7L1141.1 1197.0L1142.2 1195.3L1143.2 1193.6L1144.2 1191.9L1145.3 1190.2L1146.4 1188.5L1147.4 1186.8L1148.5 1185.1L1149.6 1183.4L1150.6 1181.7L1151.7 1180.1L1152.8 1178.4L1153.9 1176.7L1155.0 1175.0L1156.1 1173.4L1157.2 1171.7L1158.3 1170.0L1159.4 1168.3L1160.5 1166.7L1161.6 1165.0L1162.7 1163.4L1163.9 1161.7L1165.0 1160.0L1166.1 1158.4L1167.2 1156.7L1168.4 1155.1L1169.5 1153.4L1170.6 1151.8L1171.8 1150.1L1172.9 1148.5L1174.0 1146.8L1175.2 1145.2L1176.3 1143.5L1177.5 1141.9L1178.6 1140.3L1179.8 1138.6L1180.9 1137.0L1182.1 1135.3L1183.2 1133.7L1184.4 1132.1L1185.6 1130.4L1186.7 1128.8L1187.9 1127.1L1189.0 1125.5L1190.2 1123.9L1191.3 1122.2L1192.5 1120.6L1193.7 1119.0L1194.8 1117.3L1196.0 1115.7L1197.1 1114.0L1198.3 1112.4L1199.4 1110.8L1200.6 1109.1L1201.8 1107.5L1202.9 1105.9L1204.1 1104.2L1205.2 1102.6L1206.4 1100.9L1207.5 1099.3L1208.7 1097.7L1209.8 1096.0L1211.0 1094.4L1212.1 1092.7L1213.3 1091.1L1214.4 1089.4L1215.6 1087.8L1216.7 1086.2L1217.9 1084.5L1219.0 1082.9L1220.2 1081.2L1221.3 1079.6L1222.5 1077.9L1223.6 1076.3L1224.8 1074.7L1225.9 1073.0L1227.1 1071.4L1228.2 1069.7L1229.4 1068.1L1230.5 1066.4L1231.7 1064.8L1232.8 1063.1L1234.0 1061.5L1235.1 1059.9L1236.3 1058.2L1237.4 1056.6L1238.6 1054.9L1239.7 1053.3L1240.8 1051.6L1242.0 1050.0L1243.1 1048.4L1244.3 1046.7L1245.4 1045.1L1246.6 1043.4L1247.8 1041.8L1248.9 1040.2L1250.1 1038.5L1251.2 1036.9L1252.4 1035.2L1253.5 1033.6L1254.7 1032.0L1255.8 1030.3L1257.0 1028.7L1258.1 1027.1L1259.3 1025.4L1260.5 1023.8L1261.6 1022.2L1262.8 1020.5L1263.9 1018.9L1265.1 1017.3L1266.3 1015.6L1267.4 1014.0L1268.6 1012.4L1269.8 1010.7L1270.9 1009.1L1272.1 1007.5L1273.3 1005.9L1274.4 1004.2L1275.6 1002.6L1276.8 1001.0L1277.9 999.4L1279.1 997.7L1280.3 996.1L1281.5 994.5L1282.7 992.9L1283.8 991.3L1285.0 989.7L1286.2 988.0L1287.4 986.4L1288.6 984.8L1289.8 983.2L1291.0 981.6L1292.1 980.0L1293.3 978.4L1294.5 976.8L1295.7 975.2L1296.9 973.6L1298.1 972.0L1299.3 970.4L1300.5 968.8L1301.7 967.2L1302.9 965.6L1304.2 964.0L1305.4 962.4L1306.6 960.8L1307.8 959.2L1309.0 957.6L1310.2 956.0L1311.5 954.5L1312.7 952.9L1313.9 951.3L1315.1 949.7L1316.4 948.1L1317.6 946.6L1318.8 945.0L1320.1 943.4L1321.3 941.8L1322.6 940.3L1323.8 938.7L1325.0 937.1L1326.3 935.6L1327.6 934.0L1328.8 932.5L1330.1 930.9L1331.3 929.4L1332.6 927.8L1333.9 926.2L1335.1 924.7L1336.4 923.2L1337.7 921.6L1338.9 920.1L1340.2 918.5L1341.5 917.0L1342.8 915.5L1344.1 913.9L1345.4 912.4L1346.7 910.9L1348.0 909.3L1349.3 907.8L1350.6 906.3L1351.9 904.8L1353.2 903.3L1354.5 901.7L1355.8 900.2L1357.1 898.7L1358.4 897.2L1359.8 895.7L1361.1 894.2L1362.4 892.7L1363.8 891.2L1365.1 889.7L1366.4 888.2L1367.8 886.7L1369.1 885.2L1370.5 883.8L1371.8 882.3L1373.2 880.8L1374.6 879.3L1375.9 877.9L1377.3 876.4L1378.7 874.9L1380.1 873.5L1381.4 872.0L1382.8 870.5L1384.2 869.1L1385.6 867.6L1387.0 866.2L1388.4 864.8L1389.8 863.3L1391.2 861.9L1392.6 860.5L1394.0 859.0L1395.5 857.6L1396.9 856.2L1398.3 854.8L1399.7 853.4L1401.2 852.0L1402.6 850.6L1404.0 849.2L1405.5 847.8L1406.9 846.4L1408.4 845.0L1409.9 843.6L1411.3 842.2L1412.8 840.9L1414.3 839.5L1415.7 838.1L1417.2 836.8L1418.7 835.4L1420.2 834.1L1421.7 832.7L1423.2 831.4L1424.7 830.1L1426.2 828.7L1427.7 827.4L1429.2 826.1L1430.7 824.8L1432.3 823.5L1433.8 822.2L1435.3 820.9L1436.8 819.6L1438.4 818.3L1439.9 817.1L1441.5 815.8L1443.0 814.5L1444.6 813.3L1446.2 812.0L1447.7 810.8L1449.3 809.5L1450.9 808.3L1452.5 807.1L1454.0 805.8L1455.6 804.6L1457.2 803.4L1458.8 802.2L1460.4 801.0L1462.0 799.8L1463.7 798.7L1465.3 797.5L1466.9 796.3L1468.5 795.2L1470.2 794.0L1471.8 792.9L1473.5 791.7L1475.1 790.6L1476.8 789.5L1478.4 788.3L1480.1 787.2L1481.8 786.1L1483.4 785.0L1485.1 783.9L1486.8 782.9L1488.5 781.8L1490.2 780.7L1491.9 779.7L1493.6 778.6L1495.3 777.6L1497.0 776.5L1498.7 775.5L1500.5 774.5L1502.2 773.5L1503.9 772.5L1505.7 771.5L1507.4 770.5L1509.2 769.5L1510.9 768.6L1512.7 767.6L1514.5 766.7L1516.2 765.7L1518.0 764.8L1519.8 763.9L1521.6 762.9L1523.4 762.0L1525.2 761.1L1527.0 760.2L1528.8 759.4L1530.6 758.5L1532.4 757.6L1534.3 756.8L1536.1 755.9L1538.0 755.1L1539.8 754.3L1541.7 753.5L1543.5 752.7L1545.4 751.9L1547.2 751.1L1549.1 750.3L1551.0 749.6L1552.9 748.8L1554.8 748.1L1556.7 747.3L1558.6 746.6L1560.5 745.9L1562.4 745.3L1564.3 744.6L1566.2 743.9L1568.1 743.3L1570.1 742.7L1572.0 742.1L1573.9 741.5L1575.8 740.9L1577.8 740.3L1579.7 739.8L1581.7 739.3L1583.6 738.8L1585.6 738.3L1587.5 737.8L1589.5 737.3L1591.4 736.9L1593.4 736.5L1595.3 736.1L1597.3 735.7L1599.3 735.4L1601.2 735.1L1603.2 734.8L1605.2 734.5L1607.1 734.2L1609.1 734.0L1611.1 733.8L1613.1 733.6L1615.0 733.4L1617.0 733.3L1619.0 733.2L1620.9 733.1L1622.9 733.0L1624.9 733.0L1626.9 733.0L1628.8 733.0L1630.8 733.0L1632.8 733.1L1634.8 733.2L1636.7 733.3L1638.7 733.5L1640.7 733.7L1642.6 733.9L1644.6 734.1L1646.6 734.4L1648.5 734.7L1650.5 735.0L1652.5 735.4L1654.4 735.8L1656.4 736.2L1658.3 736.7L1660.2 737.1L1662.2 737.6L1664.1 738.2L1666.0 738.7L1667.9 739.3L1669.8 739.9L1671.8 740.5L1673.6 741.2L1675.5 741.9L1677.4 742.6L1679.3 743.3L1681.1 744.1L1683.0 744.9L1684.8 745.7L1686.7 746.5L1688.5 747.4L1690.3 748.2L1692.1 749.1L1693.8 750.1L1695.6 751.0L1697.4 752.0L1699.1 753.0L1700.8 754.0L1702.6 755.0L1704.3 756.0L1705.9 757.1L1707.6 758.2L1709.3 759.3L1710.9 760.4L1712.6 761.6L1714.2 762.7L1715.8 763.9L1717.4 765.1L1719.0 766.3L1720.6 767.5L1722.2 768.7L1723.7 770.0L1725.3 771.2L1726.8 772.5L1728.3 773.8L1729.9 775.1L1731.4 776.4L1732.9 777.7L1734.4 779.0L1735.9 780.3L1737.4 781.7L1738.8 783.0L1740.3 784.4L1741.8 785.7L1743.2 787.1L1744.7 788.5L1746.1 789.9L1747.5 791.3L1749.0 792.7L1750.4 794.1L1751.8 795.5L1753.2 796.9L1754.6 798.4L1755.9 799.8L1757.3 801.3L1758.7 802.7L1760.1 804.2L1761.4 805.7L1762.8 807.1L1764.1 808.6L1765.4 810.1L1766.7 811.6L1768.1 813.1L1769.4 814.6L1770.7 816.2L1772.0 817.7L1773.3 819.2L1774.6 820.8L1775.8 822.3L1777.1 823.9L1778.4 825.4L1779.6 827.0L1780.9 828.6L1782.1 830.1L1783.3 831.7L1784.6 833.3L1785.8 834.9L1787.0 836.5L1788.2 838.1L1789.4 839.7L1790.6 841.3L1791.8 843.0L1793.0 844.6L1794.2 846.2L1795.4 847.9L1796.5 849.5L1797.7 851.1L1798.8 852.8L1800.0 854.5L1801.1 856.1L1802.3 857.8L1803.4 859.4L1804.5 861.1L1805.6 862.8L1806.8 864.5L1807.9 866.2L1809.0 867.8L1810.1 869.5L1811.2 871.2L1812.2 872.9L1813.3 874.6L1814.4 876.3L1815.5 878.1L1816.5 879.8L1817.6 881.5L1818.6 883.2L1819.7 884.9L1820.7 886.6L1821.8 888.4L1822.8 890.1L1823.8 891.8L1824.9 893.6L1825.9 895.3L1826.9 897.0L1827.9 898.8L1828.9 900.5L1829.9 902.3L1830.9 904.0L1831.9 905.8L1832.9 907.5L1833.8 909.3L1834.8 911.0L1835.8 912.8L1836.8 914.5L1837.7 916.3L1838.7 918.1L1839.6 919.8L1840.6 921.6L1841.5 923.4L1842.4 925.1L1843.4 926.9L1844.3 928.7L1845.2 930.5L1846.2 932.2L1847.1 934.0L1848.0 935.8L1848.9 937.6L1849.8 939.4L1850.7 941.2L1851.6 943.0L1852.5 944.8L1853.4 946.5L1854.2 948.3L1855.1 950.1L1856.0 951.9L1856.9 953.7L1857.7 955.5L1858.6 957.3L1859.5 959.1L1860.3 961.0L1861.2 962.8L1862.0 964.6L1862.8 966.4L1863.7 968.2L1864.5 970.0L1865.3 971.8L1866.2 973.6L1867.0 975.5L1867.8 977.3L1868.6 979.1L1869.4 980.9L1870.2 982.8L1871.1 984.6L1871.9 986.4L1872.6 988.2L1873.4 990.1L1874.2 991.9L1875.0 993.8L1875.8 995.6L1876.6 997.4L1877.4 999.3L1878.1 1001.1L1878.9 1003.0L1879.7 1004.8L1880.4 1006.6L1881.2 1008.5L1881.9 1010.3L1882.7 1012.2L1883.4 1014.0L1884.2 1015.9L1884.9 1017.7L1885.7 1019.6L1886.4 1021.5L1887.1 1023.3L1887.9 1025.2L1888.6 1027.0L1889.3 1028.9L1890.0 1030.8L1890.7 1032.6L1891.5 1034.5L1892.2 1036.4L1892.9 1038.2L1893.6 1040.1L1894.3 1042.0L1895.0 1043.8L1895.7 1045.7L1896.4 1047.6L1897.1 1049.5L1897.8 1051.3L1898.4 1053.2L1899.1 1055.1L1899.8 1057.0L1900.5 1058.8L1901.2 1060.7L1901.8 1062.6L1902.5 1064.5L1903.2 1066.4L1903.8 1068.3L1904.5 1070.2L1905.2 1072.0L1905.8 1073.9L1906.5 1075.8L1907.1 1077.7L1907.8 1079.6L1908.4 1081.5L1909.1 1083.4L1909.7 1085.3L1910.3 1087.2L1911.0 1089.1L1911.6 1091.0L1912.2 1092.9L1912.9 1094.8L1913.5 1096.7L1914.1 1098.6L1914.8 1100.5L1915.4 1102.4L1916.0 1104.3L1916.6 1106.2L1917.2 1108.1L1917.9 1110.0L1918.5 1111.9L1919.1 1113.8L1919.7 1115.7L1920.3 1117.6L1920.9 1119.5L1921.5 1121.5L1922.1 1123.4L1922.7 1125.3L1923.3 1127.2L1923.9 1129.1L1924.5 1131.0L1925.1 1132.9L1925.7 1134.9L1926.3 1136.8L1926.8 1138.7L1927.4 1140.6L1928.0 1142.5L1928.6 1144.4L1929.2 1146.4L1929.8 1148.3L1930.3 1150.2L1930.9 1152.1L1931.5 1154.1L1932.1 1156.0L1932.6 1157.9L1933.2 1159.8L1933.8 1161.8L1934.3 1163.7L1934.9 1165.6L1935.5 1167.5L1936.0 1169.5L1936.6 1171.4L1937.2 1173.3L1937.7 1175.2L1938.3 1177.2L1938.8 1179.1L1939.4 1181.0L1940.0 1183.0L1940.5 1184.9L1941.1 1186.8L1941.6 1188.7L1942.2 1190.7L1942.7 1192.6L1943.3 1194.5L1943.8 1196.5L1944.4 1198.4L1944.9 1200.3L1945.5 1202.3L1946.0 1204.2L1946.6 1206.1L1947.1 1208.1L1947.6 1210.0L1948.2 1211.9L1948.7 1213.9L1949.3 1215.8L1949.8 1217.7L1950.4 1219.7L1950.9 1221.6L1951.4 1223.5L1952.0 1225.5L1952.5 1227.4L1953.1 1229.4L1953.6 1231.3L1954.1 1233.2L1954.7 1235.2L1955.2 1237.1" fill="none" stroke="#ff7272" stroke-width="2.4" stroke-linejoin="round" style="mix-blend-mode:multiply"/>
<path d="M1118.9 1237.4L1120.2 1235.9L1121.5 1234.3L1122.8 1232.8L1124.1 1231.2L1125.4 1229.7L1126.7 1228.2L1128.0 1226.6L1129.3 1225.1L1130.6 1223.6L1131.9 1222.0L1133.2 1220.5L1134.5 1219.0L1135.8 1217.4L1137.1 1215.9L1138.4 1214.4L1139.8 1212.9L1141.1 1211.3L1142.4 1209.8L1143.7 1208.3L1145.0 1206.8L1146.3 1205.3L1147.7 1203.8L1149.0 1202.3L1150.3 1200.7L1151.6 1199.2L1153.0 1197.7L1154.3 1196.2L1155.6 1194.7L1157.0 1193.2L1158.3 1191.7L1159.6 1190.2L1161.0 1188.7L1162.3 1187.2L1163.6 1185.7L1165.0 1184.2L1166.3 1182.7L1167.7 1181.3L1169.0 1179.8L1170.4 1178.3L1171.7 1176.8L1173.1 1175.3L1174.4 1173.8L1175.8 1172.3L1177.1 1170.9L1178.5 1169.4L1179.8 1167.9L1181.2 1166.4L1182.5 1165.0L1183.9 1163.5L1185.3 1162.0L1186.6 1160.6L1188.0 1159.1L1189.4 1157.6L1190.7 1156.2L1192.1 1154.7L1193.5 1153.2L1194.9 1151.8L1196.2 1150.3L1197.6 1148.9L1199.0 1147.4L1200.4 1146.0L1201.7 1144.5L1203.1 1143.1L1204.5 1141.6L1205.9 1140.2L1207.3 1138.7L1208.7 1137.3L1210.1 1135.9L1211.5 1134.4L1212.8 1133.0L1214.2 1131.5L1215.6 1130.1L1217.0 1128.7L1218.4 1127.2L1219.8 1125.8L1221.2 1124.4L1222.6 1123.0L1224.1 1121.5L1225.5 1120.1L1226.9 1118.7L1228.3 1117.3L1229.7 1115.9L1231.1 1114.4L1232.5 1113.0L1233.9 1111.6L1235.4 1110.2L1236.8 1108.8L1238.2 1107.4L1239.6 1106.0L1241.0 1104.6L1242.5 1103.2L1243.9 1101.8L1245.3 1100.4L1246.8 1099.0L1248.2 1097.6L1249.6 1096.2L1251.1 1094.8L1252.5 1093.4L1253.9 1092.0L1255.4 1090.6L1256.8 1089.3L1258.3 1087.9L1259.7 1086.5L1261.2 1085.1L1262.6 1083.7L1264.1 1082.4L1265.5 1081.0L1267.0 1079.6L1268.4 1078.2L1269.9 1076.9L1271.4 1075.5L1272.8 1074.1L1274.3 1072.8L1275.7 1071.4L1277.2 1070.1L1278.7 1068.7L1280.2 1067.3L1281.6 1066.0L1283.1 1064.6L1284.6 1063.3L1286.0 1061.9L1287.5 1060.6L1289.0 1059.2L1290.5 1057.9L1292.0 1056.5L1293.5 1055.2L1294.9 1053.9L1296.4 1052.5L1297.9 1051.2L1299.4 1049.9L1300.9 1048.5L1302.4 1047.2L1303.9 1045.9L1305.4 1044.5L1306.9 1043.2L1308.4 1041.9L1309.9 1040.6L1311.4 1039.3L1312.9 1037.9L1314.4 1036.6L1315.9 1035.3L1317.5 1034.0L1319.0 1032.7L1320.5 1031.4L1322.0 1030.1L1323.5 1028.8L1325.0 1027.5L1326.6 1026.2L1328.1 1024.9L1329.6 1023.6L1331.2 1022.3L1332.7 1021.0L1334.2 1019.7L1335.8 1018.4L1337.3 1017.1L1338.8 1015.8L1340.4 1014.5L1341.9 1013.3L1343.5 1012.0L1345.0 1010.7L1346.5 1009.4L1348.1 1008.1L1349.6 1006.9L1351.2 1005.6L1352.7 1004.3L1354.3 1003.1L1355.9 1001.8L1357.4 1000.5L1359.0 999.3L1360.5 998.0L1362.1 996.8L1363.7 995.5L1365.3 994.2L1366.8 993.0L1368.4 991.7L1370.0 990.5L1371.5 989.2L1373.1 988.0L1374.7 986.8L1376.3 985.5L1377.9 984.3L1379.5 983.0L1381.0 981.8L1382.6 980.6L1384.2 979.3L1385.8 978.1L1387.4 976.9L1389.0 975.7L1390.6 974.4L1392.2 973.2L1393.8 972.0L1395.4 970.8L1397.0 969.6L1398.6 968.4L1400.3 967.2L1401.9 965.9L1403.5 964.7L1405.1 963.5L1406.7 962.4L1408.4 961.2L1410.0 960.0L1411.6 958.8L1413.2 957.6L1414.9 956.4L1416.5 955.2L1418.2 954.1L1419.8 952.9L1421.4 951.7L1423.1 950.6L1424.7 949.4L1426.4 948.3L1428.0 947.1L1429.7 946.0L1431.4 944.8L1433.0 943.7L1434.7 942.6L1436.4 941.4L1438.1 940.3L1439.7 939.2L1441.4 938.1L1443.1 937.0L1444.8 935.9L1446.5 934.8L1448.2 933.7L1449.9 932.6L1451.6 931.5L1453.3 930.4L1455.0 929.4L1456.7 928.3L1458.4 927.2L1460.1 926.2L1461.9 925.1L1463.6 924.1L1465.3 923.1L1467.0 922.0L1468.8 921.0L1470.5 920.0L1472.3 919.0L1474.0 918.0L1475.8 917.0L1477.5 916.0L1479.3 915.0L1481.1 914.0L1482.8 913.0L1484.6 912.1L1486.4 911.1L1488.2 910.2L1489.9 909.2L1491.7 908.3L1493.5 907.3L1495.3 906.4L1497.1 905.5L1498.9 904.6L1500.8 903.7L1502.6 902.8L1504.4 901.9L1506.2 901.0L1508.1 900.2L1509.9 899.3L1511.7 898.5L1513.6 897.6L1515.4 896.8L1517.3 896.0L1519.1 895.2L1521.0 894.4L1522.9 893.6L1524.7 892.8L1526.6 892.0L1528.5 891.2L1530.4 890.5L1532.2 889.7L1534.1 889.0L1536.0 888.3L1537.9 887.6L1539.8 886.9L1541.7 886.2L1543.6 885.5L1545.5 884.9L1547.5 884.2L1549.4 883.6L1551.3 883.0L1553.2 882.4L1555.1 881.8L1557.1 881.2L1559.0 880.7L1560.9 880.1L1562.9 879.6L1564.8 879.0L1566.8 878.5L1568.7 878.0L1570.7 877.6L1572.6 877.1L1574.6 876.7L1576.6 876.2L1578.5 875.8L1580.5 875.4L1582.5 875.0L1584.4 874.7L1586.4 874.3L1588.4 874.0L1590.4 873.7L1592.4 873.4L1594.3 873.1L1596.3 872.8L1598.3 872.6L1600.3 872.3L1602.3 872.1L1604.3 871.9L1606.3 871.7L1608.3 871.6L1610.3 871.4L1612.3 871.3L1614.3 871.2L1616.3 871.1L1618.3 871.0L1620.3 870.9L1622.3 870.9L1624.3 870.9L1626.3 870.8L1628.3 870.9L1630.3 870.9L1632.3 870.9L1634.3 871.0L1636.2 871.0L1638.2 871.1L1640.2 871.2L1642.2 871.4L1644.2 871.5L1646.2 871.7L1648.2 871.8L1650.2 872.0L1652.1 872.2L1654.1 872.5L1656.1 872.7L1658.0 873.0L1660.0 873.2L1662.0 873.5L1663.9 873.8L1665.9 874.2L1667.8 874.5L1669.8 874.9L1671.7 875.3L1673.7 875.6L1675.6 876.1L1677.5 876.5L1679.5 876.9L1681.4 877.4L1683.3 877.9L1685.2 878.4L1687.1 878.9L1689.0 879.4L1690.9 880.0L1692.8 880.6L1694.7 881.2L1696.5 881.8L1698.4 882.4L1700.3 883.0L1702.1 883.7L1704.0 884.3L1705.8 885.0L1707.6 885.7L1709.5 886.5L1711.3 887.2L1713.1 888.0L1714.9 888.7L1716.7 889.5L1718.5 890.4L1720.3 891.2L1722.0 892.0L1723.8 892.9L1725.6 893.8L1727.3 894.7L1729.0 895.6L1730.8 896.5L1732.5 897.5L1734.2 898.4L1735.9 899.4L1737.6 900.4L1739.3 901.4L1741.0 902.4L1742.6 903.5L1744.3 904.5L1746.0 905.6L1747.6 906.7L1749.3 907.8L1750.9 908.9L1752.5 910.0L1754.1 911.2L1755.7 912.3L1757.3 913.5L1758.9 914.7L1760.5 915.9L1762.1 917.1L1763.7 918.3L1765.2 919.5L1766.8 920.8L1768.3 922.1L1769.9 923.3L1771.4 924.6L1772.9 925.9L1774.4 927.2L1775.9 928.5L1777.4 929.9L1778.9 931.2L1780.4 932.6L1781.9 933.9L1783.4 935.3L1784.8 936.7L1786.3 938.1L1787.7 939.5L1789.2 940.9L1790.6 942.3L1792.0 943.8L1793.5 945.2L1794.9 946.6L1796.3 948.1L1797.7 949.6L1799.1 951.1L1800.4 952.5L1801.8 954.0L1803.2 955.5L1804.5 957.1L1805.9 958.6L1807.2 960.1L1808.6 961.6L1809.9 963.2L1811.2 964.7L1812.6 966.3L1813.9 967.9L1815.2 969.4L1816.5 971.0L1817.8 972.6L1819.0 974.2L1820.3 975.8L1821.6 977.4L1822.8 979.0L1824.1 980.6L1825.4 982.2L1826.6 983.8L1827.8 985.5L1829.1 987.1L1830.3 988.7L1831.5 990.4L1832.7 992.0L1833.9 993.7L1835.1 995.3L1836.3 997.0L1837.5 998.6L1838.6 1000.3L1839.8 1002.0L1841.0 1003.6L1842.1 1005.3L1843.3 1007.0L1844.4 1008.7L1845.5 1010.4L1846.7 1012.0L1847.8 1013.7L1848.9 1015.4L1850.0 1017.1L1851.1 1018.8L1852.2 1020.5L1853.3 1022.2L1854.4 1023.9L1855.5 1025.6L1856.6 1027.3L1857.6 1029.0L1858.7 1030.7L1859.7 1032.4L1860.8 1034.1L1861.8 1035.8L1862.9 1037.6L1863.9 1039.3L1864.9 1041.0L1866.0 1042.7L1867.0 1044.5L1868.0 1046.2L1869.0 1047.9L1870.0 1049.6L1871.0 1051.4L1872.0 1053.1L1873.0 1054.9L1873.9 1056.6L1874.9 1058.3L1875.9 1060.1L1876.9 1061.8L1877.8 1063.6L1878.8 1065.3L1879.7 1067.1L1880.7 1068.8L1881.6 1070.6L1882.5 1072.4L1883.5 1074.1L1884.4 1075.9L1885.3 1077.7L1886.3 1079.4L1887.2 1081.2L1888.1 1083.0L1889.0 1084.7L1889.9 1086.5L1890.8 1088.3L1891.7 1090.1L1892.6 1091.8L1893.5 1093.6L1894.4 1095.4L1895.2 1097.2L1896.1 1099.0L1897.0 1100.8L1897.9 1102.6L1898.7 1104.4L1899.6 1106.2L1900.4 1107.9L1901.3 1109.7L1902.1 1111.5L1903.0 1113.3L1903.8 1115.2L1904.7 1117.0L1905.5 1118.8L1906.4 1120.6L1907.2 1122.4L1908.0 1124.2L1908.8 1126.0L1909.7 1127.8L1910.5 1129.6L1911.3 1131.4L1912.1 1133.3L1912.9 1135.1L1913.8 1136.9L1914.6 1138.7L1915.4 1140.6L1916.2 1142.4L1917.0 1144.2L1917.8 1146.0L1918.6 1147.9L1919.4 1149.7L1920.2 1151.5L1920.9 1153.4L1921.7 1155.2L1922.5 1157.0L1923.3 1158.9L1924.1 1160.7L1924.9 1162.6L1925.6 1164.4L1926.4 1166.2L1927.2 1168.1L1928.0 1169.9L1928.7 1171.8L1929.5 1173.6L1930.3 1175.5L1931.0 1177.3L1931.8 1179.2L1932.6 1181.0L1933.3 1182.9L1934.1 1184.7L1934.9 1186.6L1935.6 1188.5L1936.4 1190.3L1937.1 1192.2L1937.9 1194.0L1938.7 1195.9L1939.4 1197.8L1940.2 1199.6L1940.9 1201.5L1941.7 1203.4L1942.4 1205.2L1943.2 1207.1L1943.9 1209.0L1944.7 1210.8L1945.4 1212.7L1946.2 1214.6L1946.9 1216.4L1947.7 1218.3L1948.4 1220.2L1949.2 1222.1L1949.9 1223.9L1950.7 1225.8L1951.4 1227.7L1952.2 1229.6L1952.9 1231.5L1953.7 1233.3L1954.4 1235.2L1955.2 1237.1" fill="none" stroke="#0000f5" stroke-width="3.1" stroke-dasharray="8.6 8.7" stroke-linejoin="round" style="mix-blend-mode:multiply"/>
<path d="M1118.9 1237.4L1120.6 1236.3L1122.3 1235.1L1124.0 1234.0L1125.7 1232.9L1127.4 1231.8L1129.1 1230.7L1130.7 1229.6L1132.4 1228.4L1134.1 1227.3L1135.8 1226.2L1137.5 1225.1L1139.2 1224.0L1140.9 1222.9L1142.6 1221.8L1144.3 1220.7L1146.0 1219.6L1147.7 1218.5L1149.4 1217.5L1151.1 1216.4L1152.8 1215.3L1154.5 1214.2L1156.2 1213.1L1157.9 1212.0L1159.6 1211.0L1161.3 1209.9L1163.0 1208.8L1164.7 1207.7L1166.4 1206.7L1168.1 1205.6L1169.8 1204.5L1171.5 1203.5L1173.2 1202.4L1174.9 1201.4L1176.6 1200.3L1178.3 1199.3L1180.0 1198.2L1181.7 1197.1L1183.4 1196.1L1185.1 1195.1L1186.8 1194.0L1188.5 1193.0L1190.2 1191.9L1191.9 1190.9L1193.6 1189.8L1195.3 1188.8L1197.0 1187.8L1198.7 1186.7L1200.5 1185.7L1202.2 1184.7L1203.9 1183.7L1205.6 1182.6L1207.3 1181.6L1209.0 1180.6L1210.7 1179.6L1212.4 1178.5L1214.1 1177.5L1215.9 1176.5L1217.6 1175.5L1219.3 1174.5L1221.0 1173.5L1222.7 1172.5L1224.4 1171.5L1226.2 1170.4L1227.9 1169.4L1229.6 1168.4L1231.3 1167.4L1233.0 1166.4L1234.8 1165.4L1236.5 1164.4L1238.2 1163.4L1239.9 1162.5L1241.6 1161.5L1243.4 1160.5L1245.1 1159.5L1246.8 1158.5L1248.6 1157.5L1250.3 1156.5L1252.0 1155.5L1253.7 1154.5L1255.5 1153.6L1257.2 1152.6L1258.9 1151.6L1260.7 1150.6L1262.4 1149.6L1264.1 1148.7L1265.9 1147.7L1267.6 1146.7L1269.3 1145.7L1271.1 1144.8L1272.8 1143.8L1274.6 1142.8L1276.3 1141.9L1278.0 1140.9L1279.8 1139.9L1281.5 1139.0L1283.3 1138.0L1285.0 1137.0L1286.7 1136.1L1288.5 1135.1L1290.2 1134.2L1292.0 1133.2L1293.7 1132.2L1295.5 1131.3L1297.2 1130.3L1299.0 1129.4L1300.7 1128.4L1302.5 1127.5L1304.3 1126.5L1306.0 1125.6L1307.8 1124.6L1309.5 1123.7L1311.3 1122.7L1313.0 1121.8L1314.8 1120.8L1316.6 1119.9L1318.3 1118.9L1320.1 1118.0L1321.9 1117.0L1323.6 1116.1L1325.4 1115.2L1327.2 1114.2L1328.9 1113.3L1330.7 1112.3L1332.5 1111.4L1334.2 1110.5L1336.0 1109.5L1337.8 1108.6L1339.6 1107.6L1341.3 1106.7L1343.1 1105.8L1344.9 1104.8L1346.7 1103.9L1348.5 1103.0L1350.2 1102.0L1352.0 1101.1L1353.8 1100.2L1355.6 1099.2L1357.4 1098.3L1359.2 1097.4L1361.0 1096.4L1362.8 1095.5L1364.5 1094.6L1366.3 1093.7L1368.1 1092.7L1369.9 1091.8L1371.7 1090.9L1373.5 1090.0L1375.3 1089.1L1377.1 1088.1L1378.9 1087.2L1380.7 1086.3L1382.5 1085.4L1384.3 1084.5L1386.1 1083.6L1388.0 1082.7L1389.8 1081.8L1391.6 1080.9L1393.4 1080.0L1395.2 1079.1L1397.0 1078.2L1398.8 1077.3L1400.7 1076.4L1402.5 1075.5L1404.3 1074.7L1406.1 1073.8L1407.9 1072.9L1409.8 1072.0L1411.6 1071.2L1413.4 1070.3L1415.2 1069.4L1417.1 1068.6L1418.9 1067.7L1420.7 1066.8L1422.6 1066.0L1424.4 1065.1L1426.2 1064.3L1428.1 1063.5L1429.9 1062.6L1431.8 1061.8L1433.6 1060.9L1435.5 1060.1L1437.3 1059.3L1439.2 1058.5L1441.0 1057.7L1442.9 1056.8L1444.7 1056.0L1446.6 1055.2L1448.4 1054.4L1450.3 1053.6L1452.1 1052.9L1454.0 1052.1L1455.8 1051.3L1457.7 1050.5L1459.6 1049.7L1461.4 1049.0L1463.3 1048.2L1465.2 1047.4L1467.0 1046.7L1468.9 1045.9L1470.8 1045.2L1472.7 1044.5L1474.5 1043.7L1476.4 1043.0L1478.3 1042.3L1480.2 1041.6L1482.1 1040.8L1484.0 1040.1L1485.8 1039.4L1487.7 1038.7L1489.6 1038.1L1491.5 1037.4L1493.4 1036.7L1495.3 1036.0L1497.2 1035.4L1499.1 1034.7L1501.0 1034.0L1502.9 1033.4L1504.8 1032.7L1506.7 1032.1L1508.6 1031.5L1510.5 1030.9L1512.4 1030.2L1514.4 1029.6L1516.3 1029.0L1518.2 1028.4L1520.1 1027.8L1522.0 1027.3L1523.9 1026.7L1525.9 1026.1L1527.8 1025.5L1529.7 1025.0L1531.6 1024.4L1533.6 1023.9L1535.5 1023.4L1537.4 1022.8L1539.4 1022.3L1541.3 1021.8L1543.3 1021.3L1545.2 1020.8L1547.1 1020.3L1549.1 1019.8L1551.0 1019.4L1553.0 1018.9L1554.9 1018.4L1556.9 1018.0L1558.8 1017.6L1560.8 1017.1L1562.8 1016.7L1564.7 1016.3L1566.7 1015.9L1568.6 1015.5L1570.6 1015.1L1572.6 1014.7L1574.5 1014.3L1576.5 1014.0L1578.5 1013.6L1580.5 1013.2L1582.4 1012.9L1584.4 1012.6L1586.4 1012.3L1588.4 1011.9L1590.4 1011.6L1592.4 1011.3L1594.4 1011.1L1596.3 1010.8L1598.3 1010.5L1600.3 1010.3L1602.3 1010.0L1604.3 1009.8L1606.3 1009.5L1608.3 1009.3L1610.3 1009.1L1612.3 1008.9L1614.3 1008.7L1616.3 1008.6L1618.3 1008.4L1620.3 1008.2L1622.3 1008.1L1624.3 1008.0L1626.4 1007.8L1628.4 1007.7L1630.4 1007.6L1632.4 1007.5L1634.4 1007.4L1636.4 1007.4L1638.4 1007.3L1640.4 1007.3L1642.4 1007.2L1644.4 1007.2L1646.4 1007.2L1648.4 1007.2L1650.4 1007.2L1652.4 1007.2L1654.4 1007.3L1656.4 1007.3L1658.4 1007.4L1660.4 1007.5L1662.4 1007.5L1664.4 1007.6L1666.4 1007.7L1668.4 1007.9L1670.4 1008.0L1672.4 1008.1L1674.3 1008.3L1676.3 1008.5L1678.3 1008.7L1680.3 1008.9L1682.3 1009.1L1684.2 1009.3L1686.2 1009.6L1688.2 1009.8L1690.1 1010.1L1692.1 1010.4L1694.1 1010.7L1696.0 1011.0L1698.0 1011.3L1699.9 1011.6L1701.9 1012.0L1703.8 1012.3L1705.8 1012.7L1707.7 1013.1L1709.6 1013.5L1711.6 1013.9L1713.5 1014.4L1715.4 1014.8L1717.3 1015.3L1719.3 1015.8L1721.2 1016.3L1723.1 1016.8L1725.0 1017.3L1726.9 1017.9L1728.8 1018.4L1730.7 1019.0L1732.5 1019.6L1734.4 1020.2L1736.3 1020.8L1738.2 1021.4L1740.0 1022.1L1741.9 1022.7L1743.8 1023.4L1745.6 1024.1L1747.5 1024.8L1749.3 1025.5L1751.2 1026.2L1753.0 1027.0L1754.8 1027.7L1756.6 1028.5L1758.5 1029.3L1760.3 1030.1L1762.1 1030.9L1763.9 1031.7L1765.7 1032.5L1767.5 1033.4L1769.3 1034.2L1771.0 1035.1L1772.8 1036.0L1774.6 1036.9L1776.4 1037.8L1778.1 1038.7L1779.9 1039.7L1781.6 1040.6L1783.4 1041.6L1785.1 1042.6L1786.8 1043.5L1788.5 1044.5L1790.3 1045.6L1792.0 1046.6L1793.7 1047.6L1795.4 1048.7L1797.1 1049.7L1798.8 1050.8L1800.4 1051.9L1802.1 1053.0L1803.8 1054.1L1805.4 1055.2L1807.1 1056.3L1808.7 1057.4L1810.4 1058.6L1812.0 1059.7L1813.6 1060.9L1815.3 1062.1L1816.9 1063.3L1818.5 1064.5L1820.1 1065.7L1821.7 1066.9L1823.2 1068.2L1824.8 1069.4L1826.4 1070.7L1827.9 1072.0L1829.5 1073.2L1831.0 1074.5L1832.6 1075.8L1834.1 1077.1L1835.6 1078.4L1837.2 1079.8L1838.7 1081.1L1840.2 1082.5L1841.7 1083.8L1843.2 1085.2L1844.6 1086.6L1846.1 1087.9L1847.6 1089.3L1849.0 1090.7L1850.5 1092.2L1851.9 1093.6L1853.4 1095.0L1854.8 1096.4L1856.2 1097.9L1857.6 1099.3L1859.0 1100.8L1860.5 1102.3L1861.8 1103.7L1863.2 1105.2L1864.6 1106.7L1866.0 1108.2L1867.4 1109.7L1868.7 1111.2L1870.1 1112.7L1871.4 1114.3L1872.8 1115.8L1874.1 1117.3L1875.4 1118.9L1876.8 1120.4L1878.1 1122.0L1879.4 1123.6L1880.7 1125.1L1882.0 1126.7L1883.3 1128.3L1884.6 1129.9L1885.8 1131.5L1887.1 1133.1L1888.4 1134.7L1889.6 1136.3L1890.9 1137.9L1892.1 1139.5L1893.4 1141.1L1894.6 1142.8L1895.8 1144.4L1897.1 1146.0L1898.3 1147.7L1899.5 1149.3L1900.7 1150.9L1901.9 1152.6L1903.1 1154.3L1904.3 1155.9L1905.5 1157.6L1906.6 1159.2L1907.8 1160.9L1909.0 1162.6L1910.1 1164.2L1911.3 1165.9L1912.4 1167.6L1913.6 1169.3L1914.7 1171.0L1915.9 1172.7L1917.0 1174.3L1918.1 1176.0L1919.2 1177.7L1920.3 1179.4L1921.4 1181.1L1922.5 1182.8L1923.6 1184.5L1924.7 1186.2L1925.8 1187.9L1926.9 1189.6L1928.0 1191.3L1929.0 1193.0L1930.1 1194.7L1931.2 1196.4L1932.2 1198.1L1933.3 1199.8L1934.3 1201.5L1935.4 1203.2L1936.4 1204.9L1937.4 1206.6L1938.5 1208.3L1939.5 1210.0L1940.5 1211.7L1941.5 1213.4L1942.5 1215.1L1943.5 1216.8L1944.5 1218.5L1945.5 1220.2L1946.5 1221.9L1947.5 1223.6L1948.5 1225.3L1949.4 1227.0L1950.4 1228.7L1951.4 1230.4L1952.3 1232.1L1953.3 1233.7L1954.2 1235.4L1955.2 1237.1" fill="none" stroke="#00f00a" stroke-width="3.1" stroke-dasharray="41.5 45.7" stroke-dashoffset="0" stroke-linejoin="round" style="mix-blend-mode:multiply"/>
<path d="M1118.9 1237.4L1120.9 1237.3L1123.0 1237.1L1125.0 1237.0L1127.0 1236.9L1129.0 1236.7L1131.0 1236.6L1133.1 1236.4L1135.1 1236.3L1137.1 1236.1L1139.1 1236.0L1141.1 1235.8L1143.2 1235.6L1145.2 1235.5L1147.2 1235.3L1149.2 1235.1L1151.2 1235.0L1153.2 1234.8L1155.2 1234.6L1157.2 1234.4L1159.3 1234.2L1161.3 1234.0L1163.3 1233.8L1165.3 1233.6L1167.3 1233.4L1169.3 1233.2L1171.3 1233.0L1173.3 1232.8L1175.3 1232.6L1177.3 1232.4L1179.3 1232.1L1181.3 1231.9L1183.3 1231.7L1185.3 1231.5L1187.3 1231.2L1189.3 1231.0L1191.3 1230.8L1193.3 1230.5L1195.3 1230.3L1197.3 1230.0L1199.3 1229.8L1201.3 1229.6L1203.3 1229.3L1205.3 1229.0L1207.3 1228.8L1209.2 1228.5L1211.2 1228.3L1213.2 1228.0L1215.2 1227.7L1217.2 1227.5L1219.2 1227.2L1221.2 1226.9L1223.2 1226.6L1225.2 1226.4L1227.1 1226.1L1229.1 1225.8L1231.1 1225.5L1233.1 1225.2L1235.1 1224.9L1237.1 1224.6L1239.1 1224.4L1241.0 1224.1L1243.0 1223.8L1245.0 1223.5L1247.0 1223.2L1249.0 1222.9L1250.9 1222.5L1252.9 1222.2L1254.9 1221.9L1256.9 1221.6L1258.9 1221.3L1260.8 1221.0L1262.8 1220.7L1264.8 1220.3L1266.8 1220.0L1268.7 1219.7L1270.7 1219.4L1272.7 1219.0L1274.7 1218.7L1276.6 1218.4L1278.6 1218.0L1280.6 1217.7L1282.6 1217.4L1284.5 1217.0L1286.5 1216.7L1288.5 1216.4L1290.4 1216.0L1292.4 1215.7L1294.4 1215.3L1296.4 1215.0L1298.3 1214.6L1300.3 1214.3L1302.3 1213.9L1304.2 1213.6L1306.2 1213.2L1308.2 1212.9L1310.1 1212.5L1312.1 1212.2L1314.1 1211.8L1316.0 1211.4L1318.0 1211.1L1320.0 1210.7L1321.9 1210.3L1323.9 1210.0L1325.9 1209.6L1327.8 1209.2L1329.8 1208.9L1331.8 1208.5L1333.7 1208.1L1335.7 1207.8L1337.7 1207.4L1339.6 1207.0L1341.6 1206.6L1343.6 1206.3L1345.5 1205.9L1347.5 1205.5L1349.5 1205.1L1351.4 1204.7L1353.4 1204.4L1355.4 1204.0L1357.3 1203.6L1359.3 1203.2L1361.2 1202.8L1363.2 1202.4L1365.2 1202.1L1367.1 1201.7L1369.1 1201.3L1371.1 1200.9L1373.0 1200.5L1375.0 1200.1L1376.9 1199.7L1378.9 1199.3L1380.9 1198.9L1382.8 1198.6L1384.8 1198.2L1386.8 1197.8L1388.7 1197.4L1390.7 1197.0L1392.7 1196.6L1394.6 1196.2L1396.6 1195.8L1398.5 1195.4L1400.5 1195.0L1402.5 1194.6L1404.4 1194.2L1406.4 1193.8L1408.4 1193.4L1410.3 1193.0L1412.3 1192.6L1414.3 1192.2L1416.2 1191.8L1418.2 1191.5L1420.1 1191.1L1422.1 1190.7L1424.1 1190.3L1426.0 1189.9L1428.0 1189.5L1430.0 1189.1L1431.9 1188.7L1433.9 1188.3L1435.9 1187.9L1437.8 1187.5L1439.8 1187.1L1441.8 1186.7L1443.7 1186.3L1445.7 1185.9L1447.7 1185.5L1449.6 1185.1L1451.6 1184.7L1453.6 1184.3L1455.5 1183.9L1457.5 1183.5L1459.5 1183.1L1461.4 1182.7L1463.4 1182.4L1465.4 1182.0L1467.3 1181.6L1469.3 1181.2L1471.3 1180.8L1473.3 1180.4L1475.2 1180.0L1477.2 1179.6L1479.2 1179.2L1481.1 1178.8L1483.1 1178.5L1485.1 1178.1L1487.1 1177.7L1489.0 1177.3L1491.0 1176.9L1493.0 1176.5L1494.9 1176.1L1496.9 1175.8L1498.9 1175.4L1500.9 1175.0L1502.9 1174.6L1504.8 1174.2L1506.8 1173.9L1508.8 1173.5L1510.8 1173.1L1512.7 1172.7L1514.7 1172.4L1516.7 1172.0L1518.7 1171.6L1520.7 1171.3L1522.6 1170.9L1524.6 1170.5L1526.6 1170.1L1528.6 1169.8L1530.6 1169.4L1532.5 1169.1L1534.5 1168.7L1536.5 1168.3L1538.5 1168.0L1540.5 1167.6L1542.5 1167.3L1544.5 1166.9L1546.4 1166.5L1548.4 1166.2L1550.4 1165.8L1552.4 1165.5L1554.4 1165.1L1556.4 1164.8L1558.4 1164.4L1560.4 1164.1L1562.4 1163.8L1564.3 1163.4L1566.3 1163.1L1568.3 1162.7L1570.3 1162.4L1572.3 1162.1L1574.3 1161.7L1576.3 1161.4L1578.3 1161.1L1580.3 1160.7L1582.3 1160.4L1584.3 1160.1L1586.3 1159.8L1588.3 1159.5L1590.3 1159.1L1592.3 1158.8L1594.3 1158.5L1596.3 1158.2L1598.3 1157.9L1600.3 1157.6L1602.3 1157.3L1604.3 1157.0L1606.3 1156.7L1608.3 1156.4L1610.4 1156.1L1612.4 1155.8L1614.4 1155.5L1616.4 1155.2L1618.4 1154.9L1620.4 1154.7L1622.4 1154.4L1624.4 1154.1L1626.4 1153.9L1628.4 1153.6L1630.4 1153.3L1632.4 1153.1L1634.5 1152.8L1636.5 1152.6L1638.5 1152.4L1640.5 1152.1L1642.5 1151.9L1644.5 1151.7L1646.5 1151.4L1648.5 1151.2L1650.5 1151.0L1652.5 1150.8L1654.6 1150.6L1656.6 1150.4L1658.6 1150.2L1660.6 1150.0L1662.6 1149.8L1664.6 1149.7L1666.6 1149.5L1668.6 1149.3L1670.6 1149.2L1672.6 1149.0L1674.6 1148.9L1676.7 1148.7L1678.7 1148.6L1680.7 1148.5L1682.7 1148.3L1684.7 1148.2L1686.7 1148.1L1688.7 1148.0L1690.7 1147.9L1692.7 1147.8L1694.7 1147.7L1696.7 1147.7L1698.7 1147.6L1700.7 1147.5L1702.7 1147.5L1704.7 1147.5L1706.7 1147.4L1708.7 1147.4L1710.7 1147.4L1712.7 1147.4L1714.7 1147.3L1716.7 1147.3L1718.7 1147.4L1720.7 1147.4L1722.7 1147.4L1724.6 1147.4L1726.6 1147.5L1728.6 1147.5L1730.6 1147.6L1732.6 1147.7L1734.6 1147.8L1736.6 1147.8L1738.6 1147.9L1740.5 1148.0L1742.5 1148.2L1744.5 1148.3L1746.5 1148.4L1748.5 1148.6L1750.4 1148.7L1752.4 1148.9L1754.4 1149.1L1756.4 1149.2L1758.3 1149.4L1760.3 1149.6L1762.3 1149.9L1764.2 1150.1L1766.2 1150.3L1768.2 1150.6L1770.1 1150.8L1772.1 1151.1L1774.0 1151.4L1776.0 1151.7L1778.0 1152.0L1779.9 1152.3L1781.9 1152.6L1783.8 1152.9L1785.8 1153.3L1787.7 1153.6L1789.7 1154.0L1791.6 1154.4L1793.5 1154.8L1795.5 1155.2L1797.4 1155.6L1799.4 1156.0L1801.3 1156.5L1803.2 1156.9L1805.1 1157.4L1807.1 1157.9L1809.0 1158.4L1810.9 1158.9L1812.9 1159.4L1814.8 1159.9L1816.7 1160.4L1818.6 1161.0L1820.5 1161.6L1822.4 1162.2L1824.3 1162.7L1826.3 1163.4L1828.2 1164.0L1830.1 1164.6L1832.0 1165.3L1833.9 1165.9L1835.8 1166.6L1837.6 1167.3L1839.5 1168.0L1841.4 1168.7L1843.3 1169.4L1845.2 1170.2L1847.1 1170.9L1848.9 1171.7L1850.8 1172.4L1852.7 1173.2L1854.5 1174.0L1856.4 1174.8L1858.3 1175.7L1860.1 1176.5L1862.0 1177.3L1863.8 1178.2L1865.7 1179.1L1867.5 1179.9L1869.3 1180.8L1871.2 1181.7L1873.0 1182.6L1874.8 1183.5L1876.6 1184.5L1878.4 1185.4L1880.2 1186.3L1882.0 1187.3L1883.8 1188.3L1885.6 1189.2L1887.4 1190.2L1889.2 1191.2L1891.0 1192.2L1892.7 1193.2L1894.5 1194.3L1896.3 1195.3L1898.0 1196.3L1899.8 1197.4L1901.5 1198.4L1903.2 1199.5L1905.0 1200.6L1906.7 1201.7L1908.4 1202.7L1910.1 1203.8L1911.8 1204.9L1913.5 1206.0L1915.2 1207.2L1916.9 1208.3L1918.6 1209.4L1920.3 1210.6L1921.9 1211.7L1923.6 1212.9L1925.2 1214.0L1926.9 1215.2L1928.5 1216.4L1930.2 1217.5L1931.8 1218.7L1933.4 1219.9L1935.0 1221.1L1936.6 1222.3L1938.2 1223.5L1939.8 1224.7L1941.4 1225.9L1942.9 1227.2L1944.5 1228.4L1946.1 1229.6L1947.6 1230.9L1949.1 1232.1L1950.7 1233.3L1952.2 1234.6L1953.7 1235.8L1955.2 1237.1" fill="none" stroke="#808080" stroke-width="2.4" stroke-linejoin="round" style="mix-blend-mode:multiply"/>
</g>
<path d="M1119.1 1254.2V1246.7M1119.1 716.0V723.5M1160.9 1254.2V1249.9M1160.9 716.0V720.3M1202.7 1254.2V1249.9M1202.7 716.0V720.3M1244.5 1254.2V1249.9M1244.5 716.0V720.3M1286.3 1254.2V1246.7M1286.3 716.0V723.5M1328.1 1254.2V1249.9M1328.1 716.0V720.3M1369.9 1254.2V1249.9M1369.9 716.0V720.3M1411.7 1254.2V1249.9M1411.7 716.0V720.3M1453.5 1254.2V1246.7M1453.5 716.0V723.5M1495.3 1254.2V1249.9M1495.3 716.0V720.3M1537.1 1254.2V1249.9M1537.1 716.0V720.3M1579.0 1254.2V1249.9M1579.0 716.0V720.3M1620.8 1254.2V1246.7M1620.8 716.0V723.5M1662.6 1254.2V1249.9M1662.6 716.0V720.3M1704.4 1254.2V1249.9M1704.4 716.0V720.3M1746.2 1254.2V1249.9M1746.2 716.0V720.3M1788.0 1254.2V1246.7M1788.0 716.0V723.5M1829.8 1254.2V1249.9M1829.8 716.0V720.3M1871.6 1254.2V1249.9M1871.6 716.0V720.3M1913.4 1254.2V1249.9M1913.4 716.0V720.3M1955.2 1254.2V1246.7M1955.2 716.0V723.5M1101.7 1252.3H1106.0M1972.2 1252.3H1967.9M1101.7 1237.1H1109.2M1972.2 1237.1H1964.7M1101.7 1221.9H1106.0M1972.2 1221.9H1967.9M1101.7 1206.7H1106.0M1972.2 1206.7H1967.9M1101.7 1191.6H1106.0M1972.2 1191.6H1967.9M1101.7 1176.4H1106.0M1972.2 1176.4H1967.9M1101.7 1161.2H1109.2M1972.2 1161.2H1964.7M1101.7 1146.0H1106.0M1972.2 1146.0H1967.9M1101.7 1130.8H1106.0M1972.2 1130.8H1967.9M1101.7 1115.7H1106.0M1972.2 1115.7H1967.9M1101.7 1100.5H1106.0M1972.2 1100.5H1967.9M1101.7 1085.3H1109.2M1972.2 1085.3H1964.7M1101.7 1070.1H1106.0M1972.2 1070.1H1967.9M1101.7 1054.9H1106.0M1972.2 1054.9H1967.9M1101.7 1039.8H1106.0M1972.2 1039.8H1967.9M1101.7 1024.6H1106.0M1972.2 1024.6H1967.9M1101.7 1009.4H1109.2M1972.2 1009.4H1964.7M1101.7 994.2H1106.0M1972.2 994.2H1967.9M1101.7 979.0H1106.0M1972.2 979.0H1967.9M1101.7 963.9H1106.0M1972.2 963.9H1967.9M1101.7 948.7H1106.0M1972.2 948.7H1967.9M1101.7 933.5H1109.2M1972.2 933.5H1964.7M1101.7 918.3H1106.0M1972.2 918.3H1967.9M1101.7 903.1H1106.0M1972.2 903.1H1967.9M1101.7 888.0H1106.0M1972.2 888.0H1967.9M1101.7 872.8H1106.0M1972.2 872.8H1967.9M1101.7 857.6H1109.2M1972.2 857.6H1964.7M1101.7 842.4H1106.0M1972.2 842.4H1967.9M1101.7 827.2H1106.0M1972.2 827.2H1967.9M1101.7 812.1H1106.0M1972.2 812.1H1967.9M1101.7 796.9H1106.0M1972.2 796.9H1967.9M1101.7 781.7H1109.2M1972.2 781.7H1964.7M1101.7 766.5H1106.0M1972.2 766.5H1967.9M1101.7 751.3H1106.0M1972.2 751.3H1967.9M1101.7 736.2H1106.0M1972.2 736.2H1967.9M1101.7 721.0H1106.0M1972.2 721.0H1967.9" stroke="#000" stroke-width="1.3" fill="none"/>
<rect x="1101.7" y="716.0" width="870.5" height="538.2" fill="none" stroke="#000" stroke-width="2"/>
<g font-size="41"><text x="1117.6" y="1293.4" text-anchor="middle">0.0</text><text x="1284.8" y="1293.4" text-anchor="middle">0.2</text><text x="1452.0" y="1293.4" text-anchor="middle">0.4</text><text x="1619.3" y="1293.4" text-anchor="middle">0.6</text><text x="1786.5" y="1293.4" text-anchor="middle">0.8</text><text x="1953.7" y="1293.4" text-anchor="middle">1.0</text><text x="1094.5" y="1248.4" text-anchor="end">0.0</text><text x="1094.5" y="1172.5" text-anchor="end">0.1</text><text x="1094.5" y="1096.6" text-anchor="end">0.2</text><text x="1094.5" y="1020.7" text-anchor="end">0.3</text><text x="1094.5" y="944.8" text-anchor="end">0.4</text><text x="1094.5" y="868.9" text-anchor="end">0.5</text><text x="1094.5" y="793.0" text-anchor="end">0.6</text></g>
<text x="1537.1" y="1350.2" font-size="41" font-style="italic" text-anchor="middle">η</text>
<text x="1534.6" y="1395.1" font-size="27" font-weight="bold" text-anchor="middle">(d)</text>
<g font-size="42"><text transform="translate(34.6 308.2) rotate(-90) scale(1.25 1)" font-style="italic">f</text><text transform="translate(34.6 279.9) rotate(-90)" font-style="normal">(</text><text transform="translate(34.6 265.3) rotate(-90)" font-style="italic">η</text><text transform="translate(34.6 242.2) rotate(-90)" font-style="normal">)</text></g>
<g font-size="42"><text transform="translate(1022.1 308.5) rotate(-90) scale(1.25 1)" font-style="italic">f</text><text transform="translate(1022.1 280.2) rotate(-90)" font-style="normal">(</text><text transform="translate(1022.1 265.6) rotate(-90)" font-style="italic">η</text><text transform="translate(1022.1 242.5) rotate(-90)" font-style="normal">)</text></g>
<g font-size="42"><text transform="translate(34.4 1015.4) rotate(-90) scale(1.25 1)" font-style="italic">f</text><text transform="translate(34.4 987.1) rotate(-90)" font-style="normal">(</text><text transform="translate(34.4 972.5) rotate(-90)" font-style="italic">η</text><text transform="translate(34.4 949.4) rotate(-90)" font-style="normal">)</text></g>
<g font-size="42"><text transform="translate(1024.0 1020.7) rotate(-90) scale(1.25 1)" font-style="italic">f</text><text transform="translate(1024.0 992.4) rotate(-90)" font-style="normal">(</text><text transform="translate(1024.0 977.8) rotate(-90)" font-style="italic">η</text><text transform="translate(1024.0 954.6) rotate(-90)" font-style="normal">)</text></g>
<g font-size="31" fill="none"><text fill="#000" x="128.1" y="47.2">λ</text><text fill="#000" x="145.3" y="52.0" font-size="21.5">1</text><text fill="#000" x="155.9" y="47.2">=-1.0</text><text fill="#000" x="128.1" y="84.6">λ</text><text fill="#000" x="145.3" y="89.4" font-size="21.5">1</text><text fill="#000" x="155.9" y="84.6">=-0.5</text><text fill="#000" x="128.1" y="123.1">λ</text><text fill="#000" x="145.3" y="127.9" font-size="21.5">1</text><text fill="#000" x="155.9" y="123.1">=0.0</text><text fill="#000" x="128.1" y="161.0">λ</text><text fill="#000" x="145.3" y="165.8" font-size="21.5">1</text><text fill="#000" x="155.9" y="161.0">=0.5</text><path d="M225.8 37.1H288.8" stroke="#fb8080" stroke-width="2.4"/><path d="M226.8 76.1H289.3" stroke="#111" stroke-width="3" stroke-dasharray="8.4 9"/><path d="M221.0 115.1H289.9" stroke="#00f00a" stroke-width="3.4" stroke-dasharray="34.5 13.5"/><path d="M222.0 151.9H289.3" stroke="#808080" stroke-width="2"/><text fill="#000" x="1115.7" y="47.4">λ</text><text fill="#000" x="1132.9" y="52.2" font-size="21.5">2</text><text fill="#000" x="1143.5" y="47.4">=-1.0</text><text fill="#000" x="1115.7" y="85.3">λ</text><text fill="#000" x="1132.9" y="90.1" font-size="21.5">2</text><text fill="#000" x="1143.5" y="85.3">=-0.5</text><text fill="#000" x="1115.7" y="123.2">λ</text><text fill="#000" x="1132.9" y="128.0" font-size="21.5">2</text><text fill="#000" x="1143.5" y="123.2">=0.0</text><text fill="#000" x="1115.7" y="166.5">λ</text><text fill="#000" x="1132.9" y="171.3" font-size="21.5">2</text><text fill="#000" x="1143.5" y="166.5">=0.5</text><path d="M1232.7 38.5H1295.5" stroke="#fb8080" stroke-width="2.4"/><path d="M1233.3 76.3H1296.2" stroke="#111" stroke-width="3" stroke-dasharray="8.4 9"/><path d="M1227.0 116.0H1296.1" stroke="#00f00a" stroke-width="3.4" stroke-dasharray="34.5 13.5"/><path d="M1230.5 156.5H1297.6" stroke="#808080" stroke-width="2"/><text fill="#000" x="127.7" y="760.1">λ</text><text fill="#000" x="144.9" y="764.9" font-size="21.5">3</text><text fill="#000" x="155.5" y="760.1">=-1.0</text><text fill="#000" x="127.7" y="797.3">λ</text><text fill="#000" x="144.9" y="802.1" font-size="21.5">3</text><text fill="#000" x="155.5" y="797.3">=-0.5</text><text fill="#000" x="127.7" y="832.5">λ</text><text fill="#000" x="144.9" y="837.3" font-size="21.5">3</text><text fill="#000" x="155.5" y="832.5">=0.0</text><text fill="#000" x="126.4" y="871.6">λ</text><text fill="#000" x="143.6" y="876.4" font-size="21.5">3</text><text fill="#000" x="154.2" y="871.6">=0.5</text><path d="M232.5 750.5H296.0" stroke="#fb8080" stroke-width="2.4"/><path d="M231.9 786.1H294.0" stroke="#111" stroke-width="3" stroke-dasharray="8.4 9"/><path d="M228.7 822.0H297.9" stroke="#00f00a" stroke-width="3.4" stroke-dasharray="34.5 13.5"/><path d="M227.4 860.7H294.0" stroke="#808080" stroke-width="2"/><text fill="#000" x="1116.8" y="760.1">M=0.5</text><text fill="#000" x="1116.8" y="796.3">M=1.0</text><text fill="#000" x="1116.8" y="834.0">M=1.5</text><text fill="#000" x="1116.8" y="873.3">M=2.0</text><path d="M1213.2 750.2H1276.4" stroke="#fb8080" stroke-width="2.4"/><path d="M1213.2 786.8H1275.3" stroke="#111" stroke-width="3" stroke-dasharray="8.4 9"/><path d="M1208.1 826.7H1276.8" stroke="#00f00a" stroke-width="3.4" stroke-dasharray="34.5 13.5"/><path d="M1210.3 865.1H1276.8" stroke="#808080" stroke-width="2"/></g>
<path d="M790.9 379.9L879.3 261.4" stroke="#555" stroke-width="1.7" fill="none"/><path d="M895.7 239.4L883.3 270.7L879.3 261.4L869.2 260.2Z" fill="#000"/>
<path d="M1705.8 204.8L1676.9 134.5" stroke="#555" stroke-width="1.7" fill="none"/><path d="M1666.5 109.1L1687.0 135.8L1676.9 134.5L1670.7 142.5Z" fill="#000"/>
<path d="M674.1 979.4L638.8 907.5" stroke="#555" stroke-width="1.7" fill="none"/><path d="M626.7 882.8L648.9 908.1L638.8 907.5L633.1 915.9Z" fill="#000"/>
<path d="M1215.6 1052.9L1351.6 1197.3" stroke="#555" stroke-width="1.7" fill="none"/><path d="M1370.5 1217.3L1341.8 1199.7L1351.6 1197.3L1354.6 1187.6Z" fill="#000"/>
</svg></body></html>
